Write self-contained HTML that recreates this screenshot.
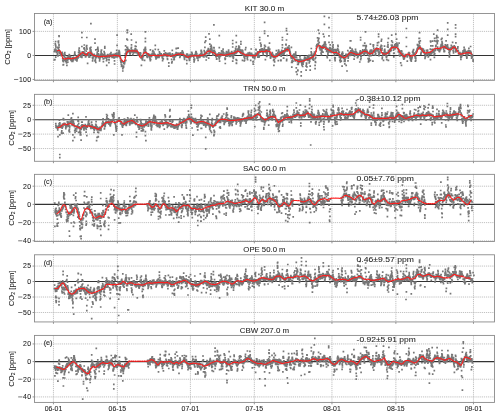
<!DOCTYPE html><html><head><meta charset="utf-8"><style>
html,body{margin:0;padding:0;background:#fff;width:500px;height:416px;overflow:hidden}
svg{will-change:transform}
svg text{font-family:"Liberation Sans", sans-serif;fill:#1a1a1a;stroke:#1a1a1a;stroke-width:0.06px}
.gr{stroke:#b2b2b2;stroke-width:0.8;stroke-dasharray:1.2 0.9}
.sp{stroke:#8a8a8a;stroke-width:0.9}
.tk{stroke:#8a8a8a;stroke-width:0.9}
.tl{font-size:6.9px}
.tt{font-size:8px}
.pl{font-size:7.2px}
.yl{font-size:7.7px}
</style></head><body><svg width="500" height="416" viewBox="0 0 500 416" style="position:absolute;left:0;top:0">
<rect width="500" height="416" fill="#fff"/>
<line x1="53.45" y1="13.52" x2="53.45" y2="80.34" class="gr"/>
<line x1="117.37" y1="13.52" x2="117.37" y2="80.34" class="gr"/>
<line x1="190.41" y1="13.52" x2="190.41" y2="80.34" class="gr"/>
<line x1="254.33" y1="13.52" x2="254.33" y2="80.34" class="gr"/>
<line x1="331.94" y1="13.52" x2="331.94" y2="80.34" class="gr"/>
<line x1="395.86" y1="13.52" x2="395.86" y2="80.34" class="gr"/>
<line x1="473.47" y1="13.52" x2="473.47" y2="80.34" class="gr"/>
<line x1="34.46" y1="31.38" x2="494.48" y2="31.38" class="gr"/>
<line x1="34.46" y1="79.48" x2="494.48" y2="79.48" class="gr"/>
<clipPath id="c0"><rect x="34.46" y="13.52" width="460.02" height="66.82"/></clipPath>
<line x1="34.46" y1="55.43" x2="494.48" y2="55.43" stroke="#333" stroke-width="1.1"/>
<path clip-path="url(#c0)" d="M54.3 51.5h0M54.5 51.6h0M54.6 51.7h0M54.8 50.4h0M55.0 49.3h0M55.3 43.7h0M55.5 44.8h0M55.6 41.5h0M55.8 46.0h0M56.0 47.7h0M56.2 50.1h0M56.4 51.6h0M56.6 52.3h0M56.8 51.0h0M56.9 51.5h0M57.2 51.3h0M57.4 54.8h0M57.5 53.4h0M57.7 54.4h0M58.0 55.8h0M58.2 48.3h0M58.3 48.5h0M58.4 50.6h0M58.7 50.1h0M58.8 50.7h0M59.0 50.0h0M59.2 52.5h0M59.4 50.9h0M59.7 52.4h0M59.8 53.1h0M60.0 51.6h0M60.2 52.9h0M60.3 55.1h0M60.6 54.7h0M60.8 53.3h0M61.0 53.9h0M61.1 52.8h0M61.3 55.7h0M61.5 55.0h0M61.8 52.8h0M62.0 53.8h0M62.1 54.1h0M62.2 52.4h0M62.5 53.8h0M62.7 58.5h0M62.8 60.4h0M63.1 61.0h0M63.2 61.1h0M63.5 59.6h0M63.6 60.3h0M63.8 60.3h0M64.0 56.7h0M64.3 56.4h0M64.3 55.0h0M64.6 53.5h0M64.8 52.7h0M65.0 54.9h0M65.1 57.5h0M65.4 58.2h0M65.5 60.2h0M65.7 58.9h0M65.8 61.5h0M66.0 59.6h0M66.2 61.3h0M66.4 59.4h0M66.6 62.8h0M66.9 65.4h0M67.1 58.4h0M67.2 60.2h0M67.4 57.1h0M67.6 57.9h0M67.9 59.4h0M68.0 59.6h0M68.3 58.6h0M68.4 57.8h0M68.6 56.3h0M68.8 56.7h0M69.0 58.9h0M69.2 54.7h0M69.3 58.1h0M69.5 55.3h0M69.7 55.6h0M70.0 59.0h0M70.1 58.5h0M70.3 57.9h0M70.5 57.3h0M70.6 56.8h0M70.9 59.3h0M71.0 60.5h0M71.2 60.2h0M71.4 60.3h0M71.7 59.7h0M71.8 60.4h0M72.0 61.5h0M72.2 60.9h0M72.3 59.6h0M72.6 57.8h0M72.8 61.4h0M72.9 58.4h0M73.1 60.0h0M73.4 57.3h0M73.5 59.0h0M73.7 59.6h0M73.9 58.6h0M74.1 58.5h0M74.3 58.5h0M74.5 54.8h0M74.7 53.7h0M74.8 52.1h0M75.1 54.5h0M75.2 58.3h0M75.4 58.2h0M75.5 58.2h0M75.8 58.0h0M75.9 59.8h0M76.1 58.3h0M76.4 60.0h0M76.5 56.4h0M76.7 59.6h0M76.9 60.9h0M77.1 59.7h0M77.3 58.1h0M77.5 57.5h0M77.7 56.4h0M78.0 55.9h0M78.0 57.8h0M78.2 57.7h0M78.5 54.9h0M78.6 52.3h0M78.9 50.0h0M79.1 52.9h0M79.2 48.2h0M79.4 50.6h0M79.7 52.0h0M79.7 52.8h0M80.0 53.3h0M80.2 57.0h0M80.4 54.2h0M80.6 53.6h0M80.7 56.8h0M80.9 56.0h0M81.2 54.6h0M81.4 54.7h0M81.4 55.4h0M81.7 56.1h0M81.9 57.4h0M82.1 54.4h0M82.3 51.8h0M82.5 55.3h0M82.6 54.0h0M82.8 53.1h0M83.1 52.0h0M83.2 52.7h0M83.5 53.2h0M83.7 53.8h0M83.9 51.9h0M83.9 48.6h0M84.2 47.9h0M84.3 45.0h0M84.6 48.7h0M84.8 50.0h0M84.9 53.4h0M85.0 53.4h0M85.3 55.4h0M85.5 56.8h0M85.8 56.7h0M85.8 54.6h0M86.1 53.9h0M86.3 51.1h0M86.4 46.5h0M86.7 45.6h0M86.8 48.0h0M87.0 49.1h0M87.2 54.3h0M87.4 55.3h0M87.5 55.5h0M87.8 53.6h0M88.0 54.0h0M88.1 53.4h0M88.4 53.9h0M88.6 53.7h0M88.7 54.3h0M89.0 57.1h0M89.2 55.0h0M89.3 56.0h0M89.6 53.7h0M89.7 54.5h0M89.8 56.9h0M90.0 48.1h0M90.2 51.2h0M90.4 49.5h0M90.7 49.8h0M90.8 54.2h0M91.0 50.4h0M91.2 52.9h0M91.3 52.2h0M91.5 54.1h0M91.8 54.3h0M91.9 53.3h0M92.1 55.5h0M92.4 57.6h0M92.6 60.9h0M92.8 58.8h0M92.9 58.4h0M93.1 57.3h0M93.3 55.3h0M93.4 54.5h0M93.7 56.0h0M93.9 55.6h0M94.1 54.7h0M94.2 54.3h0M94.4 54.8h0M94.6 56.0h0M94.8 56.5h0M95.0 60.9h0M95.3 59.4h0M95.4 60.4h0M95.6 57.5h0M95.8 62.3h0M96.0 56.9h0M96.2 57.7h0M96.3 56.0h0M96.5 56.1h0M96.7 57.3h0M96.9 55.0h0M97.2 53.4h0M97.3 52.1h0M97.5 49.2h0M97.8 47.3h0M97.9 48.8h0M98.1 50.1h0M98.2 51.1h0M98.4 53.9h0M98.6 55.4h0M98.8 57.7h0M98.9 57.7h0M99.2 55.4h0M99.4 57.9h0M99.6 60.9h0M99.7 59.1h0M99.9 58.3h0M100.1 57.1h0M100.3 55.7h0M100.6 56.5h0M100.7 54.3h0M100.9 54.6h0M101.1 51.6h0M101.3 53.1h0M101.4 50.0h0M101.6 50.0h0M101.9 53.8h0M102.0 54.8h0M102.2 57.2h0M102.5 55.5h0M102.7 57.2h0M102.8 57.0h0M103.0 54.7h0M103.2 58.9h0M103.4 61.6h0M103.6 58.9h0M103.8 55.3h0M103.9 55.0h0M104.1 51.6h0M104.3 54.9h0M104.6 53.2h0M104.7 54.5h0M104.9 58.0h0M105.0 55.7h0M105.3 57.2h0M105.5 57.0h0M105.7 55.5h0M105.9 57.0h0M106.1 56.1h0M106.2 58.0h0M106.5 60.6h0M106.7 65.4h0M106.8 59.6h0M107.0 57.5h0M107.2 55.9h0M107.3 55.4h0M107.6 56.6h0M107.8 56.1h0M107.9 54.6h0M108.1 56.0h0M108.3 56.1h0M108.5 57.0h0M108.7 59.5h0M108.9 62.6h0M109.1 59.9h0M109.3 57.3h0M109.4 57.4h0M109.6 55.3h0M109.8 55.8h0M110.0 55.1h0M110.2 53.8h0M110.5 55.1h0M110.6 55.3h0M110.7 54.4h0M111.0 52.6h0M111.1 56.2h0M111.4 54.9h0M111.5 55.5h0M111.8 56.3h0M112.0 56.3h0M112.1 57.3h0M112.4 54.8h0M112.5 55.5h0M112.8 57.3h0M112.8 54.6h0M113.1 56.1h0M113.3 55.8h0M113.5 54.4h0M113.7 56.2h0M113.8 57.3h0M114.0 58.0h0M114.2 57.9h0M114.5 60.9h0M114.5 57.6h0M114.7 54.8h0M114.9 55.5h0M115.1 55.4h0M115.4 53.5h0M115.6 56.3h0M115.7 56.6h0M115.9 55.7h0M116.2 56.8h0M116.4 53.6h0M116.5 54.2h0M116.7 50.4h0M116.9 53.0h0M117.1 55.2h0M117.3 54.4h0M117.5 57.0h0M117.7 55.7h0M117.8 55.0h0M118.1 55.9h0M118.2 56.0h0M118.4 54.4h0M118.7 52.5h0M118.7 52.7h0M119.0 50.7h0M119.2 51.5h0M119.4 51.5h0M119.6 53.0h0M119.7 54.5h0M119.9 55.5h0M120.2 56.7h0M120.3 58.1h0M120.5 58.4h0M120.6 60.3h0M120.9 61.6h0M121.1 62.5h0M121.3 64.3h0M121.5 66.5h0M121.7 64.5h0M121.8 65.7h0M122.0 60.6h0M122.3 61.7h0M122.3 61.8h0M122.6 62.0h0M122.8 62.0h0M123.0 66.5h0M123.1 66.7h0M123.3 67.5h0M123.6 66.9h0M123.8 63.1h0M123.9 63.0h0M124.2 63.8h0M124.4 64.0h0M124.5 62.2h0M124.7 62.6h0M124.8 61.5h0M125.1 57.1h0M125.3 53.9h0M125.5 49.8h0M125.6 45.9h0M125.9 49.5h0M126.0 52.0h0M126.2 53.2h0M126.4 54.5h0M126.6 53.0h0M126.7 52.0h0M127.0 51.8h0M127.2 52.7h0M127.3 51.2h0M127.6 50.0h0M127.7 49.1h0M127.8 50.5h0M128.1 51.4h0M128.3 49.5h0M128.5 50.1h0M128.6 51.6h0M128.9 50.5h0M129.0 51.7h0M129.2 51.4h0M129.5 52.5h0M129.6 50.1h0M129.9 51.6h0M129.9 53.9h0M130.2 54.0h0M130.4 52.8h0M130.6 51.5h0M130.7 51.1h0M130.9 50.9h0M131.2 48.3h0M131.4 50.6h0M131.5 50.5h0M131.6 51.6h0M132.0 50.1h0M132.1 51.9h0M132.2 50.7h0M132.5 50.5h0M132.6 51.3h0M132.8 54.7h0M133.1 50.3h0M133.3 52.4h0M133.5 52.8h0M133.6 52.6h0M133.8 50.6h0M134.0 51.9h0M134.2 52.0h0M134.4 51.0h0M134.6 51.4h0M134.7 52.3h0M135.0 49.8h0M135.2 48.5h0M135.3 46.2h0M135.5 51.3h0M135.7 49.0h0M136.0 50.5h0M136.1 52.6h0M136.2 51.2h0M136.5 51.6h0M136.6 50.8h0M136.8 50.1h0M137.1 51.1h0M137.2 52.7h0M137.5 53.1h0M137.6 55.0h0M137.8 52.5h0M138.0 53.0h0M138.2 52.4h0M138.4 53.8h0M138.5 53.7h0M138.7 53.3h0M139.0 54.9h0M139.1 54.4h0M139.4 55.5h0M139.5 55.5h0M139.8 54.2h0M139.9 52.8h0M140.1 54.5h0M140.3 55.5h0M140.5 52.9h0M140.7 53.9h0M140.9 56.0h0M141.0 55.8h0M141.2 58.2h0M141.5 57.5h0M141.6 56.0h0M141.8 57.9h0M141.9 57.2h0M142.2 59.4h0M142.4 59.4h0M142.6 59.8h0M142.7 57.6h0M142.9 55.7h0M143.1 56.0h0M143.4 56.3h0M143.6 53.1h0M143.7 52.4h0M143.9 53.5h0M144.0 50.0h0M144.3 49.7h0M144.5 50.6h0M144.6 50.1h0M144.8 50.4h0M145.1 48.4h0M145.3 50.3h0M145.4 50.8h0M145.7 49.3h0M145.8 52.1h0M146.1 52.7h0M146.2 53.3h0M146.3 53.4h0M146.6 54.7h0M146.8 54.8h0M146.9 56.6h0M147.2 54.8h0M147.2 55.2h0M147.5 57.5h0M147.8 56.6h0M147.8 56.1h0M148.1 53.9h0M148.2 55.5h0M148.4 54.6h0M148.6 54.6h0M148.8 56.0h0M149.1 54.4h0M149.2 55.3h0M149.4 55.8h0M149.6 54.6h0M149.8 57.7h0M150.0 58.9h0M150.2 59.2h0M150.3 60.6h0M150.5 59.7h0M150.7 59.5h0M150.9 56.2h0M151.1 55.0h0M151.4 55.9h0M151.4 56.6h0M151.7 54.1h0M152.0 55.3h0M152.1 54.3h0M152.3 54.1h0M152.5 52.0h0M152.6 54.2h0M152.9 50.7h0M153.0 53.8h0M153.3 55.0h0M153.4 54.6h0M153.6 54.4h0M153.8 54.5h0M153.9 52.0h0M154.2 53.5h0M154.4 54.5h0M154.5 54.1h0M154.7 55.2h0M154.9 55.3h0M155.2 54.7h0M155.2 55.5h0M155.5 56.3h0M155.7 55.5h0M155.8 57.3h0M156.0 58.9h0M156.3 57.2h0M156.4 58.2h0M156.7 55.7h0M156.8 55.5h0M157.1 55.6h0M157.3 56.0h0M157.4 55.7h0M157.6 55.4h0M157.7 55.9h0M158.0 57.3h0M158.1 54.5h0M158.3 49.7h0M158.5 55.1h0M158.7 55.6h0M159.0 57.4h0M159.2 55.6h0M159.3 55.2h0M159.5 55.6h0M159.7 53.2h0M159.8 55.1h0M160.0 55.7h0M160.2 53.6h0M160.4 53.9h0M160.7 54.3h0M160.9 55.5h0M161.0 54.2h0M161.2 53.9h0M161.4 55.7h0M161.5 55.0h0M161.8 55.5h0M161.9 55.6h0M162.2 57.1h0M162.4 57.9h0M162.6 60.6h0M162.7 58.5h0M162.9 55.5h0M163.2 58.5h0M163.3 58.9h0M163.4 56.0h0M163.7 55.7h0M163.9 53.8h0M164.1 55.3h0M164.2 55.0h0M164.4 54.5h0M164.7 54.8h0M164.8 53.8h0M165.0 54.6h0M165.1 53.4h0M165.3 53.7h0M165.6 54.4h0M165.7 52.8h0M166.0 54.9h0M166.2 54.6h0M166.3 55.8h0M166.6 54.9h0M166.7 55.3h0M166.9 53.8h0M167.1 56.3h0M167.2 56.0h0M167.4 58.7h0M167.6 59.3h0M167.9 55.9h0M168.1 54.7h0M168.2 53.4h0M168.4 54.5h0M168.6 54.5h0M168.8 55.5h0M169.0 55.1h0M169.2 54.6h0M169.4 54.7h0M169.5 54.4h0M169.7 54.9h0M169.9 53.0h0M170.2 55.3h0M170.4 54.7h0M170.5 54.3h0M170.6 54.7h0M170.9 55.6h0M171.1 55.9h0M171.3 55.7h0M171.4 56.1h0M171.6 59.4h0M171.8 62.8h0M172.1 61.7h0M172.3 50.3h0M172.5 53.8h0M172.6 55.4h0M172.8 55.8h0M173.0 57.0h0M173.3 55.1h0M173.4 56.7h0M173.5 56.5h0M173.7 55.1h0M173.9 59.6h0M174.1 57.8h0M174.3 59.5h0M174.5 55.9h0M174.7 56.2h0M174.9 55.5h0M175.1 55.2h0M175.3 56.7h0M175.4 54.1h0M175.7 55.9h0M175.9 54.5h0M176.1 52.6h0M176.2 48.6h0M176.4 48.3h0M176.6 48.4h0M176.8 54.0h0M176.9 54.5h0M177.1 54.1h0M177.4 53.5h0M177.6 53.6h0M177.8 53.1h0M178.0 53.7h0M178.1 54.8h0M178.4 53.6h0M178.5 54.8h0M178.7 53.9h0M178.9 53.5h0M179.1 53.4h0M179.3 55.1h0M179.5 53.6h0M179.7 54.7h0M179.8 57.3h0M180.0 55.0h0M180.2 56.4h0M180.3 55.0h0M180.7 52.9h0M180.7 53.3h0M181.0 53.8h0M181.2 53.4h0M181.4 54.5h0M181.6 54.1h0M181.7 54.4h0M181.9 54.2h0M182.1 52.0h0M182.4 53.3h0M182.5 54.0h0M182.7 53.3h0M182.9 54.3h0M183.1 52.3h0M183.2 53.1h0M183.4 53.9h0M183.6 55.6h0M183.8 55.5h0M184.0 55.5h0M184.2 56.8h0M184.4 58.7h0M184.6 59.4h0M184.8 55.9h0M184.9 55.9h0M185.1 56.8h0M185.3 55.9h0M185.6 55.8h0M185.7 56.3h0M186.0 56.2h0M186.1 55.8h0M186.4 55.3h0M186.6 57.3h0M186.7 54.1h0M186.8 56.1h0M187.0 55.9h0M187.2 55.3h0M187.4 54.2h0M187.7 57.3h0M187.9 57.0h0M187.9 56.7h0M188.3 55.4h0M188.4 56.3h0M188.7 55.4h0M188.8 57.3h0M189.1 57.7h0M189.2 58.8h0M189.4 60.4h0M189.5 60.3h0M189.7 59.3h0M189.9 57.7h0M190.1 55.7h0M190.3 54.6h0M190.5 55.3h0M190.7 56.8h0M190.8 54.8h0M191.0 55.4h0M191.3 55.9h0M191.4 55.5h0M191.6 52.4h0M191.8 52.5h0M192.1 53.7h0M192.2 54.0h0M192.5 55.1h0M192.6 55.1h0M192.8 56.0h0M193.0 55.4h0M193.2 55.8h0M193.4 56.1h0M193.5 55.6h0M193.8 57.3h0M193.9 59.6h0M194.1 61.8h0M194.4 60.1h0M194.6 59.0h0M194.7 55.5h0M194.8 55.0h0M195.1 54.9h0M195.3 55.2h0M195.5 53.6h0M195.6 53.2h0M195.9 51.7h0M196.0 53.1h0M196.2 52.0h0M196.4 55.8h0M196.6 55.4h0M196.8 53.6h0M197.0 57.1h0M197.1 57.3h0M197.4 56.6h0M197.6 55.7h0M197.8 58.4h0M197.9 57.5h0M198.1 60.4h0M198.3 56.7h0M198.5 55.7h0M198.6 56.3h0M198.8 55.5h0M199.1 56.5h0M199.2 55.7h0M199.5 54.6h0M199.6 57.3h0M199.7 56.8h0M200.1 54.9h0M200.1 56.7h0M200.4 55.7h0M200.6 55.8h0M200.9 54.9h0M200.9 53.6h0M201.2 51.2h0M201.3 50.4h0M201.5 51.9h0M201.7 52.1h0M201.9 53.5h0M202.1 55.8h0M202.2 54.9h0M202.5 54.8h0M202.6 54.9h0M202.9 55.6h0M203.0 55.3h0M203.3 56.0h0M203.4 56.6h0M203.6 55.4h0M203.8 56.7h0M204.0 57.0h0M204.2 50.6h0M204.4 53.9h0M204.5 52.0h0M204.8 54.9h0M205.0 52.7h0M205.1 52.4h0M205.3 53.3h0M205.5 52.4h0M205.7 53.6h0M206.0 55.8h0M206.1 56.1h0M206.2 60.0h0M206.5 56.9h0M206.6 56.9h0M206.9 53.7h0M207.1 53.6h0M207.2 50.9h0M207.5 50.5h0M207.6 51.5h0M207.8 51.0h0M208.1 49.7h0M208.3 48.7h0M208.4 51.1h0M208.6 48.9h0M208.7 58.2h0M209.0 53.9h0M209.2 53.5h0M209.3 52.6h0M209.5 52.3h0M209.7 53.0h0M209.9 52.7h0M210.0 51.5h0M210.2 50.2h0M210.4 52.1h0M210.7 49.9h0M210.8 48.5h0M211.1 49.7h0M211.2 45.3h0M211.5 47.1h0M211.7 48.0h0M211.8 49.4h0M212.0 50.4h0M212.2 51.2h0M212.3 52.3h0M212.6 52.3h0M212.7 53.0h0M212.9 54.6h0M213.2 55.2h0M213.4 52.1h0M213.5 52.4h0M213.8 52.5h0M213.9 50.4h0M214.1 48.0h0M214.4 51.0h0M214.4 50.3h0M214.7 51.9h0M214.8 52.8h0M215.0 52.2h0M215.2 54.5h0M215.5 54.5h0M215.5 53.6h0M215.8 53.6h0M215.9 56.4h0M216.2 56.9h0M216.4 56.3h0M216.6 59.1h0M216.8 58.8h0M217.0 55.8h0M217.2 55.2h0M217.3 56.1h0M217.5 54.8h0M217.7 56.1h0M217.9 54.2h0M218.0 55.1h0M218.2 55.9h0M218.5 55.7h0M218.7 55.3h0M218.8 56.9h0M219.0 52.9h0M219.2 58.8h0M219.4 58.0h0M219.6 55.5h0M219.8 54.9h0M220.0 56.3h0M220.2 54.0h0M220.3 55.1h0M220.5 55.6h0M220.8 55.4h0M220.9 53.4h0M221.1 55.4h0M221.4 53.0h0M221.6 51.1h0M221.7 50.9h0M221.9 54.1h0M222.1 54.2h0M222.2 54.8h0M222.5 54.7h0M222.6 51.8h0M222.9 51.2h0M223.1 49.1h0M223.3 52.3h0M223.4 52.7h0M223.6 53.5h0M223.8 52.8h0M224.0 54.3h0M224.1 54.3h0M224.4 55.0h0M224.6 55.1h0M224.7 55.1h0M225.0 58.2h0M225.1 59.5h0M225.3 63.5h0M225.4 58.6h0M225.8 56.1h0M225.9 54.0h0M226.1 53.7h0M226.3 52.6h0M226.5 51.7h0M226.6 52.3h0M226.9 54.4h0M227.0 54.6h0M227.2 56.2h0M227.4 53.7h0M227.6 54.4h0M227.8 52.5h0M228.0 54.8h0M228.2 53.0h0M228.4 52.2h0M228.6 50.1h0M228.7 51.9h0M228.9 52.9h0M229.1 53.2h0M229.3 56.5h0M229.5 54.2h0M229.6 54.6h0M229.8 55.9h0M230.1 54.5h0M230.3 54.3h0M230.4 54.0h0M230.7 55.3h0M230.8 56.3h0M231.1 52.7h0M231.2 54.7h0M231.4 54.7h0M231.7 51.6h0M231.8 51.7h0M232.0 52.5h0M232.1 54.9h0M232.4 53.4h0M232.5 54.0h0M232.7 54.3h0M232.9 56.6h0M233.1 56.3h0M233.3 58.4h0M233.5 57.3h0M233.7 55.1h0M233.9 53.4h0M234.1 52.9h0M234.3 52.0h0M234.4 51.1h0M234.6 54.6h0M234.9 52.9h0M235.0 51.5h0M235.2 52.0h0M235.4 51.4h0M235.6 48.4h0M235.7 49.7h0M236.0 53.4h0M236.1 59.6h0M236.4 63.1h0M236.5 63.4h0M236.7 60.3h0M236.9 52.5h0M237.2 51.5h0M237.2 51.3h0M237.5 49.2h0M237.7 50.4h0M237.9 50.8h0M238.0 50.0h0M238.2 50.6h0M238.4 49.4h0M238.7 48.1h0M238.8 46.0h0M239.0 47.2h0M239.3 47.7h0M239.5 47.2h0M239.6 52.0h0M239.7 49.9h0M240.0 49.7h0M240.2 51.4h0M240.3 50.4h0M240.5 52.4h0M240.8 53.5h0M240.9 52.7h0M241.1 51.2h0M241.3 52.2h0M241.5 52.6h0M241.7 52.1h0M241.8 52.6h0M242.0 50.2h0M242.2 54.5h0M242.4 51.9h0M242.7 50.6h0M242.8 52.3h0M243.0 53.1h0M243.1 55.2h0M243.4 53.4h0M243.5 54.8h0M243.7 54.4h0M244.0 56.8h0M244.1 56.3h0M244.3 61.0h0M244.6 58.0h0M244.7 60.0h0M244.8 58.2h0M245.1 55.0h0M245.4 49.6h0M245.5 55.5h0M245.7 55.6h0M245.8 56.2h0M246.0 55.3h0M246.3 54.3h0M246.5 55.1h0M246.5 54.3h0M246.7 54.7h0M247.1 56.5h0M247.2 58.3h0M247.5 59.5h0M247.6 59.7h0M247.7 56.6h0M247.9 55.5h0M248.1 53.2h0M248.4 54.4h0M248.6 53.5h0M248.6 54.3h0M248.9 55.3h0M249.0 55.1h0M249.3 53.8h0M249.4 54.1h0M249.6 52.5h0M249.8 54.7h0M250.0 54.2h0M250.3 53.7h0M250.4 55.7h0M250.6 54.1h0M250.8 54.1h0M251.0 54.0h0M251.2 49.0h0M251.3 54.6h0M251.6 53.3h0M251.8 54.8h0M251.9 54.7h0M252.1 55.3h0M252.4 55.2h0M252.5 55.7h0M252.8 57.3h0M252.9 57.5h0M253.0 61.9h0M253.2 64.2h0M253.4 61.3h0M253.7 57.7h0M253.9 55.8h0M254.1 55.0h0M254.2 55.7h0M254.5 57.0h0M254.7 58.7h0M254.9 56.9h0M255.0 56.8h0M255.1 55.6h0M255.4 55.0h0M255.5 53.3h0M255.7 53.5h0M255.9 49.4h0M256.1 49.9h0M256.3 54.5h0M256.4 53.8h0M256.7 54.3h0M256.9 55.2h0M257.1 54.6h0M257.3 54.9h0M257.4 52.8h0M257.6 51.9h0M257.8 57.2h0M258.1 56.2h0M258.3 54.9h0M258.4 53.0h0M258.7 52.1h0M258.8 53.7h0M259.0 57.1h0M259.2 56.2h0M259.4 55.9h0M259.6 51.8h0M259.8 51.2h0M259.9 49.9h0M260.1 51.7h0M260.4 50.6h0M260.5 52.1h0M260.7 50.4h0M261.0 46.3h0M261.1 44.8h0M261.2 49.4h0M261.5 49.1h0M261.6 50.6h0M261.9 50.3h0M262.0 51.4h0M262.2 48.8h0M262.5 51.4h0M262.6 51.2h0M262.8 52.3h0M263.0 50.7h0M263.1 53.7h0M263.3 55.0h0M263.6 52.0h0M263.7 49.9h0M264.0 50.1h0M264.1 49.4h0M264.4 48.1h0M264.6 45.3h0M264.7 45.6h0M265.0 51.6h0M265.0 50.1h0M265.3 50.1h0M265.5 51.1h0M265.6 51.4h0M265.8 49.9h0M266.0 51.9h0M266.2 51.5h0M266.3 53.0h0M266.6 56.4h0M266.9 56.2h0M267.0 54.1h0M267.1 52.9h0M267.3 49.9h0M267.5 52.4h0M267.7 51.1h0M267.9 50.3h0M268.2 47.7h0M268.2 48.6h0M268.5 50.4h0M268.7 51.1h0M268.9 50.1h0M269.1 49.7h0M269.2 50.6h0M269.4 50.1h0M269.7 49.1h0M269.8 52.9h0M270.0 54.7h0M270.2 55.7h0M270.4 57.6h0M270.6 58.1h0M270.8 54.5h0M271.0 56.7h0M271.1 56.5h0M271.3 54.8h0M271.5 54.2h0M271.7 54.6h0M272.0 54.3h0M272.2 54.8h0M272.3 52.5h0M272.6 54.0h0M272.7 55.0h0M272.8 56.6h0M273.1 56.7h0M273.2 55.1h0M273.4 55.7h0M273.6 57.5h0M273.9 56.9h0M274.0 59.5h0M274.2 56.0h0M274.4 60.0h0M274.6 61.8h0M274.8 55.8h0M274.9 56.3h0M275.2 55.5h0M275.4 58.0h0M275.5 56.2h0M275.8 56.1h0M275.9 55.4h0M276.1 56.2h0M276.2 53.8h0M276.4 50.6h0M276.7 54.8h0M276.9 54.5h0M277.0 56.3h0M277.3 54.7h0M277.5 55.8h0M277.6 54.6h0M277.8 52.9h0M278.1 52.3h0M278.1 52.3h0M278.4 52.4h0M278.6 50.1h0M278.8 51.2h0M279.0 53.8h0M279.2 53.2h0M279.4 53.9h0M279.5 52.3h0M279.7 54.4h0M279.9 52.1h0M280.2 52.8h0M280.3 52.2h0M280.5 55.3h0M280.7 60.1h0M280.9 60.6h0M281.0 60.2h0M281.2 56.1h0M281.4 54.7h0M281.6 53.0h0M281.7 50.3h0M282.0 51.8h0M282.2 51.8h0M282.4 51.1h0M282.6 53.4h0M282.7 52.0h0M282.9 51.4h0M283.2 50.9h0M283.3 54.4h0M283.5 58.1h0M283.7 58.1h0M284.0 54.0h0M284.1 53.6h0M284.2 52.5h0M284.5 51.9h0M284.7 50.7h0M284.9 51.7h0M285.0 48.9h0M285.2 49.4h0M285.5 50.8h0M285.6 48.4h0M285.8 44.7h0M286.0 44.3h0M286.1 45.0h0M286.4 50.3h0M286.6 60.7h0M286.7 59.4h0M287.0 55.3h0M287.2 50.8h0M287.4 48.9h0M287.5 47.4h0M287.7 48.8h0M287.9 47.6h0M288.1 48.9h0M288.2 48.4h0M288.5 48.5h0M288.7 47.9h0M288.8 48.0h0M289.1 45.9h0M289.3 48.6h0M289.4 48.9h0M289.6 50.1h0M289.8 51.1h0M290.0 52.9h0M290.2 52.0h0M290.4 53.5h0M290.5 54.3h0M290.7 55.5h0M291.0 56.9h0M291.2 56.1h0M291.3 58.5h0M291.6 62.5h0M291.8 67.1h0M291.8 62.4h0M292.1 60.9h0M292.3 62.3h0M292.5 56.6h0M292.7 58.4h0M292.8 59.0h0M293.0 57.6h0M293.2 55.0h0M293.4 57.1h0M293.6 57.0h0M293.8 54.5h0M294.0 54.1h0M294.2 55.0h0M294.4 55.8h0M294.6 56.4h0M294.8 57.2h0M294.9 59.7h0M295.1 59.3h0M295.2 61.0h0M295.6 53.6h0M295.7 52.2h0M295.8 54.9h0M296.1 57.1h0M296.2 59.5h0M296.4 60.1h0M296.6 57.4h0M296.8 60.2h0M297.0 60.2h0M297.2 59.6h0M297.4 61.6h0M297.6 64.3h0M297.8 70.1h0M297.9 70.6h0M298.1 64.5h0M298.3 64.3h0M298.5 62.8h0M298.7 59.8h0M299.0 60.5h0M299.2 61.3h0M299.3 62.0h0M299.5 60.3h0M299.6 59.7h0M299.9 56.8h0M300.0 56.4h0M300.3 59.2h0M300.5 59.8h0M300.6 59.5h0M300.8 61.2h0M301.0 60.2h0M301.3 61.9h0M301.3 61.6h0M301.6 62.7h0M301.8 64.0h0M302.0 62.9h0M302.1 60.1h0M302.3 64.1h0M302.5 62.4h0M302.7 66.5h0M302.9 62.8h0M303.1 64.2h0M303.4 62.0h0M303.5 61.6h0M303.6 60.9h0M303.9 60.9h0M304.0 60.0h0M304.2 59.2h0M304.4 59.2h0M304.6 57.0h0M304.7 58.0h0M305.0 60.0h0M305.2 57.9h0M305.4 59.4h0M305.6 58.6h0M305.8 57.5h0M305.9 60.0h0M306.2 59.2h0M306.4 63.0h0M306.5 64.4h0M306.7 63.0h0M306.9 66.9h0M307.2 59.0h0M307.3 58.7h0M307.5 56.0h0M307.7 60.4h0M307.9 57.4h0M308.1 60.1h0M308.3 57.9h0M308.5 58.5h0M308.6 58.5h0M308.8 56.6h0M309.0 55.3h0M309.2 62.9h0M309.4 60.4h0M309.5 60.8h0M309.8 61.5h0M309.9 58.9h0M310.1 58.7h0M310.4 57.5h0M310.6 57.9h0M310.7 57.9h0M310.9 55.0h0M311.2 51.9h0M311.3 48.5h0M311.5 53.2h0M311.7 57.0h0M311.8 54.6h0M312.1 57.8h0M312.3 58.3h0M312.4 57.4h0M312.6 59.1h0M312.9 58.5h0M313.1 56.3h0M313.1 58.0h0M313.4 60.2h0M313.6 59.8h0M313.7 54.1h0M313.9 54.1h0M314.2 54.4h0M314.3 54.4h0M314.5 52.2h0M314.7 53.0h0M315.0 55.4h0M315.1 58.7h0M315.3 61.7h0M315.6 62.4h0M315.7 57.7h0M315.9 55.1h0M316.0 51.2h0M316.3 48.6h0M316.4 46.2h0M316.6 46.7h0M316.9 44.8h0M317.0 44.6h0M317.2 44.6h0M317.4 45.5h0M317.6 37.9h0M317.7 44.9h0M318.0 41.0h0M318.1 43.7h0M318.4 44.2h0M318.5 44.2h0M318.8 38.5h0M318.9 38.4h0M319.1 42.4h0M319.2 42.5h0M319.5 47.1h0M319.6 48.4h0M319.8 46.4h0M320.1 46.1h0M320.2 49.8h0M320.4 48.4h0M320.5 48.1h0M320.8 48.4h0M321.0 46.6h0M321.1 53.1h0M321.4 54.6h0M321.5 51.3h0M321.8 50.4h0M321.9 48.7h0M322.2 51.4h0M322.3 47.4h0M322.6 48.2h0M322.6 45.8h0M322.9 52.2h0M323.0 52.1h0M323.3 48.1h0M323.5 45.1h0M323.7 46.2h0M323.8 44.8h0M324.1 47.0h0M324.2 46.2h0M324.4 43.7h0M324.6 42.1h0M324.7 46.1h0M325.0 42.8h0M325.2 42.0h0M325.4 44.2h0M325.5 49.2h0M325.8 44.9h0M325.9 46.9h0M326.2 49.0h0M326.4 48.2h0M326.6 51.4h0M326.7 50.8h0M326.9 51.0h0M327.0 55.9h0M327.3 57.7h0M327.4 48.4h0M327.6 49.4h0M327.9 54.1h0M328.0 52.3h0M328.2 51.0h0M328.4 50.7h0M328.5 49.7h0M328.8 51.8h0M328.9 50.4h0M329.1 49.2h0M329.4 51.9h0M329.5 51.0h0M329.7 47.6h0M329.9 48.7h0M330.2 44.9h0M330.3 48.0h0M330.5 51.7h0M330.6 49.0h0M330.9 51.1h0M331.0 50.7h0M331.2 52.3h0M331.5 52.1h0M331.7 49.6h0M331.9 50.9h0M332.0 49.3h0M332.3 50.1h0M332.5 48.9h0M332.7 46.5h0M332.7 50.1h0M332.9 50.5h0M333.2 52.0h0M333.4 51.0h0M333.6 50.5h0M333.7 50.9h0M333.9 52.3h0M334.1 49.6h0M334.2 53.5h0M334.5 54.8h0M334.7 57.5h0M334.9 58.9h0M335.1 60.7h0M335.2 57.8h0M335.4 53.3h0M335.6 50.9h0M335.8 49.5h0M336.1 50.6h0M336.2 51.5h0M336.5 50.1h0M336.5 53.0h0M336.7 53.0h0M337.0 54.2h0M337.1 50.0h0M337.4 50.1h0M337.6 50.4h0M337.7 48.5h0M337.9 45.3h0M338.1 46.5h0M338.3 50.9h0M338.4 50.2h0M338.6 53.9h0M338.8 52.5h0M339.0 54.7h0M339.3 52.2h0M339.4 56.9h0M339.6 56.5h0M339.8 60.5h0M340.0 57.7h0M340.2 59.8h0M340.4 62.0h0M340.5 60.6h0M340.7 58.3h0M340.9 55.2h0M341.2 55.4h0M341.3 57.1h0M341.6 57.1h0M341.8 53.7h0M342.0 56.3h0M342.1 54.1h0M342.3 53.7h0M342.5 52.2h0M342.6 55.6h0M342.9 53.6h0M343.0 57.5h0M343.2 56.1h0M343.5 56.9h0M343.6 58.3h0M343.8 57.5h0M344.0 57.3h0M344.1 58.2h0M344.3 61.3h0M344.6 60.0h0M344.8 63.9h0M345.0 61.4h0M345.1 59.9h0M345.3 57.0h0M345.5 57.4h0M345.7 57.9h0M345.9 54.4h0M346.0 54.4h0M346.3 55.7h0M346.5 55.0h0M346.7 55.9h0M346.9 54.4h0M347.1 56.0h0M347.2 55.8h0M347.4 54.4h0M347.7 55.1h0M347.9 56.3h0M348.0 60.8h0M348.2 58.2h0M348.4 56.6h0M348.6 54.9h0M348.8 55.1h0M348.9 53.8h0M349.2 53.8h0M349.3 52.3h0M349.5 53.2h0M349.8 52.3h0M349.9 53.1h0M350.0 47.7h0M350.3 55.3h0M350.4 53.1h0M350.6 54.3h0M350.9 50.8h0M351.0 52.1h0M351.2 53.9h0M351.4 51.3h0M351.6 52.8h0M351.9 54.8h0M352.1 49.2h0M352.2 50.8h0M352.4 52.3h0M352.7 50.6h0M352.7 51.7h0M352.9 53.3h0M353.2 53.1h0M353.3 53.4h0M353.5 53.1h0M353.7 54.1h0M353.8 51.6h0M354.1 59.1h0M354.3 55.1h0M354.5 56.5h0M354.6 53.1h0M354.8 54.0h0M355.1 52.2h0M355.3 55.1h0M355.5 49.3h0M355.5 52.5h0M355.8 51.3h0M355.9 54.7h0M356.1 52.2h0M356.4 53.8h0M356.6 52.9h0M356.8 52.7h0M357.0 54.7h0M357.1 53.7h0M357.4 57.7h0M357.5 57.7h0M357.7 55.6h0M357.9 55.4h0M358.0 56.6h0M358.2 55.9h0M358.4 54.4h0M358.7 54.4h0M358.9 55.1h0M359.1 53.9h0M359.2 53.6h0M359.4 53.4h0M359.7 53.2h0M359.9 52.7h0M360.1 52.1h0M360.2 54.5h0M360.3 50.8h0M360.6 54.2h0M360.8 56.4h0M361.0 58.4h0M361.2 56.4h0M361.4 55.5h0M361.6 52.6h0M361.8 53.5h0M361.9 52.2h0M362.1 53.0h0M362.4 52.0h0M362.5 51.2h0M362.6 51.9h0M362.8 49.9h0M363.1 50.8h0M363.2 45.6h0M363.5 50.9h0M363.6 51.0h0M363.7 52.0h0M363.9 53.9h0M364.2 55.2h0M364.4 51.9h0M364.6 53.7h0M364.8 49.8h0M364.9 50.4h0M365.2 52.6h0M365.4 52.6h0M365.5 50.8h0M365.7 48.4h0M366.0 46.7h0M366.1 45.7h0M366.3 46.2h0M366.4 53.0h0M366.6 50.0h0M366.8 50.9h0M367.1 51.5h0M367.3 51.9h0M367.5 54.7h0M367.6 52.8h0M367.8 53.6h0M367.9 53.6h0M368.1 58.6h0M368.4 58.6h0M368.5 61.9h0M368.7 60.2h0M368.9 61.2h0M369.2 58.4h0M369.3 55.9h0M369.5 53.7h0M369.7 52.2h0M369.9 54.1h0M370.0 51.4h0M370.3 51.9h0M370.4 50.3h0M370.6 53.5h0M370.9 55.6h0M371.1 50.7h0M371.2 50.2h0M371.3 50.8h0M371.7 50.0h0M371.8 50.6h0M371.9 51.8h0M372.1 52.6h0M372.3 51.3h0M372.6 53.6h0M372.7 54.6h0M372.9 61.1h0M373.2 44.9h0M373.3 46.5h0M373.6 45.0h0M373.8 48.4h0M373.8 51.0h0M374.0 50.3h0M374.2 51.5h0M374.4 50.9h0M374.6 51.7h0M374.8 50.4h0M375.0 52.1h0M375.2 54.3h0M375.3 55.2h0M375.6 54.9h0M375.8 53.3h0M375.9 50.6h0M376.1 48.9h0M376.4 51.0h0M376.6 48.0h0M376.8 49.0h0M376.9 49.1h0M377.1 48.6h0M377.3 45.3h0M377.5 42.8h0M377.6 45.4h0M377.9 50.7h0M378.0 50.0h0M378.2 49.6h0M378.5 52.2h0M378.6 52.7h0M378.8 54.5h0M379.0 55.7h0M379.3 52.2h0M379.4 52.5h0M379.5 53.6h0M379.8 52.3h0M380.0 52.7h0M380.2 50.4h0M380.4 47.6h0M380.6 49.9h0M380.7 49.3h0M380.8 46.5h0M381.2 45.3h0M381.3 41.1h0M381.6 39.3h0M381.7 45.9h0M381.8 50.1h0M382.1 48.4h0M382.2 58.7h0M382.4 57.1h0M382.7 53.2h0M382.9 54.9h0M382.9 52.8h0M383.2 54.1h0M383.3 53.0h0M383.6 53.6h0M383.7 54.3h0M383.9 53.2h0M384.2 52.3h0M384.4 50.3h0M384.5 46.2h0M384.8 49.3h0M384.9 51.0h0M385.0 53.1h0M385.3 54.5h0M385.6 55.2h0M385.6 53.6h0M385.9 53.9h0M386.0 52.5h0M386.2 56.6h0M386.5 57.5h0M386.7 59.6h0M386.8 56.2h0M387.0 53.4h0M387.2 52.6h0M387.4 53.0h0M387.5 46.6h0M387.8 42.6h0M388.0 44.8h0M388.1 47.2h0M388.4 50.5h0M388.5 52.1h0M388.7 54.0h0M388.9 53.7h0M389.2 52.5h0M389.3 53.5h0M389.5 54.0h0M389.7 49.4h0M389.8 51.2h0M390.0 51.1h0M390.3 51.3h0M390.5 51.3h0M390.5 50.9h0M390.8 49.6h0M391.0 48.2h0M391.2 50.3h0M391.4 45.2h0M391.6 45.5h0M391.8 46.1h0M392.0 45.1h0M392.2 45.4h0M392.3 46.6h0M392.5 46.6h0M392.7 47.3h0M392.8 47.7h0M393.1 47.8h0M393.3 47.4h0M393.5 50.1h0M393.7 53.3h0M393.8 56.8h0M394.1 53.2h0M394.3 48.8h0M394.4 46.3h0M394.6 46.3h0M394.8 44.8h0M394.9 46.6h0M395.2 48.6h0M395.5 45.1h0M395.5 44.7h0M395.7 43.9h0M396.0 47.3h0M396.1 46.1h0M396.3 46.7h0M396.5 45.7h0M396.8 45.5h0M396.9 43.0h0M397.1 44.7h0M397.2 45.8h0M397.5 46.1h0M397.6 46.6h0M397.8 44.8h0M398.1 48.5h0M398.3 51.8h0M398.4 49.8h0M398.6 49.5h0M398.8 50.1h0M398.9 49.8h0M399.2 55.0h0M399.4 52.8h0M399.6 55.5h0M399.8 52.7h0M399.9 56.0h0M400.1 51.1h0M400.3 52.5h0M400.5 52.2h0M400.7 54.0h0M400.9 51.3h0M401.0 52.9h0M401.2 53.7h0M401.4 50.9h0M401.7 51.4h0M401.8 51.6h0M402.1 54.7h0M402.2 54.2h0M402.4 54.1h0M402.6 56.0h0M402.8 53.5h0M402.9 55.0h0M403.1 56.5h0M403.4 57.2h0M403.5 58.1h0M403.7 59.2h0M403.9 58.8h0M404.0 57.7h0M404.3 58.3h0M404.6 57.4h0M404.7 56.1h0M405.0 55.6h0M405.0 55.8h0M405.3 54.5h0M405.5 55.9h0M405.6 54.9h0M405.8 55.3h0M406.1 55.5h0M406.2 54.8h0M406.4 55.7h0M406.7 55.4h0M406.8 55.2h0M406.9 55.4h0M407.2 56.9h0M407.3 56.8h0M407.6 55.5h0M407.8 54.8h0M407.9 55.0h0M408.2 55.1h0M408.3 55.4h0M408.5 53.2h0M408.7 54.6h0M408.9 54.2h0M409.0 52.5h0M409.2 53.6h0M409.5 53.3h0M409.6 53.8h0M409.8 56.5h0M410.1 57.5h0M410.2 58.1h0M410.4 57.0h0M410.6 59.9h0M410.8 58.8h0M411.0 58.7h0M411.1 60.4h0M411.3 60.2h0M411.5 57.7h0M411.8 58.6h0M411.9 55.4h0M412.1 57.4h0M412.3 55.5h0M412.6 55.5h0M412.6 52.2h0M412.9 52.7h0M413.0 51.6h0M413.2 50.7h0M413.4 54.0h0M413.6 49.6h0M413.8 53.2h0M414.1 53.1h0M414.2 53.4h0M414.4 54.9h0M414.5 55.1h0M414.8 55.8h0M415.0 55.5h0M415.2 57.4h0M415.4 58.1h0M415.5 56.6h0M415.8 58.3h0M416.0 52.1h0M416.1 52.8h0M416.2 51.7h0M416.5 52.0h0M416.7 51.4h0M416.8 50.7h0M417.0 50.1h0M417.2 48.6h0M417.4 44.7h0M417.7 45.2h0M417.9 47.7h0M418.0 48.4h0M418.3 46.9h0M418.4 47.7h0M418.6 48.6h0M418.8 46.4h0M419.0 45.2h0M419.2 47.5h0M419.4 47.8h0M419.6 46.2h0M419.7 46.6h0M419.9 46.0h0M420.2 48.7h0M420.3 47.5h0M420.4 47.7h0M420.7 49.2h0M420.8 54.1h0M421.0 53.6h0M421.2 52.4h0M421.5 49.7h0M421.6 48.9h0M421.8 50.3h0M422.1 48.6h0M422.2 49.8h0M422.4 50.5h0M422.5 51.4h0M422.8 49.8h0M423.0 49.0h0M423.2 49.5h0M423.3 49.1h0M423.5 52.2h0M423.7 51.7h0M423.9 52.0h0M424.1 50.5h0M424.3 53.1h0M424.5 51.8h0M424.7 54.5h0M424.9 53.7h0M425.0 58.4h0M425.2 56.8h0M425.4 56.5h0M425.6 55.8h0M425.8 55.7h0M426.0 54.8h0M426.2 53.5h0M426.4 50.4h0M426.6 53.3h0M426.8 53.3h0M426.9 50.4h0M427.1 51.4h0M427.3 50.9h0M427.6 50.4h0M427.6 50.2h0M427.9 54.1h0M428.1 54.1h0M428.2 57.0h0M428.4 55.1h0M428.6 56.3h0M428.9 54.2h0M429.0 53.1h0M429.2 52.3h0M429.5 53.8h0M429.6 53.0h0M429.8 54.1h0M430.0 53.6h0M430.1 52.3h0M430.3 49.2h0M430.5 41.2h0M430.7 42.0h0M430.9 45.8h0M431.1 49.7h0M431.3 51.8h0M431.5 54.0h0M431.8 52.5h0M431.9 52.6h0M432.1 52.4h0M432.3 51.8h0M432.5 41.2h0M432.7 45.8h0M432.8 49.4h0M433.1 51.3h0M433.2 51.5h0M433.5 51.3h0M433.7 50.6h0M433.8 52.1h0M433.9 52.3h0M434.1 54.6h0M434.4 57.3h0M434.6 53.9h0M434.8 53.7h0M434.9 50.7h0M435.1 49.2h0M435.3 50.3h0M435.5 48.7h0M435.7 49.7h0M435.8 46.2h0M436.0 45.4h0M436.3 41.4h0M436.5 37.9h0M436.7 35.5h0M436.9 37.0h0M437.1 40.4h0M437.3 43.6h0M437.3 42.6h0M437.6 47.1h0M437.8 49.8h0M438.0 48.8h0M438.1 49.0h0M438.4 49.7h0M438.6 49.3h0M438.8 49.9h0M439.0 50.3h0M439.1 50.9h0M439.3 50.4h0M439.5 51.7h0M439.6 51.1h0M439.9 50.5h0M440.1 49.0h0M440.3 48.6h0M440.5 47.2h0M440.6 49.3h0M440.8 48.3h0M441.0 45.5h0M441.2 44.5h0M441.3 39.3h0M441.6 46.5h0M441.7 44.6h0M442.0 44.4h0M442.2 43.2h0M442.4 44.0h0M442.6 45.8h0M442.8 46.2h0M442.9 46.4h0M443.2 47.4h0M443.2 47.7h0M443.5 48.0h0M443.7 49.1h0M444.0 51.0h0M444.1 51.7h0M444.3 50.9h0M444.5 51.2h0M444.6 51.5h0M444.9 47.3h0M445.0 47.0h0M445.3 47.7h0M445.4 45.8h0M445.7 46.5h0M445.7 48.0h0M446.0 46.4h0M446.2 47.9h0M446.3 48.4h0M446.6 46.7h0M446.7 47.6h0M447.0 45.7h0M447.2 46.3h0M447.2 47.6h0M447.5 44.9h0M447.7 46.6h0M447.8 48.1h0M448.0 49.2h0M448.2 48.6h0M448.5 48.0h0M448.6 48.8h0M448.8 49.8h0M449.0 52.4h0M449.2 55.8h0M449.4 57.0h0M449.6 54.1h0M449.7 51.9h0M450.0 50.9h0M450.2 49.1h0M450.4 49.5h0M450.6 48.0h0M450.8 49.2h0M450.9 48.6h0M451.1 49.5h0M451.3 45.4h0M451.4 47.3h0M451.7 48.5h0M451.9 48.4h0M452.0 48.4h0M452.3 48.2h0M452.4 47.0h0M452.6 46.5h0M452.9 47.8h0M452.9 47.2h0M453.1 50.7h0M453.5 52.8h0M453.6 52.1h0M453.8 48.7h0M454.0 47.7h0M454.2 47.3h0M454.3 45.8h0M454.5 47.2h0M454.7 47.3h0M455.0 47.3h0M455.0 46.9h0M455.2 48.3h0M455.5 50.9h0M455.7 49.0h0M455.8 51.9h0M456.1 49.2h0M456.3 50.5h0M456.4 50.4h0M456.6 51.1h0M456.8 50.9h0M457.0 50.9h0M457.2 50.8h0M457.4 51.2h0M457.6 51.0h0M457.7 48.4h0M457.9 46.8h0M458.2 50.6h0M458.3 50.9h0M458.5 53.4h0M458.7 54.0h0M458.9 53.9h0M459.1 53.9h0M459.3 53.9h0M459.5 54.5h0M459.7 55.2h0M459.9 52.7h0M460.0 53.0h0M460.2 53.9h0M460.4 54.6h0M460.7 56.8h0M460.8 57.5h0M460.9 59.3h0M461.2 57.2h0M461.3 56.2h0M461.5 56.7h0M461.8 55.8h0M461.9 54.1h0M462.1 55.2h0M462.4 52.8h0M462.6 52.6h0M462.7 54.4h0M462.9 52.7h0M463.1 50.8h0M463.2 53.0h0M463.5 52.5h0M463.7 51.9h0M463.9 50.3h0M464.1 51.9h0M464.3 51.5h0M464.4 49.3h0M464.6 50.7h0M464.7 49.9h0M464.9 49.6h0M465.2 51.3h0M465.4 51.9h0M465.6 53.8h0M465.7 53.8h0M466.0 52.5h0M466.1 53.2h0M466.4 51.6h0M466.5 56.4h0M466.8 58.2h0M467.0 55.0h0M467.0 57.0h0M467.3 55.2h0M467.5 54.3h0M467.7 52.7h0M467.9 52.4h0M468.1 51.2h0M468.2 53.9h0M468.4 52.8h0M468.6 50.5h0M468.9 48.4h0M469.0 53.5h0M469.1 50.8h0M469.4 51.7h0M469.5 52.2h0M469.8 51.8h0M470.0 52.3h0M470.2 53.1h0M470.3 53.2h0M470.4 51.1h0M470.8 52.5h0M470.9 53.4h0M471.1 52.3h0M471.2 55.3h0M471.5 56.1h0M471.6 58.2h0M471.8 57.3h0M472.1 57.4h0M472.2 54.6h0M472.5 55.6h0M59.1 36.3h0M58.6 41.0h0M58.6 43.0h0M59.0 45.4h0M59.0 47.3h0M63.5 61.7h0M63.5 64.6h0M67.8 62.2h0M54.3 59.8h0M59.0 35.9h0M58.2 41.6h0M59.0 44.9h0M57.9 47.3h0M54.9 59.6h0M55.7 57.1h0M81.9 32.6h0M81.9 37.5h0M81.9 46.5h0M86.8 37.5h0M86.8 45.7h0M90.9 23.6h0M90.9 47.3h0M90.1 48.9h0M95.0 39.2h0M95.0 43.2h0M95.8 49.8h0M104.8 46.5h0M104.8 48.1h0M117.1 35.1h0M117.1 45.4h0M127.2 30.2h0M127.2 32.6h0M126.9 39.2h0M126.9 47.3h0M63.1 65.0h0M66.4 62.0h0M87.6 63.3h0M114.6 64.0h0M122.8 68.6h0M122.8 71.0h0M123.6 66.1h0M127.5 30.2h0M127.5 32.3h0M131.2 34.2h0M127.5 40.0h0M131.5 40.0h0M127.5 47.3h0M131.5 44.9h0M131.5 47.3h0M136.1 42.4h0M136.1 46.5h0M125.8 60.4h0M145.4 31.8h0M145.4 38.3h0M145.4 41.6h0M145.4 47.3h0M141.4 65.3h0M144.6 60.4h0M150.4 49.8h0M155.3 45.4h0M155.3 49.3h0M159.4 51.9h0M164.3 50.9h0M168.8 62.9h0M168.8 66.1h0M178.2 48.1h0M182.3 50.9h0M186.8 60.4h0M186.8 63.7h0M201.1 50.6h0M197.0 58.0h0M213.9 24.8h0M209.0 33.9h0M205.7 37.2h0M205.7 40.8h0M204.9 42.4h0M209.8 39.2h0M209.8 44.1h0M210.6 46.5h0M204.9 47.3h0M219.3 35.6h0M219.3 47.7h0M213.9 47.7h0M232.7 40.5h0M232.7 43.7h0M236.3 35.6h0M236.3 42.4h0M236.3 46.5h0M232.7 47.0h0M240.9 41.6h0M240.9 44.1h0M245.8 47.7h0M264.6 22.3h0M264.6 31.0h0M264.6 33.4h0M259.7 37.5h0M259.7 40.0h0M260.5 43.2h0M267.9 35.9h0M269.5 43.2h0M268.7 47.3h0M265.4 46.5h0M219.6 61.2h0M232.7 61.2h0M242.5 60.4h0M250.7 60.4h0M273.6 60.4h0M273.9 65.3h0M265.4 59.6h0M286.5 28.5h0M286.5 30.7h0M287.3 34.2h0M282.4 37.5h0M282.4 40.0h0M286.5 40.0h0M282.4 44.9h0M282.4 47.7h0M291.4 47.3h0M278.3 60.7h0M296.3 67.8h0M296.3 71.8h0M297.1 74.3h0M301.2 71.8h0M301.2 75.9h0M302.0 65.3h0M306.1 66.1h0M306.1 70.2h0M310.2 66.1h0M310.2 70.2h0M315.1 65.3h0M315.1 68.6h0M293.0 61.2h0M324.4 16.3h0M329.0 17.6h0M324.4 24.4h0M329.0 27.7h0M318.4 30.2h0M319.2 33.4h0M323.3 34.2h0M324.1 36.7h0M329.0 35.9h0M318.4 40.0h0M329.0 42.4h0M332.3 42.4h0M333.1 44.9h0M333.1 47.3h0M350.3 40.8h0M350.3 48.1h0M347.8 50.6h0M329.8 60.4h0M341.3 61.2h0M342.1 66.1h0M346.2 65.3h0M347.0 71.0h0M365.5 31.8h0M360.6 37.5h0M360.6 40.0h0M364.7 43.2h0M364.7 45.7h0M370.4 44.1h0M378.6 34.2h0M378.6 36.7h0M378.6 42.4h0M388.4 38.3h0M391.7 35.1h0M391.7 40.8h0M392.5 42.4h0M395.8 34.2h0M396.6 39.2h0M399.1 43.2h0M395.8 44.1h0M406.4 28.5h0M406.4 37.5h0M406.4 46.5h0M419.5 32.6h0M419.5 38.3h0M420.3 40.8h0M419.5 43.2h0M350.8 40.8h0M359.8 62.0h0M360.6 59.6h0M370.4 60.4h0M383.5 60.4h0M388.4 60.4h0M400.7 62.9h0M401.5 65.3h0M407.3 61.2h0M411.3 61.2h0M415.4 61.2h0M447.7 22.8h0M455.6 24.8h0M447.7 29.3h0M437.6 30.2h0M419.6 32.6h0M433.8 34.2h0M447.7 35.1h0M455.6 28.0h0M455.6 34.2h0M455.6 36.7h0M419.1 38.3h0M419.1 41.6h0M434.6 38.3h0M437.9 37.5h0M442.0 38.3h0M442.0 41.6h0M434.6 40.8h0M437.9 40.8h0M446.1 40.8h0M452.6 42.4h0M455.9 42.8h0M445.3 44.9h0M464.1 47.3h0M470.6 46.5h0M430.5 59.6h0M415.8 60.4h0M473.1 59.6h0M473.1 61.2h0" stroke="#777" stroke-width="1.7" stroke-linecap="square" fill="none"/>
<path d="M57.2 50.6 58.3 50.6 59.4 50.2 60.5 51.5 61.6 54.4 62.7 58.2 63.8 58.6 64.9 59.2 66.0 58.6 67.1 58.7 68.2 57.9 69.3 58.5 70.4 58.4 71.5 58.9 72.6 58.2 73.7 58.4 74.8 57.7 75.9 57.8 77.0 56.8 78.1 56.6 79.2 55.2 80.3 54.3 81.4 53.1 82.5 52.5 83.6 52.9 84.7 54.3 85.8 54.8 86.9 55.3 88.0 52.6 89.1 52.2 90.2 52.3 91.3 53.5 92.4 54.4 93.5 55.6 94.6 55.5 95.7 56.0 96.8 56.0 97.9 56.6 99.0 56.7 100.1 56.8 101.2 56.3 102.3 56.5 103.4 56.1 104.5 56.6 105.6 56.2 106.7 56.3 107.8 55.9 108.9 56.0 110.0 55.7 111.1 55.9 112.2 55.7 113.3 55.7 114.4 55.0 115.5 55.6 116.6 55.4 117.7 56.0 118.8 55.6 119.9 56.8 121.0 59.0 122.1 60.7 123.2 61.5 124.3 61.2 125.4 58.3 126.5 53.6 127.6 51.5 128.7 51.0 129.8 50.7 130.9 51.0 132.0 50.8 133.1 51.0 134.2 50.8 135.3 51.2 136.4 50.7 137.5 51.5 138.6 53.2 139.7 57.2 140.8 57.2 141.9 56.8 143.0 54.4 144.1 53.2 145.2 52.1 146.3 52.8 147.4 53.3 148.5 55.1 149.6 55.3 150.7 55.7 151.8 55.5 152.9 55.6 154.0 55.0 155.1 55.4 156.2 55.4 157.3 55.8 158.4 55.5 159.5 55.7 160.6 55.4 161.7 55.4 162.8 54.9 163.9 55.1 165.0 54.6 166.1 55.2 167.2 55.0 168.3 55.8 169.4 55.7 170.5 56.4 171.6 55.9 172.7 55.8 173.8 55.3 174.9 55.4 176.0 54.5 177.1 54.6 178.2 53.9 179.3 54.3 180.4 53.9 181.5 54.5 182.6 54.4 183.7 54.8 184.8 55.0 185.9 56.3 187.0 56.6 188.1 57.6 189.2 56.5 190.3 56.4 191.4 55.8 192.5 56.0 193.6 55.6 194.7 56.0 195.8 55.6 196.9 56.1 198.0 55.5 199.1 55.9 200.2 55.2 201.3 55.4 202.4 55.1 203.5 55.2 204.6 54.2 205.7 53.7 206.8 52.1 207.9 51.6 209.0 50.8 210.1 51.3 211.2 51.8 212.3 52.7 213.4 52.5 214.5 53.1 215.6 54.2 216.7 55.6 217.8 54.8 218.9 54.8 220.0 54.5 221.1 54.9 222.2 54.6 223.3 55.2 224.4 54.9 225.5 55.2 226.6 54.6 227.7 54.8 228.8 54.1 229.9 54.1 231.0 53.4 232.1 53.6 233.2 52.9 234.3 53.1 235.4 52.1 236.5 51.9 237.6 51.0 238.7 51.4 239.8 51.7 240.9 52.8 242.0 53.1 243.1 53.9 244.2 54.1 245.3 55.2 246.4 54.9 247.5 55.3 248.6 55.0 249.7 55.5 250.8 55.4 251.9 55.8 253.0 55.5 254.1 56.0 255.2 55.6 256.3 55.9 257.4 53.3 258.5 52.1 259.6 51.6 260.7 51.7 261.8 51.2 262.9 51.8 264.0 51.5 265.1 51.7 266.2 50.4 267.3 51.2 268.4 51.2 269.5 51.5 270.6 52.0 271.7 55.3 272.8 55.8 273.9 56.9 275.0 56.4 276.1 56.8 277.2 55.8 278.3 55.2 279.4 53.9 280.5 53.3 281.6 52.2 282.7 51.9 283.8 51.0 284.9 51.0 286.0 49.9 287.1 49.2 288.2 49.5 289.3 51.7 290.4 54.9 291.5 56.4 292.6 56.7 293.7 58.1 294.8 59.3 295.9 60.5 297.0 60.6 298.1 61.4 299.2 61.2 300.3 61.7 301.4 61.3 302.5 61.2 303.6 60.6 304.7 60.6 305.8 59.8 306.9 59.7 308.0 59.1 309.1 59.0 310.2 58.1 311.3 57.9 312.4 56.9 313.5 56.5 314.6 55.4 315.7 52.8 316.8 47.8 317.9 46.4 319.0 45.4 320.1 46.0 321.2 47.3 322.3 47.9 323.4 46.9 324.5 47.6 325.6 47.9 326.7 49.0 327.8 49.4 328.9 50.2 330.0 50.4 331.1 51.4 332.2 52.2 333.3 53.0 334.4 52.4 335.5 52.5 336.6 52.3 337.7 53.1 338.8 53.7 339.9 55.5 341.0 56.1 342.1 57.1 343.2 57.2 344.3 57.8 345.4 57.2 346.5 56.6 347.6 55.2 348.7 54.2 349.8 52.7 350.9 52.5 352.0 52.6 353.1 53.4 354.2 53.4 355.3 54.3 356.4 54.2 357.5 54.6 358.6 54.4 359.7 54.1 360.8 53.1 361.9 52.9 363.0 51.8 364.1 51.4 365.2 51.0 366.3 51.8 367.4 51.9 368.5 53.2 369.6 53.7 370.7 53.8 371.8 53.2 372.9 53.1 374.0 50.8 375.1 49.3 376.2 48.5 377.3 48.9 378.4 48.5 379.5 49.1 380.6 49.6 381.7 52.7 382.8 53.3 383.9 54.1 385.0 54.0 386.1 54.1 387.2 53.3 388.3 52.5 389.4 51.2 390.5 49.7 391.6 47.6 392.7 47.7 393.8 47.0 394.9 47.3 396.0 47.2 397.1 47.8 398.2 49.1 399.3 51.4 400.4 52.9 401.5 54.3 402.6 55.2 403.7 56.3 404.8 56.9 405.9 55.2 407.0 54.1 408.1 54.3 409.2 54.3 410.3 56.3 411.4 55.8 412.5 56.0 413.6 55.4 414.7 55.3 415.8 53.9 416.9 51.9 418.0 49.4 419.1 48.0 420.2 47.2 421.3 48.6 422.4 50.4 423.5 52.5 424.6 52.4 425.7 53.3 426.8 52.5 427.9 52.9 429.0 52.2 430.1 52.5 431.2 51.4 432.3 50.7 433.4 49.2 434.5 48.9 435.6 48.1 436.7 48.5 437.8 48.3 438.9 48.6 440.0 48.0 441.1 48.2 442.2 47.3 443.3 47.2 444.4 46.3 445.5 47.8 446.6 48.3 447.7 49.2 448.8 49.2 449.9 49.8 451.0 49.7 452.1 48.7 453.2 47.1 454.3 47.3 455.4 47.6 456.5 49.8 457.6 51.1 458.7 53.6 459.8 53.8 460.9 54.3 462.0 53.7 463.1 53.8 464.2 53.1 465.3 53.4 466.4 52.6 467.5 52.9 468.6 52.4 469.7 53.1 470.8 53.0 471.9 54.5" stroke="#ff1c1c" stroke-width="1.05" fill="none" stroke-linejoin="round"/>
<rect x="34.46" y="13.52" width="460.02" height="66.82" fill="none" class="sp"/>
<line x1="32.56" y1="31.38" x2="34.46" y2="31.38" class="tk"/>
<text x="31.3" y="33.78" class="tl" text-anchor="end" letter-spacing="0.3">100</text>
<line x1="32.56" y1="55.43" x2="34.46" y2="55.43" class="tk"/>
<text x="31.3" y="57.83" class="tl" text-anchor="end" letter-spacing="0.3">0</text>
<line x1="32.56" y1="79.48" x2="34.46" y2="79.48" class="tk"/>
<text x="31.3" y="81.88" class="tl" text-anchor="end" letter-spacing="0.3">100</text>
<line x1="14.04" y1="79.48" x2="18.24" y2="79.48" stroke="#262626" stroke-width="0.62"/>
<line x1="53.45" y1="80.34" x2="53.45" y2="82.24" class="tk"/>
<line x1="117.37" y1="80.34" x2="117.37" y2="82.24" class="tk"/>
<line x1="190.41" y1="80.34" x2="190.41" y2="82.24" class="tk"/>
<line x1="254.33" y1="80.34" x2="254.33" y2="82.24" class="tk"/>
<line x1="331.94" y1="80.34" x2="331.94" y2="82.24" class="tk"/>
<line x1="395.86" y1="80.34" x2="395.86" y2="82.24" class="tk"/>
<line x1="473.47" y1="80.34" x2="473.47" y2="82.24" class="tk"/>
<text x="264.47" y="10.62" class="tt" text-anchor="middle" textLength="39.4" lengthAdjust="spacingAndGlyphs">KIT 30.0 m</text>
<text x="356.6" y="20.42" class="tt" textLength="61.8" lengthAdjust="spacingAndGlyphs">5.74±26.03 ppm</text>
<text x="43.7" y="23.52" class="pl">(a)</text>
<text transform="translate(9.8,46.93) rotate(-90)" class="yl" text-anchor="middle">CO<tspan font-size="5" dy="1.3">2</tspan><tspan dy="-1.3"> [ppm]</tspan></text>
<line x1="53.45" y1="94.36" x2="53.45" y2="161.29" class="gr"/>
<line x1="117.37" y1="94.36" x2="117.37" y2="161.29" class="gr"/>
<line x1="190.41" y1="94.36" x2="190.41" y2="161.29" class="gr"/>
<line x1="254.33" y1="94.36" x2="254.33" y2="161.29" class="gr"/>
<line x1="331.94" y1="94.36" x2="331.94" y2="161.29" class="gr"/>
<line x1="395.86" y1="94.36" x2="395.86" y2="161.29" class="gr"/>
<line x1="473.47" y1="94.36" x2="473.47" y2="161.29" class="gr"/>
<line x1="34.46" y1="105.28" x2="494.48" y2="105.28" class="gr"/>
<line x1="34.46" y1="134.12" x2="494.48" y2="134.12" class="gr"/>
<line x1="34.46" y1="148.55" x2="494.48" y2="148.55" class="gr"/>
<clipPath id="c1"><rect x="34.46" y="94.36" width="460.02" height="66.93"/></clipPath>
<line x1="34.46" y1="119.7" x2="494.48" y2="119.7" stroke="#333" stroke-width="1.1"/>
<path clip-path="url(#c1)" d="M55.8 123.7h0M55.9 125.6h0M56.0 127.5h0M56.3 126.5h0M56.4 127.4h0M56.7 127.0h0M56.9 126.3h0M57.0 127.8h0M57.3 128.0h0M57.4 126.8h0M57.7 129.6h0M57.7 130.0h0M58.0 136.6h0M58.2 127.3h0M58.4 127.6h0M58.5 127.3h0M58.7 126.6h0M58.9 125.9h0M59.1 123.9h0M59.4 120.2h0M59.5 124.2h0M59.7 122.8h0M59.9 123.3h0M60.1 126.9h0M60.3 127.0h0M60.4 125.4h0M60.6 126.2h0M60.8 127.2h0M61.0 125.6h0M61.2 127.5h0M61.5 132.7h0M61.6 133.4h0M61.8 130.8h0M62.0 126.4h0M62.2 128.2h0M62.3 125.8h0M62.6 124.2h0M62.7 124.9h0M62.9 126.6h0M63.2 124.1h0M63.3 118.7h0M63.4 118.9h0M63.7 119.6h0M64.0 119.5h0M64.1 123.4h0M64.3 124.3h0M64.5 124.7h0M64.6 123.4h0M64.9 124.8h0M65.0 124.2h0M65.2 124.9h0M65.4 125.1h0M65.7 127.0h0M65.8 128.7h0M65.9 126.2h0M66.1 126.9h0M66.4 125.1h0M66.6 125.0h0M66.8 126.7h0M66.9 126.0h0M67.1 125.2h0M67.3 121.8h0M67.6 121.8h0M67.7 123.5h0M67.9 123.8h0M68.1 124.4h0M68.3 122.2h0M68.4 123.8h0M68.7 126.2h0M68.9 125.2h0M69.0 130.6h0M69.3 131.4h0M69.4 129.5h0M69.6 127.7h0M69.8 126.0h0M70.0 123.0h0M70.2 121.9h0M70.4 121.5h0M70.5 121.4h0M70.8 121.5h0M70.9 122.9h0M71.1 119.1h0M71.2 118.5h0M71.5 117.8h0M71.7 120.5h0M71.8 122.8h0M72.1 124.4h0M72.2 125.3h0M72.5 121.6h0M72.6 121.3h0M72.8 120.9h0M73.0 121.2h0M73.2 123.5h0M73.4 121.9h0M73.6 124.5h0M73.8 124.6h0M74.0 123.7h0M74.1 125.7h0M74.4 126.0h0M74.5 126.6h0M74.7 130.6h0M74.9 126.1h0M75.1 132.5h0M75.3 130.5h0M75.4 128.9h0M75.7 128.9h0M75.8 126.2h0M76.1 126.7h0M76.2 126.1h0M76.5 131.1h0M76.6 128.9h0M76.8 128.6h0M77.0 127.6h0M77.2 126.7h0M77.4 127.3h0M77.6 126.1h0M77.8 125.0h0M77.9 121.0h0M78.2 117.3h0M78.3 119.9h0M78.5 121.3h0M78.7 123.7h0M78.9 127.7h0M79.1 126.9h0M79.2 127.9h0M79.5 127.4h0M79.7 128.9h0M79.9 131.0h0M80.0 132.4h0M80.3 134.8h0M80.4 133.7h0M80.7 132.3h0M80.8 134.8h0M81.1 129.3h0M81.3 128.4h0M81.3 125.8h0M81.6 126.5h0M81.7 122.1h0M82.0 124.8h0M82.2 122.2h0M82.3 126.3h0M82.5 126.4h0M82.7 127.1h0M83.0 125.0h0M83.1 126.4h0M83.2 126.1h0M83.5 127.9h0M83.7 129.0h0M83.8 128.6h0M84.0 129.9h0M84.2 128.0h0M84.5 127.4h0M84.6 128.3h0M84.8 126.5h0M85.0 125.6h0M85.2 124.5h0M85.4 125.7h0M85.5 126.4h0M85.7 126.9h0M86.0 128.1h0M86.1 132.2h0M86.3 129.5h0M86.4 127.1h0M86.7 126.8h0M86.9 126.5h0M87.2 125.9h0M87.3 127.2h0M87.5 126.4h0M87.7 125.3h0M87.8 125.2h0M88.1 125.2h0M88.2 123.6h0M88.4 121.9h0M88.7 120.2h0M88.8 120.8h0M89.1 123.5h0M89.2 123.7h0M89.4 124.4h0M89.6 125.7h0M89.7 125.3h0M89.9 126.1h0M90.2 126.2h0M90.3 126.1h0M90.5 126.4h0M90.7 127.7h0M90.8 126.0h0M91.0 128.4h0M91.2 126.9h0M91.5 122.7h0M91.6 122.2h0M91.8 125.9h0M92.0 124.8h0M92.2 125.5h0M92.4 125.5h0M92.7 126.5h0M92.8 128.1h0M93.1 126.9h0M93.2 126.5h0M93.4 127.1h0M93.5 126.5h0M93.7 128.8h0M94.0 132.3h0M94.2 129.2h0M94.3 130.2h0M94.5 127.7h0M94.7 127.5h0M94.8 128.6h0M95.1 126.8h0M95.3 127.0h0M95.4 127.3h0M95.7 124.4h0M95.8 124.8h0M96.1 121.7h0M96.3 125.3h0M96.4 128.6h0M96.6 128.5h0M96.7 128.6h0M97.0 126.9h0M97.1 129.8h0M97.4 128.1h0M97.5 128.5h0M97.7 132.0h0M97.9 132.2h0M98.2 136.6h0M98.3 136.9h0M98.6 132.7h0M98.8 129.9h0M98.9 128.7h0M99.1 128.0h0M99.2 128.8h0M99.5 127.4h0M99.6 128.4h0M99.9 130.0h0M100.0 128.6h0M100.1 130.4h0M100.4 129.8h0M100.6 130.4h0M100.9 130.3h0M100.9 128.8h0M101.1 128.8h0M101.4 126.7h0M101.5 127.0h0M101.8 126.9h0M101.9 126.0h0M102.2 123.4h0M102.3 124.9h0M102.5 125.6h0M102.7 124.0h0M102.9 121.3h0M103.1 118.9h0M103.2 123.3h0M103.4 123.2h0M103.7 122.8h0M103.9 125.3h0M104.1 125.3h0M104.2 124.7h0M104.4 128.8h0M104.5 128.3h0M104.8 125.7h0M105.0 126.3h0M105.2 124.3h0M105.3 126.0h0M105.5 124.0h0M105.7 123.3h0M105.9 122.4h0M106.2 121.3h0M106.3 122.8h0M106.6 118.9h0M106.6 114.5h0M106.8 116.9h0M107.1 118.0h0M107.3 115.5h0M107.4 121.9h0M107.6 123.0h0M107.8 123.0h0M108.0 122.5h0M108.3 122.7h0M108.4 118.9h0M108.6 121.7h0M108.8 123.9h0M109.0 121.1h0M109.1 124.0h0M109.4 124.1h0M109.6 122.8h0M109.7 123.8h0M109.9 124.8h0M110.1 123.9h0M110.3 125.9h0M110.5 124.6h0M110.6 123.9h0M110.8 120.3h0M111.0 121.8h0M111.3 122.7h0M111.4 123.0h0M111.6 121.6h0M111.9 120.6h0M112.0 121.2h0M112.2 114.5h0M112.3 119.8h0M112.6 115.7h0M112.8 116.3h0M113.0 119.5h0M113.2 120.2h0M113.3 116.7h0M113.5 118.6h0M113.8 113.7h0M114.0 114.2h0M114.1 117.0h0M114.3 120.0h0M114.6 122.0h0M114.7 123.0h0M114.8 121.9h0M115.0 122.3h0M115.2 123.6h0M115.4 124.0h0M115.7 125.4h0M115.8 127.1h0M116.0 128.8h0M116.2 131.1h0M116.5 129.5h0M116.6 128.4h0M116.8 126.3h0M117.0 122.5h0M117.1 121.8h0M117.3 120.8h0M117.5 120.8h0M117.7 121.1h0M118.0 120.0h0M118.1 120.0h0M118.2 120.8h0M118.4 120.0h0M118.6 119.3h0M118.9 119.5h0M119.1 117.8h0M119.2 121.0h0M119.4 120.3h0M119.7 120.9h0M119.8 120.3h0M120.0 120.8h0M120.2 120.0h0M120.4 121.3h0M120.6 123.9h0M120.8 122.0h0M120.9 124.0h0M121.2 123.5h0M121.4 123.7h0M121.5 123.0h0M121.7 122.1h0M122.0 124.4h0M122.1 125.6h0M122.2 125.0h0M122.4 125.8h0M122.6 127.2h0M122.8 125.5h0M123.0 125.0h0M123.2 125.1h0M123.3 124.1h0M123.6 124.2h0M123.7 124.0h0M124.0 122.7h0M124.2 121.6h0M124.3 119.2h0M124.6 120.7h0M124.7 119.3h0M125.0 121.0h0M125.1 122.1h0M125.3 124.3h0M125.5 124.7h0M125.6 123.8h0M125.8 122.3h0M126.1 124.5h0M126.3 125.3h0M126.4 124.7h0M126.7 121.2h0M126.8 120.2h0M127.1 123.0h0M127.2 121.8h0M127.4 122.4h0M127.7 117.9h0M127.7 120.8h0M127.9 120.3h0M128.3 120.5h0M128.3 120.9h0M128.6 120.6h0M128.8 120.2h0M128.9 119.4h0M129.1 120.9h0M129.3 121.7h0M129.5 123.3h0M129.7 124.8h0M129.8 124.7h0M130.0 122.9h0M130.3 123.7h0M130.5 122.4h0M130.6 120.5h0M130.8 120.7h0M131.0 118.7h0M131.2 119.8h0M131.4 119.8h0M131.6 121.5h0M131.8 123.4h0M131.9 122.6h0M132.2 121.6h0M132.4 120.7h0M132.6 120.9h0M132.8 123.1h0M132.9 120.5h0M133.1 120.4h0M133.2 121.1h0M133.5 120.6h0M133.6 119.2h0M133.9 122.0h0M134.0 119.6h0M134.3 122.3h0M134.4 119.8h0M134.6 121.3h0M134.9 122.3h0M135.0 123.1h0M135.3 123.2h0M135.4 123.5h0M135.5 124.0h0M135.8 123.5h0M135.9 124.3h0M136.2 124.1h0M136.3 123.6h0M136.6 121.4h0M136.7 120.0h0M137.0 117.7h0M137.1 120.9h0M137.3 121.3h0M137.4 121.5h0M137.7 121.8h0M137.8 125.7h0M138.0 125.4h0M138.3 125.2h0M138.4 127.1h0M138.6 125.8h0M138.9 126.9h0M139.0 129.1h0M139.1 126.3h0M139.5 125.5h0M139.6 127.0h0M139.8 128.5h0M140.0 126.5h0M140.1 126.2h0M140.3 124.0h0M140.5 119.6h0M140.7 121.3h0M140.9 120.6h0M141.1 123.2h0M141.2 122.8h0M141.5 124.9h0M141.6 126.1h0M141.9 128.4h0M142.0 123.9h0M142.2 126.4h0M142.4 126.4h0M142.6 126.8h0M142.9 130.8h0M142.9 129.2h0M143.1 126.7h0M143.4 129.8h0M143.6 124.5h0M143.7 126.9h0M143.9 124.2h0M144.1 127.0h0M144.4 125.9h0M144.5 125.5h0M144.7 125.3h0M144.8 125.0h0M145.2 125.5h0M145.3 124.6h0M145.5 123.5h0M145.7 124.6h0M145.9 122.0h0M146.0 121.2h0M146.2 125.3h0M146.4 123.7h0M146.7 121.8h0M146.8 124.0h0M147.0 123.0h0M147.2 122.7h0M147.3 121.9h0M147.6 122.1h0M147.7 122.2h0M148.0 123.9h0M148.2 124.9h0M148.3 126.2h0M148.5 125.8h0M148.6 125.1h0M148.8 121.7h0M149.1 120.6h0M149.3 120.9h0M149.4 117.9h0M149.6 120.0h0M149.8 119.9h0M150.0 120.9h0M150.2 122.9h0M150.4 122.2h0M150.5 123.6h0M150.9 125.2h0M151.0 126.5h0M151.2 129.0h0M151.4 129.9h0M151.5 127.7h0M151.8 126.6h0M151.9 125.0h0M152.1 122.9h0M152.3 122.2h0M152.5 120.5h0M152.7 120.0h0M152.9 120.7h0M153.1 120.0h0M153.2 118.9h0M153.4 118.1h0M153.7 117.2h0M153.9 115.4h0M154.0 124.0h0M154.2 123.2h0M154.5 121.1h0M154.7 121.9h0M154.9 120.0h0M154.9 119.2h0M155.2 116.5h0M155.4 117.3h0M155.6 119.3h0M155.8 120.4h0M156.0 121.4h0M156.1 122.9h0M156.3 125.2h0M156.5 122.9h0M156.8 122.0h0M156.9 124.8h0M157.1 124.0h0M157.3 126.5h0M157.5 125.0h0M157.6 125.2h0M157.9 123.7h0M158.1 125.1h0M158.3 124.5h0M158.4 125.9h0M158.7 124.0h0M158.9 123.2h0M159.1 124.8h0M159.2 125.6h0M159.3 126.9h0M159.5 123.0h0M159.7 127.5h0M160.0 122.4h0M160.2 126.0h0M160.4 123.6h0M160.5 123.1h0M160.7 122.6h0M160.9 123.9h0M161.0 122.0h0M161.2 122.6h0M161.5 122.0h0M161.6 121.6h0M161.9 120.0h0M162.0 122.2h0M162.2 121.9h0M162.4 123.2h0M162.6 123.3h0M162.8 123.4h0M163.0 124.7h0M163.1 125.3h0M163.3 124.2h0M163.5 124.3h0M163.8 124.2h0M163.9 124.1h0M164.2 122.9h0M164.3 123.5h0M164.5 123.3h0M164.7 119.6h0M164.9 120.3h0M165.0 114.9h0M165.3 116.0h0M165.4 116.9h0M165.7 122.3h0M165.8 121.5h0M166.1 122.8h0M166.2 124.1h0M166.4 123.6h0M166.6 121.1h0M166.8 123.2h0M167.1 123.2h0M167.2 124.5h0M167.3 127.5h0M167.5 126.1h0M167.7 125.3h0M168.0 126.0h0M168.2 123.1h0M168.3 125.4h0M168.6 125.3h0M168.7 125.7h0M168.8 125.3h0M169.1 124.8h0M169.3 125.0h0M169.5 120.8h0M169.7 117.2h0M169.8 110.9h0M170.0 109.7h0M170.2 116.2h0M170.4 121.2h0M170.6 123.7h0M170.8 126.7h0M171.0 124.0h0M171.2 124.6h0M171.3 125.8h0M171.5 126.2h0M171.7 125.2h0M172.0 127.0h0M172.2 125.9h0M172.3 122.2h0M172.5 120.6h0M172.7 121.4h0M172.8 121.2h0M173.0 124.8h0M173.2 125.8h0M173.5 125.0h0M173.6 126.9h0M173.8 125.8h0M174.1 128.1h0M174.2 127.5h0M174.5 126.3h0M174.7 126.8h0M174.8 126.8h0M174.9 127.0h0M175.2 127.9h0M175.4 125.7h0M175.5 126.1h0M175.7 126.4h0M175.9 126.9h0M176.2 125.3h0M176.3 125.6h0M176.5 126.7h0M176.7 124.1h0M176.9 127.3h0M177.1 126.3h0M177.2 126.3h0M177.5 128.2h0M177.7 129.0h0M177.7 127.9h0M178.0 126.6h0M178.2 126.3h0M178.3 125.9h0M178.6 124.5h0M178.7 125.1h0M179.0 124.6h0M179.1 124.4h0M179.4 122.5h0M179.6 121.5h0M179.7 121.7h0M179.9 118.6h0M180.1 121.1h0M180.2 121.5h0M180.5 122.4h0M180.7 122.2h0M180.9 123.3h0M181.1 122.0h0M181.3 122.3h0M181.5 125.7h0M181.6 126.4h0M181.8 127.5h0M182.1 124.4h0M182.2 125.4h0M182.4 122.1h0M182.6 122.2h0M182.8 120.2h0M182.9 120.7h0M183.1 120.7h0M183.3 120.2h0M183.5 122.9h0M183.7 118.7h0M183.9 120.2h0M184.1 119.4h0M184.3 119.8h0M184.4 119.3h0M184.7 119.1h0M184.8 121.0h0M185.1 120.4h0M185.3 122.4h0M185.4 120.8h0M185.6 123.2h0M185.9 120.9h0M186.0 125.2h0M186.2 127.0h0M186.4 128.1h0M186.6 122.7h0M186.7 121.9h0M186.9 119.0h0M187.2 119.0h0M187.3 119.5h0M187.5 118.3h0M187.7 117.1h0M187.9 117.8h0M188.1 117.1h0M188.3 118.2h0M188.4 111.2h0M188.7 115.1h0M188.9 114.5h0M189.0 117.2h0M189.3 117.8h0M189.4 116.7h0M189.6 118.0h0M189.8 118.4h0M190.0 118.4h0M190.3 119.6h0M190.4 121.4h0M190.5 117.7h0M190.8 119.9h0M190.9 123.5h0M191.1 122.7h0M191.4 121.8h0M191.6 117.1h0M191.7 119.7h0M191.9 121.2h0M192.1 119.2h0M192.3 119.6h0M192.5 118.8h0M192.7 118.3h0M192.9 121.1h0M193.1 120.8h0M193.2 120.3h0M193.5 118.9h0M193.6 121.2h0M193.8 120.4h0M194.0 120.1h0M194.2 122.4h0M194.4 121.1h0M194.6 122.7h0M194.8 120.3h0M194.9 122.2h0M195.1 119.9h0M195.3 119.2h0M195.5 118.5h0M195.8 120.2h0M195.9 120.1h0M196.1 121.3h0M196.3 122.6h0M196.4 121.8h0M196.6 124.2h0M196.8 123.2h0M197.1 122.8h0M197.2 122.0h0M197.4 124.2h0M197.7 126.8h0M197.7 129.9h0M198.1 125.1h0M198.2 125.7h0M198.3 122.8h0M198.6 122.6h0M198.7 124.2h0M198.9 123.0h0M199.1 121.6h0M199.4 121.7h0M199.5 122.0h0M199.6 123.4h0M200.0 123.2h0M200.0 122.6h0M200.3 123.1h0M200.4 121.3h0M200.7 119.1h0M200.9 117.6h0M201.0 115.3h0M201.2 120.5h0M201.5 120.2h0M201.6 122.7h0M201.8 123.1h0M201.9 122.4h0M202.1 123.4h0M202.4 123.5h0M202.6 123.4h0M202.7 122.3h0M202.9 122.3h0M203.1 123.7h0M203.3 121.1h0M203.5 123.2h0M203.7 125.2h0M203.9 122.0h0M204.1 123.6h0M204.3 122.7h0M204.4 123.0h0M204.7 122.9h0M204.9 123.8h0M205.0 122.8h0M205.2 122.6h0M205.3 124.3h0M205.6 125.6h0M205.8 127.0h0M206.0 124.3h0M206.2 124.9h0M206.4 123.7h0M206.6 122.8h0M206.8 125.1h0M206.9 124.0h0M207.1 122.1h0M207.2 121.3h0M207.6 122.9h0M207.7 118.2h0M207.8 120.1h0M208.1 119.3h0M208.2 121.3h0M208.5 124.4h0M208.7 122.6h0M208.8 124.6h0M209.0 125.6h0M209.2 124.8h0M209.5 124.9h0M209.6 127.3h0M209.7 129.3h0M209.9 128.3h0M210.2 127.0h0M210.4 125.2h0M210.5 125.7h0M210.7 125.6h0M210.9 125.7h0M211.0 124.5h0M211.2 125.4h0M211.5 125.6h0M211.7 122.9h0M211.8 120.7h0M212.0 120.9h0M212.3 118.5h0M212.4 123.8h0M212.6 124.6h0M212.8 125.4h0M213.0 127.2h0M213.1 126.5h0M213.5 126.1h0M213.6 125.7h0M213.7 125.7h0M214.0 130.4h0M214.1 134.7h0M214.4 132.3h0M214.6 131.6h0M214.7 125.6h0M214.9 124.6h0M215.2 123.1h0M215.3 124.1h0M215.6 124.3h0M215.6 125.1h0M215.9 122.9h0M216.0 121.4h0M216.2 121.0h0M216.5 121.0h0M216.7 118.1h0M216.9 116.1h0M216.9 120.3h0M217.2 119.3h0M217.4 120.2h0M217.6 122.2h0M217.8 122.4h0M218.0 115.9h0M218.2 121.6h0M218.3 120.3h0M218.5 120.2h0M218.7 120.0h0M218.9 120.7h0M219.1 119.5h0M219.3 120.0h0M219.5 121.3h0M219.6 121.6h0M219.8 122.0h0M220.0 122.4h0M220.2 126.8h0M220.4 128.1h0M220.6 122.4h0M220.9 120.6h0M221.1 119.1h0M221.2 118.5h0M221.4 117.5h0M221.5 119.3h0M221.7 119.3h0M222.0 118.3h0M222.1 116.4h0M222.4 116.0h0M222.5 119.1h0M222.7 121.0h0M223.0 120.9h0M223.2 120.2h0M223.2 119.6h0M223.5 120.6h0M223.6 121.5h0M223.9 120.7h0M224.1 123.7h0M224.2 124.4h0M224.4 121.5h0M224.6 122.6h0M224.9 121.2h0M224.9 119.2h0M225.2 120.5h0M225.4 121.9h0M225.5 120.4h0M225.7 120.3h0M225.9 117.7h0M226.2 115.2h0M226.4 113.8h0M226.6 112.9h0M226.7 115.9h0M227.0 121.2h0M227.1 108.1h0M227.2 109.1h0M227.4 114.9h0M227.6 118.0h0M227.8 119.8h0M228.1 120.3h0M228.2 119.0h0M228.5 121.0h0M228.7 118.9h0M228.8 123.4h0M229.0 122.1h0M229.2 125.7h0M229.4 125.6h0M229.6 125.2h0M229.7 123.9h0M230.0 123.8h0M230.1 122.6h0M230.4 121.9h0M230.5 121.2h0M230.7 120.1h0M230.9 123.5h0M231.1 121.0h0M231.2 117.7h0M231.4 115.8h0M231.7 121.9h0M231.9 123.0h0M232.1 125.4h0M232.2 124.9h0M232.4 122.1h0M232.6 120.0h0M232.9 121.7h0M232.9 120.1h0M233.1 119.6h0M233.3 121.4h0M233.6 120.7h0M233.7 117.0h0M233.9 119.2h0M234.1 118.5h0M234.3 120.5h0M234.5 117.3h0M234.6 118.0h0M234.8 119.2h0M235.2 119.5h0M235.3 119.9h0M235.5 118.8h0M235.7 119.8h0M235.9 118.2h0M236.0 121.3h0M236.2 123.9h0M236.4 121.9h0M236.6 121.6h0M236.8 122.2h0M237.0 119.7h0M237.2 118.8h0M237.3 119.6h0M237.6 118.5h0M237.8 117.9h0M238.0 118.9h0M238.1 118.4h0M238.3 118.4h0M238.5 118.7h0M238.7 121.1h0M238.8 118.9h0M239.0 118.4h0M239.3 119.0h0M239.4 118.5h0M239.6 119.0h0M239.8 120.6h0M240.1 121.4h0M240.2 122.9h0M240.4 125.9h0M240.6 124.2h0M240.9 123.0h0M241.0 122.6h0M241.1 121.3h0M241.3 118.8h0M241.6 120.7h0M241.7 119.5h0M241.9 119.3h0M242.1 119.3h0M242.3 120.9h0M242.5 116.5h0M242.7 114.9h0M243.0 114.9h0M243.1 114.4h0M243.3 113.7h0M243.4 114.3h0M243.6 118.8h0M243.9 119.1h0M244.1 118.9h0M244.3 120.1h0M244.4 120.8h0M244.6 120.2h0M244.9 119.8h0M245.0 118.0h0M245.2 120.8h0M245.4 119.1h0M245.6 120.8h0M245.7 121.0h0M246.0 123.2h0M246.1 121.6h0M246.3 121.2h0M246.6 118.9h0M246.8 119.2h0M246.9 118.3h0M247.0 117.4h0M247.3 119.9h0M247.5 118.3h0M247.6 118.0h0M247.8 118.2h0M247.9 116.4h0M248.3 111.0h0M248.3 112.7h0M248.6 111.0h0M248.7 114.4h0M249.0 114.9h0M249.1 117.2h0M249.3 118.1h0M249.5 118.5h0M249.7 118.5h0M249.9 118.3h0M250.1 117.9h0M250.3 117.4h0M250.4 116.1h0M250.7 117.7h0M250.8 116.7h0M251.1 114.7h0M251.2 112.3h0M251.5 115.8h0M251.6 118.5h0M251.9 118.1h0M252.0 117.4h0M252.2 118.1h0M252.5 118.9h0M252.6 118.7h0M252.8 118.1h0M252.9 119.2h0M253.1 119.8h0M253.4 118.7h0M253.5 119.3h0M253.8 119.4h0M253.9 116.4h0M254.1 116.1h0M254.3 116.5h0M254.5 108.6h0M254.6 111.3h0M254.8 115.3h0M255.0 114.4h0M255.2 117.1h0M255.5 116.0h0M255.7 116.4h0M255.8 117.4h0M256.0 118.2h0M256.2 120.0h0M256.4 115.2h0M256.6 119.9h0M256.8 119.9h0M256.9 114.6h0M257.2 117.1h0M257.4 114.2h0M257.6 115.0h0M257.8 114.4h0M257.9 114.2h0M258.1 113.9h0M258.2 110.0h0M258.5 107.4h0M258.6 103.5h0M258.8 103.7h0M259.0 112.7h0M259.2 108.7h0M259.4 107.6h0M259.6 107.2h0M259.8 110.7h0M259.9 114.2h0M260.2 114.1h0M260.4 115.5h0M260.6 118.3h0M260.8 116.8h0M260.9 117.6h0M261.2 119.0h0M261.3 117.9h0M261.5 120.8h0M261.7 118.8h0M261.8 120.0h0M262.1 119.5h0M262.3 119.1h0M262.5 121.3h0M262.7 118.9h0M262.8 118.5h0M263.0 119.2h0M263.2 119.1h0M263.4 119.5h0M263.6 121.3h0M263.8 119.0h0M263.9 120.4h0M264.1 120.2h0M264.4 122.3h0M264.5 124.9h0M264.8 123.0h0M264.9 122.3h0M265.1 120.7h0M265.3 121.0h0M265.5 121.3h0M265.7 120.5h0M265.9 120.7h0M266.0 118.9h0M266.3 119.8h0M266.5 119.8h0M266.7 115.6h0M266.9 113.5h0M267.0 110.3h0M267.2 113.1h0M267.4 114.7h0M267.7 116.0h0M267.8 117.0h0M268.0 118.4h0M268.3 120.0h0M268.4 120.3h0M268.5 119.3h0M268.8 116.6h0M269.0 117.8h0M269.2 118.9h0M269.3 117.6h0M269.6 117.5h0M269.7 114.7h0M269.9 111.6h0M270.2 111.7h0M270.3 113.6h0M270.4 113.2h0M270.6 116.1h0M270.9 117.8h0M271.0 117.1h0M271.2 117.0h0M271.5 117.6h0M271.6 116.9h0M271.9 118.3h0M271.9 118.7h0M272.1 119.7h0M272.3 120.0h0M272.5 118.4h0M272.8 115.3h0M272.9 117.0h0M273.2 114.8h0M273.4 114.6h0M273.4 114.4h0M273.7 113.1h0M273.9 111.5h0M274.0 114.7h0M274.3 114.6h0M274.5 116.8h0M274.6 115.8h0M274.8 116.8h0M275.1 115.6h0M275.2 116.9h0M275.5 116.3h0M275.5 117.7h0M275.8 120.2h0M275.9 121.4h0M276.2 124.8h0M276.4 126.3h0M276.6 125.8h0M276.7 126.2h0M277.0 124.1h0M277.2 119.5h0M277.4 120.8h0M277.5 121.9h0M277.7 120.4h0M277.9 120.6h0M278.1 121.0h0M278.2 122.3h0M278.4 124.5h0M278.6 126.3h0M278.9 126.9h0M279.0 125.2h0M279.2 125.1h0M279.3 125.4h0M279.6 123.8h0M279.8 123.6h0M280.0 122.3h0M280.2 122.1h0M280.3 120.8h0M280.5 120.0h0M280.7 118.2h0M280.9 119.0h0M281.1 120.2h0M281.3 117.5h0M281.5 117.2h0M281.7 113.5h0M281.9 120.6h0M282.1 120.4h0M282.2 121.9h0M282.5 121.7h0M282.6 126.1h0M282.9 124.4h0M283.1 119.9h0M283.2 116.4h0M283.4 120.2h0M283.6 117.8h0M283.8 117.9h0M283.9 120.1h0M284.2 117.0h0M284.3 116.4h0M284.5 116.7h0M284.7 116.2h0M284.9 114.9h0M285.0 117.7h0M285.3 116.0h0M285.4 117.0h0M285.7 117.2h0M285.9 117.3h0M286.1 117.3h0M286.3 116.2h0M286.5 116.8h0M286.6 116.2h0M286.8 114.8h0M287.0 113.5h0M287.2 110.9h0M287.3 116.3h0M287.6 115.0h0M287.8 118.9h0M288.0 119.3h0M288.1 116.2h0M288.3 117.5h0M288.5 118.1h0M288.7 119.0h0M289.0 116.9h0M289.1 118.1h0M289.2 122.2h0M289.5 117.1h0M289.7 119.3h0M289.8 118.0h0M290.0 118.5h0M290.2 117.6h0M290.5 118.1h0M290.6 117.7h0M290.8 116.3h0M291.0 118.9h0M291.2 121.1h0M291.4 122.7h0M291.6 117.6h0M291.7 119.7h0M291.9 116.8h0M292.2 119.2h0M292.4 118.6h0M292.5 118.4h0M292.7 117.6h0M292.9 116.7h0M293.0 114.7h0M293.2 115.9h0M293.5 115.2h0M293.7 114.1h0M293.9 110.2h0M294.1 112.1h0M294.2 114.9h0M294.4 115.6h0M294.6 114.8h0M294.8 117.2h0M295.0 117.2h0M295.2 117.2h0M295.3 116.4h0M295.6 116.7h0M295.8 114.5h0M296.0 116.2h0M296.1 114.4h0M296.4 115.0h0M296.5 115.2h0M296.6 113.6h0M296.9 115.8h0M297.2 111.2h0M297.3 112.3h0M297.5 111.9h0M297.6 113.3h0M297.8 114.4h0M298.0 113.7h0M298.2 113.1h0M298.5 114.6h0M298.7 112.9h0M298.9 114.7h0M299.0 114.5h0M299.2 117.1h0M299.3 116.8h0M299.5 119.4h0M299.8 116.1h0M299.9 115.1h0M300.2 115.5h0M300.3 116.5h0M300.6 116.3h0M300.7 116.1h0M300.9 115.1h0M301.2 117.5h0M301.3 115.3h0M301.5 117.5h0M301.6 117.8h0M301.8 116.0h0M302.1 115.3h0M302.2 115.8h0M302.4 115.0h0M302.6 116.3h0M302.8 114.0h0M303.0 115.5h0M303.3 115.2h0M303.4 111.9h0M303.6 111.7h0M303.7 113.0h0M304.0 112.7h0M304.1 112.6h0M304.3 116.8h0M304.4 114.6h0M304.7 115.0h0M304.9 114.7h0M305.0 115.8h0M305.2 116.1h0M305.5 114.0h0M305.6 112.9h0M305.9 111.8h0M306.0 112.0h0M306.2 113.2h0M306.5 112.4h0M306.5 110.3h0M306.8 112.9h0M306.9 111.7h0M307.1 113.1h0M307.4 112.4h0M307.6 111.9h0M307.8 114.0h0M307.9 112.9h0M308.2 113.9h0M308.2 115.4h0M308.5 115.7h0M308.7 117.2h0M308.9 116.3h0M309.0 116.8h0M309.3 116.6h0M309.4 115.9h0M309.6 116.8h0M309.8 115.6h0M310.0 116.5h0M310.3 115.4h0M310.5 114.2h0M310.6 116.0h0M310.8 116.1h0M311.0 117.0h0M311.2 117.8h0M311.4 114.6h0M311.6 111.9h0M311.7 106.7h0M312.0 109.6h0M312.1 112.8h0M312.3 114.6h0M312.6 115.7h0M312.7 118.9h0M312.8 117.8h0M313.0 118.4h0M313.3 117.5h0M313.4 117.1h0M313.7 118.2h0M313.9 114.4h0M314.0 115.4h0M314.2 117.1h0M314.4 115.2h0M314.6 116.8h0M314.7 118.0h0M315.0 116.6h0M315.2 117.5h0M315.4 118.9h0M315.5 122.5h0M315.8 124.0h0M315.9 122.2h0M316.2 121.6h0M316.2 117.5h0M316.6 117.5h0M316.8 117.3h0M316.9 116.6h0M317.0 115.6h0M317.2 117.6h0M317.4 116.3h0M317.6 118.1h0M317.8 116.3h0M318.0 113.2h0M318.2 110.6h0M318.4 113.3h0M318.6 113.0h0M318.7 115.2h0M319.0 113.2h0M319.2 114.9h0M319.4 118.9h0M319.6 116.3h0M319.7 117.1h0M320.0 117.8h0M320.1 115.8h0M320.3 117.6h0M320.4 118.5h0M320.6 121.7h0M320.9 121.0h0M321.1 120.3h0M321.3 119.4h0M321.4 116.4h0M321.6 115.7h0M321.8 116.7h0M322.0 116.0h0M322.2 116.1h0M322.4 116.2h0M322.6 116.0h0M322.8 113.8h0M323.0 115.1h0M323.1 116.5h0M323.3 118.9h0M323.5 121.5h0M323.8 124.2h0M323.8 126.9h0M324.1 129.6h0M324.2 122.0h0M324.5 119.5h0M324.6 117.7h0M324.9 115.1h0M325.0 115.5h0M325.2 113.4h0M325.4 114.9h0M325.7 113.1h0M325.9 112.7h0M326.0 111.7h0M326.1 111.7h0M326.4 113.9h0M326.6 109.6h0M326.8 112.7h0M327.0 114.0h0M327.1 115.4h0M327.3 114.5h0M327.6 118.2h0M327.8 116.6h0M327.9 116.6h0M328.1 117.5h0M328.3 115.8h0M328.5 119.3h0M328.7 121.9h0M328.8 120.1h0M329.1 121.0h0M329.3 118.5h0M329.4 118.6h0M329.6 117.0h0M329.9 116.9h0M330.1 117.5h0M330.2 116.7h0M330.4 116.7h0M330.5 118.2h0M330.7 114.7h0M330.9 115.0h0M331.2 109.4h0M331.4 116.6h0M331.6 110.3h0M331.8 114.9h0M332.0 114.5h0M332.0 116.4h0M332.3 113.2h0M332.4 113.5h0M332.7 112.5h0M332.9 113.3h0M333.0 110.4h0M333.2 107.0h0M333.5 110.8h0M333.6 113.3h0M333.8 112.6h0M334.0 114.6h0M334.1 115.4h0M334.4 115.1h0M334.6 117.6h0M334.7 118.3h0M335.0 120.5h0M335.1 122.6h0M335.4 121.8h0M335.5 124.4h0M335.8 119.1h0M335.9 122.0h0M336.0 117.7h0M336.4 116.0h0M336.4 115.9h0M336.7 117.8h0M336.8 116.5h0M337.0 116.9h0M337.3 113.1h0M337.4 114.6h0M337.6 115.0h0M337.7 113.9h0M338.1 113.2h0M338.1 109.9h0M338.4 109.1h0M338.5 107.9h0M338.7 111.0h0M338.9 109.6h0M339.1 113.4h0M339.3 112.9h0M339.5 113.6h0M339.7 113.1h0M339.9 114.6h0M340.1 116.2h0M340.2 117.1h0M340.5 119.8h0M340.7 119.1h0M340.8 118.1h0M341.1 117.9h0M341.3 115.2h0M341.4 114.2h0M341.6 114.4h0M341.9 111.9h0M342.0 113.6h0M342.1 113.7h0M342.4 114.6h0M342.6 111.2h0M342.8 114.5h0M343.0 112.8h0M343.2 113.4h0M343.3 113.6h0M343.4 111.4h0M343.8 115.4h0M343.9 115.2h0M344.0 115.1h0M344.3 114.8h0M344.5 114.0h0M344.7 114.8h0M344.9 117.5h0M345.0 117.8h0M345.2 118.3h0M345.5 116.8h0M345.6 117.8h0M345.9 113.1h0M346.0 113.3h0M346.2 114.8h0M346.4 114.0h0M346.6 114.3h0M346.8 113.6h0M347.0 114.8h0M347.2 117.5h0M347.3 119.0h0M347.5 118.3h0M347.7 117.9h0M347.8 117.1h0M348.0 116.5h0M348.2 116.5h0M348.4 114.1h0M348.6 114.5h0M348.8 115.3h0M349.0 113.0h0M349.3 113.3h0M349.4 112.6h0M349.6 111.8h0M349.8 111.7h0M349.9 111.2h0M350.2 111.6h0M350.4 114.1h0M350.6 116.1h0M350.7 114.0h0M350.9 112.8h0M351.2 115.2h0M351.3 112.3h0M351.5 107.8h0M351.6 109.3h0M351.9 107.7h0M352.1 111.8h0M352.3 114.5h0M352.4 115.1h0M352.6 115.2h0M352.9 115.8h0M353.0 114.3h0M353.2 116.5h0M353.5 115.5h0M353.7 117.1h0M353.8 113.8h0M354.0 116.1h0M354.2 118.5h0M354.4 116.9h0M354.5 115.3h0M354.8 114.5h0M354.9 114.0h0M355.2 112.6h0M355.3 109.7h0M355.5 111.1h0M355.7 109.5h0M355.9 108.8h0M356.1 110.0h0M356.3 111.4h0M356.4 110.4h0M356.7 110.7h0M356.8 111.4h0M357.0 110.8h0M357.2 112.5h0M357.4 109.8h0M357.5 109.7h0M357.8 112.4h0M358.0 110.3h0M358.1 111.8h0M358.3 108.1h0M358.6 110.4h0M358.8 109.9h0M358.9 111.4h0M359.1 110.5h0M359.3 110.7h0M359.5 109.8h0M359.7 109.7h0M359.8 109.8h0M360.1 110.4h0M360.2 109.0h0M360.5 111.7h0M360.6 111.7h0M360.8 112.3h0M361.1 112.7h0M361.2 115.5h0M361.4 116.4h0M361.6 115.0h0M361.7 115.1h0M362.0 114.0h0M362.1 113.3h0M362.4 111.2h0M362.5 113.0h0M362.6 112.0h0M363.0 109.7h0M363.1 112.6h0M363.2 111.6h0M363.5 112.7h0M363.7 111.1h0M363.8 110.9h0M364.0 113.8h0M364.3 113.7h0M364.4 112.8h0M364.6 114.6h0M364.9 115.2h0M365.0 114.5h0M365.3 116.2h0M365.4 117.4h0M365.6 115.6h0M365.8 117.9h0M366.0 119.4h0M366.1 117.4h0M366.3 115.7h0M366.5 115.7h0M366.7 114.2h0M366.8 115.0h0M367.0 115.6h0M367.3 112.1h0M367.5 110.7h0M367.7 109.3h0M367.9 111.2h0M368.0 111.5h0M368.2 112.3h0M368.4 112.0h0M368.7 114.8h0M368.9 115.3h0M369.0 117.8h0M369.2 115.3h0M369.5 115.2h0M369.6 117.6h0M369.8 117.0h0M370.0 117.1h0M370.2 115.9h0M370.3 117.1h0M370.5 115.4h0M370.6 116.7h0M370.9 115.7h0M371.1 116.6h0M371.3 113.0h0M371.4 117.2h0M371.6 115.2h0M371.9 115.3h0M372.0 115.3h0M372.2 117.6h0M372.4 117.1h0M372.6 119.1h0M372.7 118.6h0M373.0 119.8h0M373.2 116.0h0M373.4 108.0h0M373.6 105.1h0M373.7 112.3h0M373.9 116.0h0M374.1 119.8h0M374.4 118.1h0M374.5 117.8h0M374.8 118.4h0M374.9 121.9h0M375.1 120.3h0M375.3 120.6h0M375.5 121.4h0M375.7 122.9h0M375.8 124.8h0M376.0 122.9h0M376.2 118.3h0M376.4 119.3h0M376.5 119.1h0M376.8 119.5h0M377.0 118.5h0M377.1 120.2h0M377.3 118.9h0M377.6 117.9h0M377.8 114.7h0M377.9 114.9h0M378.1 116.2h0M378.3 114.5h0M378.5 115.7h0M378.6 115.7h0M378.9 116.9h0M379.1 117.0h0M379.3 117.4h0M379.4 117.0h0M379.7 118.6h0M379.8 119.7h0M380.1 123.9h0M380.2 124.1h0M380.4 126.1h0M380.6 123.2h0M380.7 122.6h0M380.9 119.6h0M381.2 118.0h0M381.4 117.7h0M381.6 117.3h0M381.8 115.1h0M381.9 119.0h0M382.2 115.0h0M382.2 118.7h0M382.6 119.9h0M382.8 119.7h0M382.9 119.6h0M383.1 121.3h0M383.2 120.7h0M383.5 120.5h0M383.6 120.9h0M383.9 119.1h0M384.0 118.6h0M384.1 119.2h0M384.5 117.3h0M384.6 119.7h0M384.7 118.5h0M385.0 118.5h0M385.1 117.0h0M385.3 114.6h0M385.5 113.0h0M385.7 115.8h0M385.9 118.1h0M386.1 118.6h0M386.2 118.5h0M386.5 119.6h0M386.7 118.3h0M386.9 114.4h0M387.0 117.2h0M387.2 113.8h0M387.4 118.7h0M387.7 118.1h0M387.8 117.3h0M388.1 117.5h0M388.2 118.6h0M388.4 118.2h0M388.7 118.5h0M388.7 122.9h0M389.0 124.0h0M389.2 127.3h0M389.4 126.7h0M389.5 121.6h0M389.7 121.0h0M390.0 116.3h0M390.1 117.1h0M390.3 117.3h0M390.5 116.7h0M390.7 117.0h0M390.9 115.8h0M391.1 114.2h0M391.3 112.7h0M391.5 117.4h0M391.7 116.7h0M391.8 118.4h0M392.0 116.0h0M392.2 116.1h0M392.4 115.3h0M392.6 113.8h0M392.8 112.9h0M392.9 115.6h0M393.2 116.5h0M393.3 117.7h0M393.5 118.1h0M393.8 118.4h0M394.0 117.7h0M394.1 117.8h0M394.3 118.1h0M394.4 119.1h0M394.6 122.1h0M394.8 121.0h0M395.0 120.2h0M395.2 120.2h0M395.4 118.1h0M395.7 116.4h0M395.8 116.1h0M396.0 118.1h0M396.2 114.9h0M396.4 116.6h0M396.6 114.0h0M396.8 114.6h0M396.9 113.3h0M397.1 116.6h0M397.4 115.7h0M397.6 115.6h0M397.7 112.3h0M398.0 113.0h0M398.1 114.3h0M398.2 113.0h0M398.5 114.9h0M398.7 113.1h0M398.8 114.2h0M399.0 116.6h0M399.2 115.1h0M399.4 117.6h0M399.6 118.3h0M399.8 118.1h0M400.0 116.9h0M400.1 116.8h0M400.3 115.9h0M400.5 115.0h0M400.7 117.0h0M400.9 118.5h0M401.2 119.7h0M401.3 122.3h0M401.5 122.4h0M401.7 120.1h0M402.0 120.0h0M402.1 116.0h0M402.4 118.1h0M402.5 115.8h0M402.8 116.8h0M402.9 117.6h0M403.1 116.8h0M403.2 118.2h0M403.5 117.7h0M403.6 112.5h0M403.8 113.3h0M404.1 112.9h0M404.2 117.8h0M404.4 115.7h0M404.6 116.1h0M404.8 115.4h0M405.0 116.0h0M405.2 119.4h0M405.4 118.2h0M405.4 119.1h0M405.7 117.0h0M406.0 116.7h0M406.1 116.3h0M406.2 114.7h0M406.5 114.8h0M406.7 115.1h0M406.8 117.7h0M407.1 118.8h0M407.3 119.0h0M407.5 118.1h0M407.5 116.5h0M407.8 119.1h0M408.0 119.2h0M408.3 118.7h0M408.4 119.9h0M408.6 117.0h0M408.8 120.5h0M408.9 118.8h0M409.1 117.3h0M409.4 117.8h0M409.5 117.1h0M409.7 117.3h0M409.8 114.0h0M410.1 112.3h0M410.3 111.1h0M410.4 113.8h0M410.6 116.1h0M410.8 117.5h0M411.0 116.9h0M411.2 116.5h0M411.4 118.5h0M411.6 117.1h0M411.9 117.8h0M411.9 119.1h0M412.2 117.6h0M412.4 120.1h0M412.6 120.3h0M412.7 117.1h0M413.0 116.9h0M413.1 116.4h0M413.4 117.2h0M413.6 116.4h0M413.7 116.4h0M413.9 117.1h0M414.0 114.7h0M414.3 113.1h0M414.5 116.8h0M414.6 117.1h0M414.9 116.3h0M415.1 116.8h0M415.3 116.0h0M415.4 117.2h0M415.6 118.9h0M415.9 118.7h0M416.0 119.6h0M416.1 117.8h0M416.4 115.1h0M416.6 116.1h0M416.7 116.6h0M417.0 116.2h0M417.2 115.8h0M417.4 116.8h0M417.4 115.1h0M417.6 114.4h0M417.9 114.3h0M418.0 111.5h0M418.2 107.8h0M418.4 113.6h0M418.6 110.7h0M418.9 115.8h0M419.0 114.4h0M419.2 114.6h0M419.4 116.6h0M419.7 115.7h0M419.8 116.5h0M419.9 115.8h0M420.1 114.8h0M420.3 116.7h0M420.5 118.3h0M420.8 117.9h0M420.9 117.3h0M421.1 115.7h0M421.4 113.5h0M421.5 115.2h0M421.7 116.3h0M421.9 114.5h0M422.1 113.7h0M422.3 115.6h0M422.4 114.0h0M422.6 115.1h0M422.8 115.5h0M423.0 114.5h0M423.2 112.4h0M423.4 115.6h0M423.6 115.8h0M423.7 115.8h0M424.0 117.5h0M424.2 118.0h0M424.4 119.4h0M424.5 115.2h0M424.7 117.5h0M424.9 115.9h0M425.1 115.2h0M425.3 115.7h0M425.5 115.9h0M425.7 114.7h0M425.9 116.2h0M426.1 116.0h0M426.3 113.6h0M426.4 116.1h0M426.6 114.5h0M426.8 112.8h0M427.0 113.1h0M427.1 115.6h0M427.4 115.2h0M427.6 115.5h0M427.8 114.3h0M428.0 114.0h0M428.1 112.6h0M428.3 111.7h0M428.5 113.4h0M428.7 115.2h0M428.9 112.4h0M429.2 114.3h0M429.4 114.8h0M429.5 115.6h0M429.7 115.8h0M429.8 113.6h0M430.0 114.1h0M430.3 115.5h0M430.4 118.6h0M430.6 120.1h0M430.9 118.9h0M431.1 117.8h0M431.3 114.4h0M431.4 114.9h0M431.6 114.7h0M431.8 115.2h0M431.9 115.4h0M432.1 115.8h0M432.3 115.2h0M432.5 108.1h0M432.7 106.2h0M433.0 111.5h0M433.2 115.4h0M433.2 117.0h0M433.5 117.7h0M433.7 117.7h0M433.9 118.4h0M434.1 118.6h0M434.2 118.7h0M434.4 122.1h0M434.6 119.7h0M434.8 122.8h0M435.0 119.9h0M435.1 117.1h0M435.4 119.2h0M435.5 118.7h0M435.8 118.3h0M436.0 117.0h0M436.1 117.2h0M436.4 118.0h0M436.5 115.3h0M436.7 113.5h0M437.0 109.4h0M437.1 118.3h0M437.3 118.0h0M437.4 116.4h0M437.7 117.4h0M437.8 116.0h0M438.0 117.8h0M438.3 116.6h0M438.5 116.2h0M438.6 114.4h0M438.8 113.3h0M438.9 111.1h0M439.1 114.4h0M439.3 115.5h0M439.6 116.3h0M439.8 116.8h0M440.0 116.9h0M440.1 116.3h0M440.3 117.8h0M440.5 117.3h0M440.7 115.9h0M441.0 118.2h0M441.1 118.3h0M441.3 117.8h0M441.5 117.8h0M441.7 122.9h0M441.9 116.8h0M442.1 115.3h0M442.3 115.1h0M442.5 113.1h0M442.6 115.1h0M442.8 114.9h0M443.1 112.6h0M443.3 113.2h0M443.4 113.1h0M443.5 111.4h0M443.8 112.7h0M444.0 115.2h0M444.1 115.1h0M444.3 114.3h0M444.6 113.1h0M444.7 113.7h0M444.9 113.6h0M445.0 113.6h0M445.2 113.4h0M445.5 116.3h0M445.6 120.0h0M445.8 125.0h0M446.0 126.9h0M446.3 111.0h0M446.4 113.3h0M446.6 113.0h0M446.8 114.5h0M447.1 114.1h0M447.2 117.0h0M447.4 116.0h0M447.5 115.4h0M447.8 115.0h0M448.0 115.7h0M448.2 117.8h0M448.4 120.5h0M448.5 116.1h0M448.7 116.4h0M448.9 115.7h0M449.2 118.4h0M449.3 115.3h0M449.5 116.6h0M449.7 117.3h0M449.8 116.4h0M450.1 113.3h0M450.2 111.4h0M450.5 107.9h0M450.5 109.2h0M450.7 115.2h0M450.9 115.0h0M451.2 114.5h0M451.4 116.6h0M451.6 118.0h0M451.7 118.0h0M451.9 118.4h0M452.1 117.9h0M452.3 117.1h0M452.5 114.6h0M452.8 114.4h0M453.0 113.3h0M453.0 116.0h0M453.2 115.1h0M453.4 114.0h0M453.6 114.4h0M453.8 111.5h0M454.1 111.2h0M454.2 111.6h0M454.4 112.4h0M454.6 115.2h0M454.9 113.6h0M454.9 114.2h0M455.2 114.1h0M455.4 113.1h0M455.5 112.1h0M455.8 114.3h0M456.0 114.7h0M456.0 115.1h0M456.3 113.7h0M456.5 117.3h0M456.7 117.8h0M456.9 117.7h0M457.1 119.4h0M457.3 120.4h0M457.5 116.6h0M457.6 115.1h0M457.8 114.7h0M457.9 114.0h0M458.3 114.7h0M458.5 112.5h0M458.6 112.5h0M458.9 109.4h0M459.0 111.7h0M459.1 107.7h0M459.3 111.4h0M459.5 108.8h0M459.8 111.1h0M460.0 111.9h0M460.1 110.9h0M460.2 108.2h0M460.4 106.0h0M460.6 107.7h0M460.9 108.3h0M461.1 113.0h0M461.3 114.0h0M461.5 115.8h0M461.7 115.1h0M461.8 115.1h0M462.0 118.5h0M462.3 118.5h0M462.3 120.7h0M462.6 121.7h0M462.7 123.1h0M463.0 119.4h0M463.1 121.5h0M463.4 116.8h0M463.5 117.4h0M463.7 118.9h0M463.9 117.9h0M464.2 117.9h0M464.4 116.9h0M464.5 119.6h0M464.7 119.3h0M464.9 119.8h0M465.0 119.4h0M465.3 120.2h0M465.5 119.3h0M465.6 122.2h0M465.9 124.2h0M466.0 121.6h0M466.1 120.7h0M466.4 120.5h0M466.6 120.0h0M466.7 119.6h0M467.0 119.1h0M467.1 118.0h0M467.4 117.9h0M467.6 113.0h0M467.7 110.6h0M467.8 105.4h0M468.1 106.5h0M468.2 110.9h0M468.5 115.4h0M468.7 116.7h0M468.9 115.3h0M469.1 111.8h0M469.3 116.4h0M469.4 117.4h0M469.7 115.9h0M469.7 117.7h0M470.1 116.6h0M470.2 117.1h0M470.4 116.8h0M470.6 116.8h0M470.8 116.4h0M470.9 119.2h0M471.1 120.5h0M471.4 117.2h0M471.6 116.0h0M471.7 117.0h0M471.9 115.6h0M472.1 117.4h0M472.2 116.5h0M472.6 116.4h0M472.6 116.1h0M59.8 154.5h0M59.8 157.7h0M72.9 113.6h0M68.3 115.2h0M86.0 116.9h0M113.8 112.8h0M113.8 115.2h0M72.9 134.9h0M72.9 140.6h0M74.5 137.3h0M81.1 140.1h0M86.8 135.7h0M96.6 140.6h0M97.1 137.3h0M59.8 134.9h0M63.1 133.2h0M113.8 134.9h0M122.0 134.9h0M69.6 131.9h0M78.6 132.4h0M191.3 105.4h0M191.3 107.9h0M191.3 114.4h0M134.8 115.2h0M136.5 132.4h0M136.5 136.8h0M141.4 130.8h0M145.4 131.6h0M145.4 135.7h0M145.9 140.6h0M164.3 129.1h0M177.4 129.1h0M192.1 128.0h0M192.9 135.2h0M201.1 128.3h0M197.0 126.7h0M201.9 116.1h0M205.7 137.3h0M205.7 148.8h0M213.9 135.7h0M210.6 130.8h0M211.5 132.4h0M201.6 128.3h0M219.6 127.5h0M218.8 114.4h0M223.7 114.0h0M209.8 114.4h0M251.5 110.3h0M255.6 105.4h0M255.6 110.3h0M259.7 101.8h0M259.7 106.3h0M261.3 112.0h0M269.5 104.1h0M270.3 110.3h0M272.8 109.5h0M272.8 111.2h0M254.8 126.7h0M263.8 127.5h0M263.8 129.1h0M268.7 125.1h0M278.5 128.3h0M279.3 130.8h0M278.3 125.9h0M278.3 129.1h0M278.6 131.3h0M287.3 106.7h0M287.3 110.7h0M282.4 112.8h0M296.3 103.0h0M296.3 107.9h0M300.4 105.1h0M299.5 110.0h0M305.3 106.7h0M305.3 110.0h0M309.7 98.9h0M309.7 100.9h0M309.7 104.6h0M309.4 108.4h0M318.4 111.7h0M323.3 110.0h0M324.1 111.2h0M333.1 105.4h0M333.1 110.3h0M338.0 109.5h0M342.1 108.4h0M347.0 109.5h0M300.8 123.1h0M300.8 125.9h0M311.0 121.8h0M319.2 122.6h0M319.2 125.1h0M310.7 145.0h0M332.6 125.9h0M336.8 121.8h0M337.2 124.2h0M291.4 120.2h0M356.5 100.5h0M355.7 103.0h0M356.5 105.4h0M369.6 102.2h0M369.6 107.1h0M373.7 114.0h0M381.9 108.4h0M381.9 112.8h0M387.6 112.0h0M396.6 106.3h0M396.6 110.3h0M402.4 104.6h0M402.4 108.7h0M414.6 109.5h0M420.3 107.1h0M425.3 107.1h0M424.4 109.5h0M371.3 123.1h0M371.3 125.1h0M379.4 125.1h0M383.5 125.1h0M392.5 121.5h0M399.1 121.5h0M404.0 121.5h0M420.7 124.2h0M426.1 120.2h0M424.0 105.8h0M424.0 108.7h0M428.9 104.6h0M428.1 107.9h0M419.9 106.7h0M433.0 107.9h0M447.4 103.5h0M447.4 106.3h0M460.5 104.6h0M459.2 109.5h0M442.8 110.3h0M415.8 110.0h0M420.7 124.2h0M432.2 122.6h0M432.2 124.7h0M465.7 122.6h0M466.0 125.9h0M469.8 110.3h0M473.1 114.0h0" stroke="#777" stroke-width="1.7" stroke-linecap="square" fill="none"/>
<path d="M57.4 127.4 58.5 127.8 59.6 127.3 60.7 126.8 61.8 125.3 62.9 125.0 64.0 124.0 65.1 124.1 66.2 124.2 67.3 124.8 68.4 123.9 69.5 123.7 70.6 123.5 71.7 124.3 72.8 124.4 73.9 125.6 75.0 125.9 76.1 126.5 77.2 126.6 78.3 127.6 79.4 128.0 80.5 128.6 81.6 126.8 82.7 126.4 83.8 125.4 84.9 125.8 86.0 126.0 87.1 126.5 88.2 125.9 89.3 126.1 90.4 126.1 91.5 126.8 92.6 126.8 93.7 127.6 94.8 127.5 95.9 128.5 97.0 128.6 98.1 129.7 99.2 128.7 100.3 128.2 101.4 126.7 102.5 126.0 103.6 124.6 104.7 123.6 105.8 122.6 106.9 122.5 108.0 121.9 109.1 122.2 110.2 121.9 111.3 121.9 112.4 121.4 113.5 122.3 114.6 122.5 115.7 122.4 116.8 121.7 117.9 121.2 119.0 120.5 120.1 121.5 121.2 121.5 122.3 123.1 123.4 123.9 124.5 123.9 125.6 122.7 126.7 122.4 127.8 121.4 128.9 121.3 130.0 120.9 131.1 120.8 132.2 120.4 133.3 121.5 134.4 122.0 135.5 123.3 136.6 123.6 137.7 124.4 138.8 124.5 139.9 125.3 141.0 125.4 142.1 126.1 143.2 125.3 144.3 125.3 145.4 124.3 146.5 124.0 147.6 122.9 148.7 122.3 149.8 121.5 150.9 122.0 152.0 121.9 153.1 122.5 154.2 122.3 155.3 123.0 156.4 122.8 157.5 123.2 158.6 123.1 159.7 123.5 160.8 123.2 161.9 123.6 163.0 123.1 164.1 123.2 165.2 122.7 166.3 122.9 167.4 122.5 168.5 123.2 169.6 123.2 170.7 123.8 171.8 124.0 172.9 124.7 174.0 124.9 175.1 125.2 176.2 125.0 177.3 125.1 178.4 124.2 179.5 124.0 180.6 122.9 181.7 122.6 182.8 121.9 183.9 121.6 185.0 120.5 186.1 120.1 187.2 119.3 188.3 118.9 189.4 118.6 190.5 119.1 191.6 119.4 192.7 120.9 193.8 121.4 194.9 122.5 196.0 122.8 197.1 122.9 198.2 122.0 199.3 122.0 200.4 121.6 201.5 121.6 202.6 121.4 203.7 121.9 204.8 122.0 205.9 122.7 207.0 123.0 208.1 123.8 209.2 123.8 210.3 124.7 211.4 125.5 212.5 126.4 213.6 125.7 214.7 125.2 215.8 123.9 216.9 122.9 218.0 121.3 219.1 120.5 220.2 119.6 221.3 119.5 222.4 119.1 223.5 119.5 224.6 119.2 225.7 119.8 226.8 119.7 227.9 120.3 229.0 120.2 230.1 120.7 231.2 120.4 232.3 120.6 233.4 120.3 234.5 120.4 235.6 120.0 236.7 120.2 237.8 119.8 238.9 120.0 240.0 119.5 241.1 119.7 242.2 119.1 243.3 119.2 244.4 118.5 245.5 118.6 246.6 117.9 247.7 118.2 248.8 117.6 249.9 118.0 251.0 117.8 252.1 117.9 253.2 116.9 254.3 116.6 255.4 115.4 256.5 114.9 257.6 114.0 258.7 114.7 259.8 115.3 260.9 116.6 262.0 117.4 263.1 118.8 264.2 119.1 265.3 120.0 266.4 119.2 267.5 118.9 268.6 117.8 269.7 117.6 270.8 116.6 271.9 116.8 273.0 116.6 274.1 117.2 275.2 117.0 276.3 119.2 277.4 120.8 278.5 122.8 279.6 121.1 280.7 121.4 281.8 120.5 282.9 119.8 284.0 118.2 285.1 118.3 286.2 117.7 287.3 117.8 288.4 117.3 289.5 117.5 290.6 117.0 291.7 117.2 292.8 116.6 293.9 116.4 295.0 115.4 296.1 115.2 297.2 114.6 298.3 114.9 299.4 114.9 300.5 115.7 301.6 115.2 302.7 115.3 303.8 114.9 304.9 115.2 306.0 114.2 307.1 113.5 308.2 112.8 309.3 114.0 310.4 114.4 311.5 115.8 312.6 116.6 313.7 117.2 314.8 116.8 315.9 117.3 317.0 117.0 318.1 117.1 319.2 116.7 320.3 116.7 321.4 116.1 322.5 116.4 323.6 116.1 324.7 116.6 325.8 116.4 326.9 116.8 328.0 116.5 329.1 116.7 330.2 116.1 331.3 116.2 332.4 115.5 333.5 115.7 334.6 115.1 335.7 115.3 336.8 114.7 337.9 114.9 339.0 114.2 340.1 114.1 341.2 113.5 342.3 114.2 343.4 114.6 344.5 114.9 345.6 114.2 346.7 114.7 347.8 114.5 348.9 114.8 350.0 114.2 351.1 114.2 352.2 114.1 353.3 114.2 354.4 113.0 355.5 112.6 356.6 111.3 357.7 110.7 358.8 109.5 359.9 110.6 361.0 111.2 362.1 112.4 363.2 112.7 364.3 113.9 365.4 114.2 366.5 114.7 367.6 114.5 368.7 115.4 369.8 115.5 370.9 116.6 372.0 117.3 373.1 118.4 374.2 118.1 375.3 118.6 376.4 118.3 377.5 118.3 378.6 118.2 379.7 118.6 380.8 118.3 381.9 118.4 383.0 118.0 384.1 118.5 385.2 118.2 386.3 118.6 387.4 118.0 388.5 118.3 389.6 117.6 390.7 118.0 391.8 117.7 392.9 118.1 394.0 118.1 395.1 117.7 396.2 116.7 397.3 116.0 398.4 114.4 399.5 114.4 400.6 115.2 401.7 116.4 402.8 116.7 403.9 117.8 405.0 118.0 406.1 118.6 407.2 117.9 408.3 117.6 409.4 117.0 410.5 117.2 411.6 116.4 412.7 116.5 413.8 115.8 414.9 115.5 416.0 115.0 417.1 115.4 418.2 115.4 419.3 116.0 420.4 115.7 421.5 115.5 422.6 114.8 423.7 115.3 424.8 115.4 425.9 115.6 427.0 115.0 428.1 115.2 429.2 114.7 430.3 115.2 431.4 115.3 432.5 116.0 433.6 116.3 434.7 117.0 435.8 116.6 436.9 116.8 438.0 116.2 439.1 116.3 440.2 115.9 441.3 116.2 442.4 115.9 443.5 115.6 444.6 115.1 445.7 115.1 446.8 114.8 447.9 115.3 449.0 114.9 450.1 115.2 451.2 114.9 452.3 115.0 453.4 114.5 454.5 114.6 455.6 114.0 456.7 114.1 457.8 113.7 458.9 114.0 460.0 114.2 461.1 115.0 462.2 115.5 463.3 116.7 464.4 117.4 465.5 118.5 466.6 117.9 467.7 117.7 468.8 116.5 469.9 116.2 471.0 115.4 472.1 115.5" stroke="#ff1c1c" stroke-width="1.05" fill="none" stroke-linejoin="round"/>
<rect x="34.46" y="94.36" width="460.02" height="66.93" fill="none" class="sp"/>
<line x1="32.56" y1="105.28" x2="34.46" y2="105.28" class="tk"/>
<text x="31.3" y="107.68" class="tl" text-anchor="end" letter-spacing="0.3">25</text>
<line x1="32.56" y1="119.7" x2="34.46" y2="119.7" class="tk"/>
<text x="31.3" y="122.1" class="tl" text-anchor="end" letter-spacing="0.3">0</text>
<line x1="32.56" y1="134.12" x2="34.46" y2="134.12" class="tk"/>
<text x="31.3" y="136.53" class="tl" text-anchor="end" letter-spacing="0.3">25</text>
<line x1="18.18" y1="134.12" x2="22.38" y2="134.12" stroke="#262626" stroke-width="0.62"/>
<line x1="32.56" y1="148.55" x2="34.46" y2="148.55" class="tk"/>
<text x="31.3" y="150.95" class="tl" text-anchor="end" letter-spacing="0.3">50</text>
<line x1="18.18" y1="148.55" x2="22.38" y2="148.55" stroke="#262626" stroke-width="0.62"/>
<line x1="53.45" y1="161.29" x2="53.45" y2="163.19" class="tk"/>
<line x1="117.37" y1="161.29" x2="117.37" y2="163.19" class="tk"/>
<line x1="190.41" y1="161.29" x2="190.41" y2="163.19" class="tk"/>
<line x1="254.33" y1="161.29" x2="254.33" y2="163.19" class="tk"/>
<line x1="331.94" y1="161.29" x2="331.94" y2="163.19" class="tk"/>
<line x1="395.86" y1="161.29" x2="395.86" y2="163.19" class="tk"/>
<line x1="473.47" y1="161.29" x2="473.47" y2="163.19" class="tk"/>
<text x="264.47" y="91.46" class="tt" text-anchor="middle" textLength="42.4" lengthAdjust="spacingAndGlyphs">TRN 50.0 m</text>
<text x="356.6" y="101.26" class="tt" textLength="64.0" lengthAdjust="spacingAndGlyphs">-0.38±10.12 ppm</text>
<text x="43.7" y="104.36" class="pl">(b)</text>
<text transform="translate(13.8,127.82) rotate(-90)" class="yl" text-anchor="middle">CO<tspan font-size="5" dy="1.3">2</tspan><tspan dy="-1.3"> [ppm]</tspan></text>
<line x1="53.45" y1="174.36" x2="53.45" y2="241.45" class="gr"/>
<line x1="117.37" y1="174.36" x2="117.37" y2="241.45" class="gr"/>
<line x1="190.41" y1="174.36" x2="190.41" y2="241.45" class="gr"/>
<line x1="254.33" y1="174.36" x2="254.33" y2="241.45" class="gr"/>
<line x1="331.94" y1="174.36" x2="331.94" y2="241.45" class="gr"/>
<line x1="395.86" y1="174.36" x2="395.86" y2="241.45" class="gr"/>
<line x1="473.47" y1="174.36" x2="473.47" y2="241.45" class="gr"/>
<line x1="34.46" y1="186.2" x2="494.48" y2="186.2" class="gr"/>
<line x1="34.46" y1="222.6" x2="494.48" y2="222.6" class="gr"/>
<line x1="34.46" y1="240.8" x2="494.48" y2="240.8" class="gr"/>
<clipPath id="c2"><rect x="34.46" y="174.36" width="460.02" height="67.09"/></clipPath>
<line x1="34.46" y1="204.4" x2="494.48" y2="204.4" stroke="#333" stroke-width="1.1"/>
<path clip-path="url(#c2)" d="M54.8 203.1h0M55.1 212.0h0M55.3 210.4h0M55.5 212.9h0M55.6 209.2h0M55.9 214.0h0M56.1 208.3h0M56.2 210.8h0M56.5 212.7h0M56.5 214.8h0M56.7 216.0h0M57.1 225.9h0M57.2 223.9h0M57.4 219.1h0M57.6 226.2h0M57.8 215.4h0M57.9 211.7h0M58.2 205.5h0M58.3 212.2h0M58.4 210.7h0M58.8 202.3h0M58.8 204.1h0M59.1 204.5h0M59.3 208.0h0M59.5 209.7h0M59.6 214.4h0M59.8 211.5h0M60.0 213.2h0M60.3 210.4h0M60.4 214.7h0M60.6 215.1h0M60.8 216.0h0M61.0 213.5h0M61.2 217.1h0M61.3 216.2h0M61.5 210.7h0M61.8 210.8h0M62.0 209.7h0M62.2 204.6h0M62.3 209.1h0M62.5 207.2h0M62.7 208.4h0M62.9 208.5h0M63.1 206.4h0M63.2 207.4h0M63.5 206.6h0M63.7 196.7h0M63.8 197.1h0M64.0 193.7h0M64.2 194.4h0M64.4 198.9h0M64.5 194.7h0M64.8 202.8h0M64.9 202.3h0M65.2 205.8h0M65.4 205.9h0M65.6 209.3h0M65.7 207.0h0M66.0 209.4h0M66.2 212.0h0M66.3 212.4h0M66.5 219.8h0M66.7 221.6h0M66.8 212.4h0M67.1 217.0h0M67.3 214.6h0M67.4 218.8h0M67.7 220.6h0M67.9 220.8h0M68.0 216.0h0M68.3 218.5h0M68.4 216.6h0M68.6 216.0h0M68.7 212.4h0M69.0 214.1h0M69.2 213.4h0M69.4 213.6h0M69.6 214.4h0M69.8 204.8h0M69.9 215.0h0M70.1 205.8h0M70.3 207.9h0M70.4 212.3h0M70.8 207.5h0M70.8 208.1h0M71.0 212.1h0M71.3 205.5h0M71.5 214.1h0M71.6 211.1h0M71.8 207.2h0M72.0 209.8h0M72.2 211.8h0M72.4 209.9h0M72.6 208.8h0M72.8 208.1h0M72.9 212.1h0M73.2 211.2h0M73.4 215.4h0M73.5 226.3h0M73.8 222.0h0M73.9 213.0h0M74.2 211.3h0M74.3 209.6h0M74.5 204.3h0M74.7 207.5h0M74.8 204.8h0M75.1 207.3h0M75.3 205.3h0M75.5 204.8h0M75.6 196.8h0M75.8 193.2h0M76.1 200.5h0M76.2 206.8h0M76.5 208.0h0M76.6 205.2h0M76.8 207.0h0M76.9 205.0h0M77.2 211.9h0M77.4 207.6h0M77.5 203.9h0M77.8 217.1h0M77.9 210.3h0M78.1 209.1h0M78.4 212.0h0M78.5 213.7h0M78.7 215.8h0M78.9 218.3h0M79.1 212.3h0M79.2 214.4h0M79.5 216.4h0M79.6 221.8h0M79.9 225.9h0M79.9 228.7h0M80.3 229.6h0M80.3 236.5h0M80.6 228.2h0M80.8 220.4h0M80.9 219.1h0M81.2 222.8h0M81.4 219.6h0M81.5 224.1h0M81.7 222.3h0M82.0 224.1h0M82.1 227.9h0M82.3 227.2h0M82.5 224.7h0M82.7 220.0h0M82.9 215.4h0M83.0 218.2h0M83.2 215.5h0M83.4 218.3h0M83.6 214.9h0M83.8 213.4h0M83.9 208.0h0M84.2 202.4h0M84.3 195.9h0M84.6 191.6h0M84.8 195.9h0M84.9 203.6h0M85.1 209.1h0M85.3 211.6h0M85.6 211.9h0M85.7 215.3h0M86.0 216.5h0M86.1 225.2h0M86.3 221.3h0M86.4 223.9h0M86.7 213.1h0M86.9 214.7h0M87.0 208.2h0M87.2 203.4h0M87.4 207.2h0M87.5 208.5h0M87.9 206.5h0M88.1 207.5h0M88.1 202.3h0M88.4 209.2h0M88.6 203.9h0M88.7 208.4h0M88.9 202.2h0M89.2 208.1h0M89.3 205.0h0M89.6 206.4h0M89.7 206.9h0M89.9 209.9h0M90.1 212.8h0M90.2 211.4h0M90.5 212.3h0M90.6 211.7h0M90.8 212.2h0M91.1 212.0h0M91.2 212.2h0M91.5 209.5h0M91.6 199.6h0M91.8 197.1h0M92.1 205.0h0M92.2 212.3h0M92.4 215.2h0M92.6 213.6h0M92.7 217.4h0M92.9 220.5h0M93.2 217.6h0M93.4 218.4h0M93.6 220.3h0M93.8 221.1h0M93.9 225.9h0M94.0 220.8h0M94.3 225.6h0M94.4 223.9h0M94.7 210.9h0M94.8 214.3h0M95.0 211.0h0M95.3 215.7h0M95.4 214.1h0M95.5 216.7h0M95.8 218.8h0M96.0 216.5h0M96.2 216.4h0M96.4 219.6h0M96.5 216.4h0M96.8 215.7h0M96.9 217.8h0M97.2 225.4h0M97.4 226.1h0M97.5 228.3h0M97.7 219.9h0M98.0 217.4h0M98.0 215.0h0M98.2 213.7h0M98.4 218.4h0M98.7 215.8h0M98.9 214.1h0M99.0 217.1h0M99.2 213.5h0M99.4 216.0h0M99.6 214.7h0M99.9 216.9h0M100.0 218.1h0M100.1 220.8h0M100.3 223.2h0M100.5 229.3h0M100.8 225.9h0M100.9 235.4h0M101.2 226.3h0M101.4 216.0h0M101.4 217.9h0M101.6 216.9h0M101.9 213.0h0M102.0 215.5h0M102.2 215.1h0M102.4 213.4h0M102.7 215.7h0M102.8 205.4h0M103.0 210.8h0M103.2 214.5h0M103.4 212.3h0M103.5 210.7h0M103.8 217.2h0M103.9 224.7h0M104.2 223.8h0M104.4 225.3h0M104.5 222.4h0M104.8 223.1h0M105.0 221.0h0M105.2 214.2h0M105.3 212.6h0M105.6 212.4h0M105.6 209.5h0M105.9 206.1h0M106.0 209.1h0M106.2 201.0h0M106.5 201.6h0M106.6 204.4h0M106.8 200.9h0M107.1 202.2h0M107.2 204.2h0M107.4 205.2h0M107.6 204.0h0M107.8 206.6h0M107.9 207.2h0M108.2 210.0h0M108.3 217.3h0M108.5 229.3h0M108.7 225.5h0M109.0 217.9h0M109.2 206.4h0M109.4 204.1h0M109.5 201.4h0M109.7 201.5h0M109.8 201.1h0M110.1 201.7h0M110.3 200.2h0M110.4 194.4h0M110.6 198.4h0M110.8 197.4h0M111.1 189.7h0M111.3 198.4h0M111.4 201.9h0M111.6 199.2h0M111.8 201.1h0M111.9 199.5h0M112.1 196.9h0M112.3 201.0h0M112.6 199.6h0M112.8 203.1h0M112.9 201.7h0M113.1 196.7h0M113.3 201.2h0M113.5 197.9h0M113.7 200.4h0M113.9 205.7h0M114.0 205.9h0M114.2 206.2h0M114.4 209.6h0M114.6 206.0h0M114.8 208.1h0M114.9 207.3h0M115.3 208.4h0M115.4 212.4h0M115.6 209.4h0M115.8 212.9h0M116.0 210.3h0M116.1 208.6h0M116.4 210.0h0M116.6 206.5h0M116.8 209.0h0M117.0 211.0h0M117.1 209.3h0M117.4 207.6h0M117.6 205.6h0M117.7 207.8h0M117.9 201.0h0M118.1 202.0h0M118.2 202.8h0M118.5 206.8h0M118.7 205.8h0M118.8 207.8h0M119.1 204.3h0M119.2 209.8h0M119.4 205.7h0M119.7 209.2h0M119.7 208.2h0M119.9 213.9h0M120.1 212.6h0M120.3 222.9h0M120.6 214.4h0M120.7 209.5h0M121.0 210.3h0M121.1 209.6h0M121.3 208.4h0M121.5 210.2h0M121.7 209.3h0M121.8 209.5h0M122.1 213.0h0M122.3 211.2h0M122.4 208.0h0M122.6 208.9h0M122.8 209.8h0M123.0 209.5h0M123.3 210.0h0M123.4 205.0h0M123.5 206.2h0M123.7 204.6h0M123.9 205.4h0M124.2 202.9h0M124.3 201.0h0M124.6 205.0h0M124.7 208.1h0M124.8 209.3h0M125.1 206.7h0M125.3 212.0h0M125.5 211.8h0M125.7 211.2h0M125.8 211.4h0M126.0 206.6h0M126.2 215.7h0M126.5 212.6h0M126.6 210.4h0M126.9 210.8h0M127.1 213.1h0M127.2 210.6h0M127.4 215.5h0M127.6 211.7h0M127.7 213.3h0M127.9 212.8h0M128.1 210.0h0M128.3 208.2h0M128.5 208.2h0M128.7 209.6h0M128.9 208.1h0M129.0 206.0h0M129.3 206.5h0M129.5 208.7h0M129.6 205.7h0M129.8 196.5h0M130.0 201.4h0M130.3 200.9h0M130.4 207.1h0M130.6 206.9h0M130.8 204.7h0M131.0 207.9h0M131.2 205.8h0M131.4 204.6h0M131.5 204.3h0M131.8 209.2h0M132.0 207.0h0M132.1 211.4h0M132.4 212.7h0M132.5 210.9h0M132.7 204.3h0M132.8 204.8h0M133.1 205.1h0M133.3 202.5h0M133.4 205.1h0M133.7 206.8h0M133.8 201.9h0M134.0 201.0h0M134.2 197.8h0M134.5 205.3h0M134.6 197.3h0M134.9 196.7h0M135.0 201.8h0M135.1 204.5h0M135.4 205.5h0M135.6 201.6h0M135.7 191.6h0M135.9 188.4h0M136.2 195.5h0M136.3 202.3h0M147.1 204.3h0M147.4 205.4h0M147.5 205.9h0M147.8 205.7h0M147.9 210.6h0M148.1 207.8h0M148.3 209.0h0M148.5 207.7h0M148.7 208.4h0M148.9 203.9h0M149.1 202.5h0M149.2 204.7h0M149.4 201.5h0M149.7 203.0h0M149.9 201.1h0M150.0 200.8h0M150.2 204.2h0M150.4 205.6h0M150.6 208.5h0M150.8 205.6h0M151.0 204.7h0M151.1 206.8h0M151.3 208.7h0M151.5 206.2h0M151.8 208.0h0M151.9 209.7h0M152.1 209.3h0M152.4 207.7h0M152.5 212.1h0M152.6 209.4h0M152.8 206.0h0M153.1 208.4h0M153.3 208.1h0M153.4 206.4h0M153.6 207.6h0M153.8 203.5h0M153.9 208.1h0M154.2 209.8h0M154.4 208.5h0M154.5 206.4h0M154.7 205.0h0M155.0 208.5h0M155.1 204.9h0M155.4 204.1h0M155.6 200.9h0M155.7 200.0h0M155.9 198.4h0M156.2 194.3h0M156.2 196.2h0M156.5 200.0h0M156.7 205.3h0M156.9 205.3h0M157.0 206.2h0M157.3 205.4h0M157.4 205.8h0M157.7 206.2h0M157.8 206.3h0M158.1 208.8h0M158.2 211.7h0M158.4 210.5h0M158.5 206.7h0M158.8 201.6h0M158.9 208.8h0M159.2 209.2h0M159.4 204.7h0M159.6 208.5h0M159.7 209.2h0M159.9 208.8h0M160.1 216.1h0M160.4 212.8h0M160.4 217.7h0M160.7 212.1h0M160.9 214.0h0M161.0 211.3h0M161.2 206.5h0M161.5 207.8h0M161.5 205.7h0M161.9 205.2h0M162.0 205.6h0M162.1 197.8h0M162.4 201.3h0M162.5 197.6h0M162.7 198.0h0M163.0 200.1h0M163.1 203.7h0M163.4 198.3h0M163.5 201.4h0M163.7 201.6h0M163.9 196.0h0M164.1 200.7h0M164.2 203.0h0M164.4 201.7h0M164.6 201.5h0M164.9 205.5h0M165.0 202.9h0M165.2 201.5h0M165.5 203.9h0M165.6 207.4h0M165.8 215.0h0M166.1 209.7h0M166.2 206.9h0M166.4 209.7h0M166.5 209.2h0M166.7 206.9h0M167.0 206.9h0M167.1 206.2h0M167.2 207.3h0M167.5 208.3h0M167.8 209.1h0M167.9 208.2h0M168.0 207.0h0M168.2 205.9h0M168.4 208.1h0M168.7 205.5h0M168.8 201.4h0M169.1 201.0h0M169.2 203.8h0M169.5 208.2h0M169.6 209.2h0M169.8 206.1h0M170.0 204.6h0M170.1 209.5h0M170.4 210.8h0M170.6 211.7h0M170.7 209.7h0M171.0 214.4h0M171.2 210.4h0M171.2 214.6h0M171.5 215.0h0M171.6 213.2h0M171.9 210.2h0M172.1 208.8h0M172.2 207.6h0M172.5 205.5h0M172.6 210.3h0M172.8 206.5h0M173.0 208.6h0M173.2 210.2h0M173.3 210.7h0M173.7 218.3h0M173.8 209.4h0M174.0 210.3h0M174.2 212.0h0M174.3 208.2h0M174.5 212.1h0M174.7 210.1h0M175.0 211.9h0M175.1 207.3h0M175.3 212.4h0M175.6 211.8h0M175.7 206.6h0M175.9 203.0h0M176.0 207.9h0M176.3 209.8h0M176.5 210.7h0M176.6 214.5h0M176.8 217.6h0M177.1 215.5h0M177.3 214.4h0M177.3 214.2h0M177.6 212.3h0M177.9 207.2h0M177.9 211.0h0M178.2 209.6h0M178.3 209.1h0M178.5 205.3h0M178.8 206.9h0M178.9 202.8h0M179.1 206.4h0M179.3 205.3h0M179.5 206.5h0M179.7 203.5h0M179.8 206.4h0M180.1 207.6h0M180.2 208.7h0M180.4 207.0h0M180.6 207.5h0M180.8 208.3h0M181.1 215.8h0M181.2 218.2h0M181.3 208.4h0M181.6 212.5h0M181.8 211.4h0M181.9 206.1h0M182.2 205.6h0M182.3 210.8h0M182.5 206.1h0M182.8 206.8h0M182.9 208.9h0M183.2 203.5h0M183.4 203.2h0M183.5 205.4h0M183.7 197.1h0M183.8 198.4h0M184.1 198.2h0M184.2 199.2h0M184.5 203.8h0M184.6 203.6h0M184.9 205.4h0M184.9 205.6h0M185.1 203.9h0M185.5 201.5h0M185.6 207.1h0M185.8 208.4h0M185.9 202.3h0M186.1 205.4h0M186.4 207.0h0M186.5 205.5h0M186.7 208.7h0M186.9 206.0h0M187.1 209.3h0M187.3 211.1h0M187.5 214.5h0M187.8 212.3h0M187.9 213.8h0M188.0 209.4h0M188.3 210.4h0M188.5 210.4h0M188.6 208.1h0M188.8 206.8h0M189.0 205.3h0M189.2 206.3h0M189.4 204.9h0M189.6 201.2h0M189.7 194.9h0M189.9 190.2h0M190.2 195.5h0M190.4 198.4h0M190.5 204.5h0M190.7 207.6h0M190.9 209.2h0M191.1 212.2h0M191.3 210.2h0M191.5 209.7h0M191.7 208.8h0M191.9 213.9h0M192.0 214.3h0M192.3 217.6h0M192.4 212.7h0M192.7 209.8h0M192.8 208.4h0M192.9 209.7h0M193.3 208.8h0M193.3 206.7h0M193.5 207.3h0M193.7 208.0h0M194.0 205.7h0M194.2 199.9h0M194.4 200.8h0M194.5 199.2h0M194.8 206.7h0M194.9 207.7h0M195.0 211.4h0M195.3 214.4h0M195.4 212.4h0M195.7 209.9h0M195.9 211.5h0M196.1 211.5h0M196.2 208.5h0M196.4 207.9h0M196.7 207.7h0M196.8 208.1h0M196.9 205.5h0M197.2 207.1h0M197.3 204.2h0M197.6 205.2h0M197.7 206.1h0M197.9 208.3h0M198.1 209.1h0M198.4 208.7h0M198.5 205.9h0M198.7 209.2h0M198.9 210.8h0M199.1 206.5h0M199.3 210.8h0M199.4 214.6h0M199.7 208.1h0M199.9 208.5h0M200.1 208.3h0M200.3 206.2h0M200.4 207.4h0M200.7 211.4h0M200.8 205.9h0M200.9 207.7h0M201.1 204.0h0M201.4 199.7h0M201.6 207.1h0M201.8 206.1h0M201.9 209.8h0M202.1 211.2h0M202.4 207.4h0M202.6 210.7h0M202.6 208.2h0M202.9 209.2h0M203.1 208.9h0M203.3 210.1h0M203.4 211.6h0M203.7 215.6h0M203.8 219.5h0M204.0 212.4h0M204.3 201.2h0M204.5 198.0h0M204.6 194.5h0M204.7 196.2h0M205.1 196.8h0M205.2 205.7h0M205.3 204.3h0M205.5 207.6h0M205.7 205.4h0M206.0 210.3h0M206.2 209.6h0M206.3 205.5h0M206.5 211.4h0M206.7 208.3h0M206.8 216.2h0M207.1 214.0h0M207.2 215.7h0M207.5 210.8h0M207.7 210.2h0M207.8 209.4h0M208.0 205.6h0M208.3 206.8h0M208.5 204.2h0M208.7 202.2h0M208.8 209.4h0M209.1 213.0h0M209.2 211.4h0M209.4 209.9h0M209.6 205.0h0M209.7 206.2h0M209.9 207.9h0M210.1 206.6h0M210.3 205.5h0M210.5 200.8h0M210.7 199.8h0M210.8 199.1h0M211.0 198.2h0M211.3 202.5h0M211.5 205.1h0M211.7 205.2h0M211.8 206.7h0M212.1 204.4h0M212.3 207.1h0M212.5 203.4h0M212.6 208.3h0M212.8 205.6h0M212.9 214.2h0M213.1 208.8h0M213.4 204.5h0M213.6 202.8h0M213.7 203.2h0M214.0 195.7h0M214.1 200.9h0M214.4 204.9h0M214.5 201.0h0M214.6 204.6h0M214.8 204.8h0M215.1 201.6h0M215.3 204.5h0M215.4 203.9h0M215.6 205.0h0M215.9 206.0h0M216.0 216.1h0M216.3 216.7h0M216.5 218.3h0M216.6 208.8h0M216.7 202.2h0M216.9 203.1h0M217.1 202.6h0M217.4 202.0h0M217.5 205.0h0M217.7 202.8h0M217.8 205.5h0M218.1 204.1h0M218.2 202.3h0M218.5 206.3h0M218.7 207.9h0M218.8 207.7h0M219.1 211.3h0M219.2 207.0h0M219.4 206.3h0M219.6 203.0h0M219.8 205.0h0M220.0 203.6h0M220.3 202.1h0M220.3 204.7h0M220.6 203.2h0M220.8 203.4h0M221.0 197.9h0M221.2 202.8h0M221.3 196.6h0M221.5 200.0h0M221.8 204.2h0M221.9 197.8h0M222.1 202.1h0M222.2 202.0h0M222.5 203.3h0M222.7 204.6h0M222.9 205.9h0M223.1 202.7h0M223.2 202.2h0M223.4 198.6h0M223.7 195.2h0M223.8 191.2h0M224.0 191.0h0M224.2 197.8h0M224.3 199.0h0M224.5 204.5h0M224.8 204.7h0M225.0 200.6h0M225.2 204.9h0M225.3 205.4h0M225.6 205.5h0M225.7 204.5h0M225.8 207.6h0M226.1 215.2h0M226.2 213.1h0M226.5 208.0h0M226.8 202.0h0M226.8 202.0h0M227.0 196.8h0M227.3 193.1h0M227.4 190.3h0M227.6 198.1h0M227.8 199.1h0M228.0 200.4h0M228.2 201.7h0M228.3 203.6h0M228.6 199.9h0M228.7 201.7h0M229.0 203.4h0M229.1 205.3h0M229.4 206.7h0M229.5 205.5h0M229.7 206.5h0M229.9 208.0h0M230.1 202.3h0M230.3 203.0h0M230.5 205.6h0M230.7 203.9h0M230.8 200.8h0M231.0 203.6h0M231.2 203.9h0M231.4 203.0h0M231.7 200.5h0M231.8 202.0h0M232.0 203.7h0M232.2 200.4h0M232.3 202.8h0M232.6 202.9h0M232.7 205.3h0M233.0 210.3h0M233.2 211.8h0M233.3 211.9h0M233.6 208.8h0M233.7 203.5h0M233.8 207.0h0M234.1 203.3h0M234.2 204.6h0M234.5 203.5h0M234.6 202.7h0M234.8 205.3h0M235.0 202.0h0M235.3 199.9h0M235.5 189.6h0M235.7 194.1h0M235.8 194.6h0M236.1 203.2h0M236.2 204.0h0M236.3 205.6h0M236.5 202.6h0M236.7 206.5h0M237.0 203.3h0M237.1 202.9h0M237.4 198.7h0M237.5 190.3h0M237.7 184.3h0M237.9 191.4h0M238.1 194.7h0M238.3 200.4h0M238.4 205.3h0M238.6 201.0h0M238.8 201.1h0M239.1 205.1h0M239.1 206.4h0M239.4 205.3h0M239.6 209.0h0M239.8 211.5h0M240.0 200.6h0M240.1 209.1h0M240.3 209.1h0M240.6 204.2h0M240.8 210.6h0M240.9 205.0h0M241.2 204.9h0M241.4 205.6h0M241.5 201.6h0M241.7 203.4h0M241.9 202.1h0M242.1 201.8h0M242.3 200.6h0M242.4 203.0h0M242.6 197.6h0M242.9 196.5h0M243.0 196.7h0M243.3 201.9h0M243.4 195.9h0M243.7 199.8h0M243.7 201.2h0M244.0 199.9h0M244.2 201.9h0M244.4 203.4h0M244.5 200.6h0M244.8 201.5h0M245.0 203.4h0M245.1 206.9h0M245.2 191.1h0M245.6 190.5h0M245.7 199.1h0M245.9 200.0h0M246.1 200.6h0M246.3 200.6h0M246.5 199.6h0M246.7 200.6h0M246.9 199.6h0M247.1 200.8h0M247.2 206.3h0M247.4 208.9h0M247.5 208.5h0M247.8 208.9h0M247.9 204.9h0M248.2 204.9h0M248.3 204.1h0M248.5 203.4h0M248.8 201.8h0M249.0 202.5h0M249.1 200.1h0M249.4 200.6h0M249.4 199.2h0M249.8 192.2h0M249.9 193.8h0M250.1 198.8h0M250.2 203.2h0M250.4 201.5h0M250.6 204.4h0M250.9 206.8h0M251.1 200.4h0M251.2 203.3h0M251.4 201.8h0M251.6 206.2h0M251.8 210.3h0M251.9 206.6h0M252.2 203.2h0M252.3 200.5h0M252.5 201.8h0M252.8 203.3h0M252.9 200.7h0M253.1 200.4h0M253.4 200.4h0M253.6 198.7h0M253.7 195.9h0M253.9 191.4h0M254.0 190.0h0M254.2 190.6h0M254.5 193.3h0M254.6 197.2h0M254.9 194.5h0M255.0 196.0h0M255.3 194.3h0M255.4 197.8h0M255.6 192.1h0M255.8 193.4h0M256.0 195.9h0M256.1 192.4h0M256.3 197.7h0M256.5 196.5h0M256.8 199.1h0M257.0 196.8h0M257.1 198.4h0M257.3 202.7h0M257.4 206.8h0M257.7 206.4h0M257.9 213.5h0M258.1 209.1h0M258.3 208.2h0M258.4 207.1h0M258.6 203.2h0M258.8 205.9h0M259.0 200.0h0M259.2 201.1h0M259.4 199.5h0M259.6 195.3h0M259.7 203.4h0M260.0 201.0h0M260.1 197.3h0M260.4 200.7h0M260.5 198.4h0M260.6 209.3h0M260.9 208.7h0M261.1 207.7h0M261.2 210.1h0M261.4 203.9h0M261.6 206.3h0M261.9 205.0h0M262.0 200.3h0M262.3 198.8h0M262.4 198.2h0M262.7 200.1h0M262.9 200.0h0M263.0 191.1h0M263.2 196.6h0M263.4 187.3h0M263.6 202.2h0M263.8 200.7h0M263.9 205.4h0M264.1 203.7h0M264.3 205.2h0M264.5 201.4h0M264.7 201.3h0M264.9 202.3h0M265.1 201.9h0M265.2 200.5h0M265.5 201.7h0M265.7 197.3h0M265.9 196.3h0M266.0 197.6h0M266.3 194.3h0M266.5 196.1h0M266.6 193.9h0M266.8 201.3h0M267.0 199.4h0M267.1 200.1h0M267.4 200.9h0M267.6 202.2h0M267.8 200.9h0M267.9 204.5h0M268.2 198.2h0M268.3 193.6h0M268.5 195.8h0M268.8 193.1h0M268.9 184.6h0M269.1 188.9h0M269.3 194.1h0M269.5 196.3h0M269.6 198.8h0M269.8 197.7h0M270.0 202.1h0M270.2 200.2h0M270.5 201.0h0M270.6 203.8h0M270.8 199.9h0M271.0 198.5h0M271.1 205.7h0M271.4 199.7h0M271.5 199.6h0M271.8 203.1h0M272.0 198.8h0M272.2 198.7h0M272.4 199.8h0M272.5 200.3h0M272.8 194.2h0M273.0 197.6h0M273.0 198.7h0M273.2 195.4h0M273.5 198.5h0M273.7 197.9h0M273.9 197.5h0M274.1 199.8h0M274.2 201.7h0M274.4 206.8h0M274.6 205.3h0M274.8 209.7h0M275.0 204.0h0M275.1 203.8h0M275.4 197.2h0M275.5 199.9h0M275.8 201.5h0M275.9 200.5h0M276.1 196.5h0M276.3 196.5h0M276.5 200.2h0M276.7 199.0h0M276.9 197.1h0M277.1 202.3h0M277.3 200.7h0M277.5 203.0h0M277.7 203.6h0M277.8 204.4h0M278.0 206.7h0M278.2 205.2h0M278.4 204.9h0M278.6 205.2h0M278.8 209.1h0M278.9 207.9h0M279.1 210.8h0M279.3 212.0h0M279.6 211.1h0M279.7 206.2h0M279.9 206.6h0M280.1 206.1h0M280.3 206.2h0M280.5 205.4h0M280.8 205.6h0M280.8 206.0h0M281.1 204.6h0M281.2 205.2h0M281.5 204.6h0M281.6 194.9h0M281.9 203.7h0M282.0 206.2h0M282.2 204.4h0M282.4 205.7h0M282.6 204.6h0M282.8 199.9h0M282.9 201.2h0M283.1 202.1h0M283.4 196.9h0M283.5 197.3h0M283.8 197.1h0M283.9 200.2h0M284.1 201.1h0M284.2 201.0h0M284.5 203.1h0M284.6 199.0h0M284.8 203.5h0M285.1 198.5h0M285.3 204.4h0M285.4 208.7h0M285.7 220.6h0M285.8 213.9h0M286.1 208.6h0M286.3 204.2h0M286.5 206.2h0M286.6 202.8h0M286.8 201.4h0M286.9 198.2h0M287.1 198.8h0M287.4 193.8h0M287.5 199.0h0M287.7 203.3h0M288.0 205.3h0M288.1 206.1h0M288.3 204.6h0M288.4 204.2h0M288.7 207.3h0M288.9 208.3h0M289.1 211.2h0M289.2 218.5h0M289.5 215.0h0M289.6 214.9h0M289.9 214.5h0M290.0 208.8h0M290.1 208.4h0M290.4 203.5h0M290.6 202.3h0M290.8 203.8h0M291.0 200.4h0M291.2 191.0h0M291.4 198.8h0M291.6 201.7h0M291.7 204.3h0M291.9 202.5h0M292.1 202.8h0M292.4 203.8h0M292.5 206.0h0M292.7 203.4h0M292.8 201.2h0M293.0 199.4h0M293.2 216.8h0M299.3 205.1h0M299.5 211.0h0M299.7 208.5h0M299.9 209.6h0M300.1 194.2h0M300.3 195.4h0M300.4 198.0h0M300.7 199.2h0M300.9 201.9h0M301.0 200.9h0M301.2 201.7h0M301.4 202.2h0M301.7 200.9h0M301.9 201.6h0M302.1 199.3h0M302.2 203.0h0M302.3 210.3h0M302.6 206.3h0M302.8 209.1h0M303.0 207.5h0M303.2 202.5h0M303.3 202.8h0M303.5 201.1h0M303.6 203.0h0M303.9 203.9h0M304.1 203.6h0M304.4 198.4h0M304.4 200.9h0M304.6 200.1h0M304.9 200.6h0M305.1 203.5h0M305.3 201.9h0M305.4 203.3h0M305.7 202.8h0M305.7 200.5h0M306.0 203.8h0M306.3 207.2h0M306.4 206.4h0M306.5 207.1h0M306.7 203.2h0M306.9 203.9h0M307.1 202.0h0M307.4 201.7h0M307.6 199.3h0M307.7 198.4h0M307.9 200.2h0M308.1 199.5h0M308.2 200.6h0M308.5 196.7h0M308.7 197.4h0M308.8 194.2h0M309.0 197.8h0M309.2 201.6h0M309.4 201.9h0M309.5 201.4h0M309.8 201.3h0M309.9 208.6h0M310.2 208.8h0M310.4 198.9h0M310.6 203.3h0M310.8 199.5h0M310.9 202.1h0M311.2 202.6h0M311.3 202.2h0M311.5 204.0h0M311.6 200.9h0M312.0 195.5h0M312.0 192.8h0M312.2 193.0h0M312.4 189.1h0M312.7 193.8h0M312.9 198.3h0M313.1 207.1h0M313.2 201.4h0M313.4 206.4h0M313.5 204.5h0M313.8 206.1h0M313.9 201.9h0M314.3 202.7h0M314.3 206.0h0M314.6 203.4h0M314.7 203.4h0M314.9 206.4h0M315.1 202.6h0M315.3 204.5h0M315.5 203.7h0M315.7 204.0h0M315.9 207.5h0M316.1 210.5h0M316.2 204.8h0M316.4 208.7h0M316.7 202.7h0M316.8 202.2h0M317.0 204.8h0M317.2 202.2h0M317.3 201.5h0M317.6 202.7h0M317.8 200.7h0M318.1 196.4h0M318.2 195.1h0M318.4 199.3h0M318.5 198.2h0M318.7 200.9h0M318.9 197.1h0M319.1 196.3h0M319.4 197.7h0M319.5 197.3h0M319.7 195.9h0M320.0 195.9h0M320.1 199.1h0M320.2 198.7h0M320.4 201.0h0M320.6 198.6h0M320.9 201.8h0M320.9 204.6h0M321.3 204.1h0M321.5 205.0h0M321.5 202.8h0M321.7 202.5h0M321.9 195.8h0M322.2 203.5h0M322.4 198.2h0M322.6 201.2h0M322.7 198.3h0M322.9 203.0h0M323.1 200.2h0M323.2 202.3h0M323.5 207.5h0M323.7 204.7h0M323.9 201.6h0M324.0 201.0h0M324.3 202.9h0M324.4 200.6h0M324.7 197.5h0M324.8 202.5h0M325.0 201.3h0M325.2 193.1h0M325.4 194.7h0M325.7 186.4h0M325.8 186.2h0M325.9 186.6h0M326.1 188.0h0M326.3 194.0h0M326.5 196.6h0M326.7 199.7h0M327.0 200.2h0M327.1 201.0h0M327.4 201.1h0M327.5 188.1h0M327.7 189.9h0M327.9 189.6h0M328.0 195.2h0M328.2 192.8h0M328.5 200.8h0M328.6 198.5h0M328.8 201.2h0M329.0 205.2h0M329.2 200.8h0M329.5 211.7h0M329.5 220.1h0M329.7 221.5h0M330.0 216.3h0M330.1 209.1h0M330.3 209.0h0M330.6 199.1h0M330.7 199.0h0M341.2 200.7h0M341.3 198.0h0M341.6 198.6h0M341.7 203.0h0M342.0 202.1h0M342.1 205.4h0M342.4 203.8h0M342.5 196.7h0M342.7 199.9h0M342.9 200.4h0M343.1 197.6h0M343.3 197.6h0M343.5 197.6h0M343.6 195.2h0M343.8 189.3h0M344.1 186.8h0M344.2 193.7h0M344.4 193.9h0M344.6 191.4h0M344.7 190.8h0M345.0 194.8h0M345.1 190.3h0M345.4 194.1h0M345.6 196.7h0M345.7 196.2h0M346.0 194.6h0M346.1 194.8h0M346.3 193.3h0M346.5 190.3h0M346.7 183.4h0M346.9 182.0h0M347.0 188.9h0M347.4 196.1h0M347.4 195.2h0M347.7 197.0h0M347.9 198.5h0M348.1 200.1h0M348.2 199.7h0M348.4 196.9h0M348.6 203.2h0M348.8 205.9h0M349.0 194.9h0M349.2 199.6h0M349.4 194.9h0M349.5 196.7h0M349.7 199.7h0M349.9 197.6h0M350.1 201.7h0M350.3 199.1h0M350.5 198.4h0M350.8 198.0h0M350.9 198.9h0M351.1 199.7h0M351.2 204.6h0M351.5 204.5h0M351.6 202.4h0M351.9 201.5h0M352.0 202.2h0M352.1 198.3h0M352.5 199.3h0M352.6 196.2h0M352.8 198.7h0M353.0 199.1h0M353.2 194.4h0M353.4 197.3h0M353.6 195.9h0M353.8 197.3h0M353.9 185.2h0M354.2 194.8h0M354.3 192.4h0M354.5 194.2h0M354.7 199.7h0M355.0 214.1h0M355.0 204.0h0M355.2 194.7h0M355.4 203.4h0M355.6 200.2h0M355.8 195.7h0M356.1 201.0h0M356.2 200.8h0M356.5 199.4h0M356.6 195.7h0M356.7 196.7h0M357.0 191.9h0M357.2 188.8h0M357.4 188.2h0M357.5 186.4h0M357.7 197.2h0M357.9 193.1h0M358.2 196.5h0M358.3 198.4h0M358.6 197.6h0M358.7 195.1h0M359.0 197.6h0M359.1 198.7h0M359.3 203.1h0M359.4 200.4h0M359.7 202.5h0M359.8 210.8h0M360.1 199.7h0M360.2 200.4h0M360.4 196.4h0M360.5 195.6h0M360.8 196.6h0M361.0 192.7h0M361.2 196.2h0M361.3 194.1h0M361.5 194.2h0M361.7 194.2h0M361.9 189.7h0M362.2 188.9h0M362.3 185.8h0M362.5 200.9h0M362.6 193.2h0M362.9 199.6h0M363.0 198.2h0M363.2 199.3h0M363.4 197.1h0M363.7 199.9h0M363.8 199.8h0M364.1 202.0h0M364.2 194.5h0M364.4 194.4h0M364.6 193.9h0M364.8 192.0h0M365.0 193.9h0M365.2 199.0h0M365.3 199.6h0M365.5 200.5h0M365.8 201.4h0M365.9 199.8h0M366.1 199.4h0M366.3 198.3h0M366.5 205.4h0M366.7 198.6h0M366.9 204.9h0M367.0 203.9h0M367.2 202.7h0M367.5 199.1h0M367.6 199.3h0M367.8 198.3h0M368.0 201.4h0M368.2 199.6h0M368.4 195.1h0M368.6 195.0h0M368.7 196.0h0M369.0 194.0h0M369.1 198.4h0M369.3 197.9h0M369.5 202.0h0M369.8 205.9h0M369.9 207.0h0M370.1 194.9h0M370.3 194.7h0M370.4 198.7h0M370.7 197.0h0M370.9 197.6h0M371.0 199.1h0M371.2 199.6h0M371.4 199.5h0M371.6 200.8h0M371.8 201.9h0M372.0 203.3h0M372.2 197.3h0M372.5 201.0h0M372.5 199.8h0M372.8 203.8h0M373.0 203.6h0M373.1 207.4h0M373.4 197.2h0M373.6 196.3h0M373.8 195.5h0M374.0 192.9h0M374.1 191.1h0M374.3 196.9h0M374.4 206.0h0M374.7 208.4h0M374.9 205.5h0M375.1 205.0h0M375.3 201.6h0M375.4 206.9h0M375.7 204.3h0M375.8 209.8h0M376.0 200.7h0M376.1 213.5h0M376.3 205.7h0M376.5 206.0h0M376.8 201.8h0M376.9 203.6h0M377.1 203.3h0M377.3 204.0h0M377.6 201.5h0M377.7 201.0h0M377.8 199.3h0M378.0 201.2h0M378.2 199.4h0M378.4 201.6h0M378.6 203.6h0M378.9 203.0h0M379.1 200.5h0M379.3 205.9h0M379.5 207.8h0M379.5 205.4h0M379.7 204.4h0M380.0 201.0h0M380.3 205.7h0M380.4 203.3h0M380.6 201.3h0M380.7 200.2h0M380.9 199.3h0M381.2 197.7h0M381.3 195.9h0M381.5 191.1h0M381.7 190.5h0M381.8 190.3h0M382.0 195.7h0M382.3 200.9h0M382.5 199.5h0M382.7 198.4h0M382.9 199.2h0M383.1 198.6h0M383.2 194.4h0M383.4 196.5h0M383.6 193.2h0M383.8 195.9h0M384.0 192.8h0M384.2 196.6h0M384.3 198.2h0M384.5 199.7h0M384.7 201.0h0M385.0 198.3h0M385.1 199.0h0M385.3 201.1h0M385.5 201.9h0M385.7 204.5h0M386.0 204.3h0M386.1 208.5h0M386.3 200.4h0M386.5 202.0h0M386.7 200.4h0M386.9 205.2h0M387.0 204.4h0M387.2 209.1h0M387.4 216.7h0M387.6 210.6h0M387.8 203.5h0M388.0 204.2h0M388.2 205.5h0M388.3 203.3h0M388.6 204.8h0M388.8 204.9h0M388.9 204.7h0M389.1 202.8h0M389.3 201.5h0M389.5 199.3h0M389.7 192.9h0M389.9 191.0h0M390.1 199.2h0M390.3 205.3h0M390.5 206.5h0M390.7 203.3h0M390.9 204.4h0M391.0 204.8h0M391.2 206.0h0M391.4 202.3h0M391.6 204.2h0M391.7 202.1h0M391.9 202.0h0M392.1 201.3h0M392.3 203.4h0M392.5 193.8h0M392.7 193.1h0M392.9 198.8h0M393.2 202.3h0M393.2 201.9h0M393.5 202.9h0M393.7 201.6h0M393.8 204.3h0M394.1 204.8h0M394.3 201.6h0M394.5 202.8h0M394.7 207.1h0M394.8 203.2h0M394.9 210.9h0M395.3 217.9h0M395.4 208.9h0M395.5 204.8h0M395.8 204.6h0M396.0 209.1h0M396.2 204.9h0M396.4 204.5h0M396.5 200.8h0M396.7 203.7h0M397.0 204.7h0M397.1 203.5h0M397.3 202.9h0M397.5 202.0h0M397.8 201.6h0M397.8 200.6h0M398.0 192.6h0M398.3 195.9h0M398.4 200.9h0M398.7 200.9h0M398.8 200.9h0M399.1 203.3h0M399.2 202.7h0M399.4 206.1h0M399.5 201.1h0M399.7 206.1h0M399.9 206.9h0M400.2 207.6h0M400.3 215.3h0M400.5 203.4h0M400.7 204.5h0M400.9 207.6h0M401.1 204.4h0M401.4 210.5h0M401.4 206.8h0M401.7 204.6h0M401.8 204.4h0M402.0 207.0h0M402.2 203.6h0M402.5 201.4h0M402.6 197.8h0M402.9 201.7h0M403.1 199.0h0M403.2 198.9h0M403.5 195.6h0M403.7 190.0h0M403.8 192.6h0M404.0 197.6h0M404.2 197.3h0M404.3 195.3h0M404.5 199.7h0M404.7 200.8h0M404.9 200.8h0M405.1 198.4h0M405.3 201.6h0M405.4 200.5h0M405.6 202.4h0M405.9 198.1h0M406.0 197.7h0M406.3 193.3h0M406.4 189.9h0M406.6 197.3h0M406.8 200.6h0M407.0 200.0h0M407.3 199.2h0M407.4 201.0h0M407.6 200.2h0M407.7 202.2h0M408.0 198.2h0M408.2 197.5h0M408.3 202.0h0M408.6 206.5h0M408.7 206.2h0M408.9 203.5h0M409.1 202.4h0M409.3 200.7h0M409.4 202.2h0M409.7 203.3h0M409.9 202.0h0M410.1 203.4h0M410.2 202.6h0M410.4 203.5h0M410.7 199.4h0M410.7 201.5h0M411.1 198.4h0M411.2 200.2h0M411.4 196.7h0M411.5 197.4h0M411.8 193.6h0M411.9 193.0h0M412.1 196.3h0M412.3 193.7h0M412.5 192.9h0M412.7 193.2h0M412.9 198.2h0M413.0 198.6h0M413.3 199.1h0M413.4 198.3h0M413.6 199.4h0M413.9 198.5h0M414.1 197.4h0M414.2 205.3h0M414.5 203.3h0M414.6 199.2h0M414.7 198.5h0M415.0 197.6h0M415.2 197.8h0M415.3 195.1h0M415.6 196.5h0M415.8 195.9h0M416.0 194.4h0M416.2 196.0h0M416.3 193.1h0M416.5 188.1h0M416.7 192.7h0M416.8 194.5h0M417.1 195.6h0M417.3 195.9h0M417.5 199.0h0M417.7 194.0h0M417.8 198.8h0M418.0 197.2h0M418.3 201.8h0M418.5 204.8h0M418.6 207.7h0M418.8 198.7h0M419.0 200.1h0M419.3 203.4h0M419.4 198.4h0M419.5 199.0h0M419.7 201.1h0M419.9 203.6h0M420.1 211.4h0M420.4 205.6h0M420.6 208.6h0M420.6 207.6h0M420.9 204.3h0M421.1 204.8h0M421.3 202.6h0M421.4 205.4h0M421.6 200.0h0M421.8 198.0h0M422.0 199.4h0M422.2 196.1h0M422.4 196.9h0M422.5 191.6h0M422.8 191.5h0M422.9 192.4h0M423.1 196.7h0M423.3 201.4h0M423.5 196.3h0M423.7 203.5h0M424.0 194.2h0M424.1 197.3h0M424.3 200.3h0M424.5 199.7h0M424.7 201.4h0M424.9 204.9h0M425.1 204.0h0M425.3 203.4h0M425.5 202.8h0M425.6 209.0h0M434.6 194.7h0M434.8 196.6h0M435.0 192.3h0M435.2 196.5h0M435.4 196.9h0M435.5 198.4h0M435.7 201.6h0M435.9 199.2h0M436.1 205.9h0M436.4 202.8h0M436.5 205.3h0M436.7 205.5h0M436.9 206.1h0M437.1 203.5h0M437.3 203.6h0M437.4 202.0h0M437.6 201.2h0M437.8 207.5h0M438.1 204.6h0M438.3 200.9h0M438.4 197.7h0M438.5 207.2h0M438.7 208.7h0M439.0 198.7h0M439.2 202.2h0M439.3 205.4h0M439.5 200.2h0M439.7 201.4h0M439.9 203.9h0M440.1 200.5h0M440.3 197.8h0M440.5 194.6h0M440.7 190.5h0M440.9 182.2h0M441.0 194.4h0M441.3 194.6h0M441.4 198.2h0M441.7 208.7h0M441.8 213.0h0M442.1 217.3h0M442.2 213.7h0M442.4 205.7h0M442.6 202.5h0M442.7 201.2h0M443.0 198.7h0M443.2 200.0h0M443.4 199.6h0M443.5 200.8h0M443.7 199.6h0M443.9 197.0h0M444.0 193.4h0M444.2 192.7h0M444.4 192.4h0M444.7 194.4h0M444.9 195.8h0M445.0 199.5h0M445.2 198.4h0M445.5 196.9h0M445.7 197.5h0M445.8 194.9h0M446.0 199.0h0M446.2 202.3h0M446.4 196.7h0M446.6 200.4h0M446.8 195.3h0M446.9 196.3h0M447.1 194.8h0M447.3 195.4h0M447.5 195.1h0M447.7 194.8h0M448.0 193.9h0M448.2 188.6h0M448.4 187.1h0M448.5 192.1h0M448.7 197.7h0M448.9 195.0h0M449.1 196.7h0M449.2 195.0h0M449.5 195.3h0M449.6 193.4h0M449.8 199.9h0M450.0 195.9h0M450.2 196.7h0M450.3 205.5h0M450.6 201.1h0M450.7 199.7h0M451.0 190.7h0M451.2 188.7h0M451.3 195.7h0M451.5 194.0h0M451.7 202.0h0M451.9 199.3h0M452.0 195.5h0M452.3 201.5h0M452.5 200.9h0M452.6 195.7h0M452.9 201.8h0M453.1 207.1h0M453.2 204.1h0M453.4 208.0h0M453.6 205.7h0M453.8 202.1h0M454.1 205.3h0M454.2 199.5h0M454.4 198.3h0M454.6 199.5h0M454.8 197.6h0M454.9 199.3h0M455.2 195.2h0M455.3 198.3h0M455.4 194.9h0M455.8 189.9h0M456.0 187.8h0M456.1 195.9h0M456.2 196.1h0M456.5 199.6h0M456.6 198.4h0M456.9 199.5h0M457.0 196.1h0M457.1 196.5h0M457.5 195.1h0M457.6 196.5h0M457.8 200.4h0M457.9 203.8h0M458.1 199.3h0M458.4 197.2h0M458.5 197.1h0M458.7 197.0h0M459.0 197.6h0M459.2 194.3h0M459.3 198.0h0M459.5 199.5h0M459.8 197.7h0M459.9 201.1h0M460.1 204.3h0M460.2 207.4h0M460.5 214.4h0M460.7 205.8h0M460.9 201.2h0M461.0 200.0h0M461.3 196.8h0M461.5 199.3h0M461.5 200.1h0M461.8 198.9h0M462.0 199.2h0M462.2 192.0h0M462.4 194.9h0M462.6 192.4h0M462.7 193.5h0M462.9 193.8h0M463.1 195.1h0M463.3 198.4h0M463.5 201.4h0M463.6 204.8h0M463.8 201.3h0M464.1 204.3h0M464.3 205.9h0M464.5 201.3h0M464.7 201.7h0M464.8 199.3h0M465.1 200.5h0M465.2 202.6h0M465.5 200.3h0M465.5 199.9h0M465.8 198.3h0M466.0 199.9h0M466.2 197.8h0M466.4 203.6h0M466.5 197.2h0M466.7 201.1h0M466.9 203.2h0M467.2 199.7h0M467.4 204.3h0M467.6 203.8h0M467.8 200.9h0M467.9 203.2h0M468.1 207.9h0M468.3 212.1h0M468.4 214.0h0M468.6 216.4h0M468.9 211.1h0M469.0 203.2h0M469.2 201.4h0M469.4 199.3h0M469.7 195.0h0M469.8 182.9h0M469.9 187.2h0M470.2 186.0h0M470.4 191.1h0M470.6 192.9h0M470.8 196.8h0M470.9 200.5h0M471.1 201.6h0M471.4 200.4h0M471.4 201.1h0M471.7 208.2h0M471.9 206.4h0M472.1 210.5h0M472.2 202.0h0M63.9 192.8h0M63.9 195.2h0M63.9 198.5h0M73.7 195.2h0M75.4 198.5h0M86.8 196.9h0M100.7 192.8h0M100.7 198.5h0M91.7 201.8h0M113.8 190.3h0M113.8 195.2h0M106.4 198.5h0M54.9 226.3h0M58.2 223.0h0M69.3 231.2h0M69.6 236.1h0M80.3 229.6h0M81.1 236.1h0M81.1 238.6h0M71.3 223.0h0M74.5 223.0h0M97.4 228.0h0M99.1 226.3h0M104.8 226.3h0M92.5 224.7h0M118.7 218.1h0M118.7 223.0h0M114.6 219.8h0M134.0 197.7h0M155.3 193.6h0M155.3 196.1h0M164.3 193.3h0M168.4 197.7h0M174.1 196.9h0M182.3 194.9h0M187.2 194.9h0M197.0 196.6h0M199.4 200.2h0M151.2 212.4h0M151.2 214.9h0M158.5 216.5h0M158.5 219.0h0M159.4 212.4h0M169.2 214.9h0M179.0 217.3h0M178.7 222.2h0M183.9 216.5h0M188.0 215.7h0M197.8 215.7h0M197.8 220.6h0M197.8 225.5h0M201.1 217.3h0M201.1 221.1h0M131.5 214.0h0M125.8 213.2h0M255.6 177.3h0M255.6 179.7h0M255.6 181.8h0M261.3 187.1h0M261.3 189.0h0M274.4 185.8h0M269.5 187.9h0M270.3 190.3h0M245.8 190.0h0M247.4 193.6h0M247.4 196.1h0M252.0 192.8h0M241.7 194.9h0M228.6 192.8h0M228.6 195.2h0M222.9 196.1h0M279.3 191.2h0M200.8 216.5h0M200.8 221.1h0M205.7 217.8h0M219.6 212.4h0M224.2 214.0h0M276.9 212.4h0M249.1 209.1h0M279.1 191.7h0M286.5 193.6h0M287.3 195.2h0M291.4 195.2h0M309.4 183.5h0M309.4 186.3h0M309.4 191.2h0M310.2 194.4h0M319.2 190.0h0M318.4 193.6h0M323.8 192.0h0M327.4 194.4h0M342.9 186.7h0M347.0 187.4h0M351.9 185.8h0M351.9 188.4h0M287.8 221.7h0M287.8 217.3h0M287.8 214.9h0M281.5 213.2h0M277.5 212.4h0M306.1 212.4h0M310.7 212.4h0M314.3 211.9h0M309.7 222.7h0M354.8 206.7h0M351.6 186.3h0M351.6 188.7h0M360.6 185.4h0M360.6 187.9h0M369.6 183.8h0M369.6 190.3h0M357.4 192.0h0M377.8 194.4h0M383.5 190.3h0M383.5 193.3h0M386.8 191.7h0M391.7 192.8h0M396.6 194.4h0M402.4 185.1h0M402.4 191.2h0M402.4 194.4h0M415.4 183.0h0M415.4 187.1h0M412.2 192.8h0M423.6 190.3h0M422.8 196.9h0M356.2 211.9h0M373.7 210.0h0M374.5 212.9h0M381.9 207.5h0M387.6 209.1h0M397.4 210.0h0M401.5 215.7h0M401.5 210.0h0M420.3 210.8h0M424.9 215.7h0M424.9 218.1h0M447.7 177.3h0M447.7 179.7h0M447.7 185.1h0M447.7 190.3h0M456.7 186.7h0M456.7 189.5h0M460.0 190.3h0M460.8 192.8h0M469.8 180.9h0M470.6 185.4h0M471.4 192.8h0M415.8 183.0h0M415.8 186.3h0M423.2 190.3h0M437.1 194.9h0M419.9 210.0h0M424.8 214.9h0M424.8 218.1h0M435.5 207.5h0M468.2 211.6h0M469.0 213.2h0M468.7 220.6h0M460.8 208.3h0" stroke="#777" stroke-width="1.7" stroke-linecap="square" fill="none"/>
<path d="M56.5 213.8 57.6 213.4 58.7 212.4 59.8 211.4 60.9 209.0 62.0 206.7 63.1 204.9 64.2 204.7 65.3 205.4 66.4 208.7 67.5 211.3 68.6 213.8 69.7 213.3 70.8 212.9 71.9 211.4 73.0 209.8 74.1 207.8 75.2 207.7 76.3 208.8 77.4 211.8 78.5 215.8 79.6 219.0 80.7 219.8 81.8 218.4 82.9 214.4 84.0 211.6 85.1 209.0 86.2 209.0 87.3 208.0 88.4 208.9 89.5 209.3 90.6 211.5 91.7 213.1 92.8 215.9 93.9 217.4 95.0 218.0 96.1 217.8 97.2 217.5 98.3 216.6 99.4 216.2 100.5 215.8 101.6 217.0 102.7 217.0 103.8 216.5 104.9 214.1 106.0 210.7 107.1 207.9 108.2 206.4 109.3 204.6 110.4 204.2 111.5 203.2 112.6 204.1 113.7 205.0 114.8 206.9 115.9 207.0 117.0 208.1 118.1 208.3 119.2 209.1 120.3 209.2 121.4 210.2 122.5 209.4 123.6 209.2 124.7 209.4 125.8 210.0 126.9 208.8 128.0 208.1 129.1 207.6 130.2 207.5 131.3 206.4 132.4 206.2 133.5 204.9 134.6 204.5 135.7 204.1 136.8 204.5 137.9 203.9 139.0 204.4 140.1 204.1 141.2 204.3 142.3 204.1 143.4 204.4 144.5 204.0 145.6 204.3 146.7 203.8 147.8 203.8 148.9 203.5 150.0 205.4 151.1 206.5 152.2 207.5 153.3 206.9 154.4 206.2 155.5 204.0 156.6 204.3 157.7 205.5 158.8 207.2 159.9 208.5 161.0 207.8 162.1 205.3 163.2 203.9 164.3 203.7 165.4 204.8 166.5 206.1 167.6 207.9 168.7 207.9 169.8 208.3 170.9 207.6 172.0 207.9 173.1 208.0 174.2 209.2 175.3 210.0 176.4 211.8 177.5 210.5 178.6 209.6 179.7 207.4 180.8 207.3 181.9 206.3 183.0 205.8 184.1 204.9 185.2 205.7 186.3 205.7 187.4 205.2 188.5 205.0 189.6 206.8 190.7 207.4 191.8 208.8 192.9 208.4 194.0 208.5 195.1 208.4 196.2 209.4 197.3 209.3 198.4 209.3 199.5 208.7 200.6 209.7 201.7 209.5 202.8 209.2 203.9 208.3 205.0 208.1 206.1 207.1 207.2 207.1 208.3 206.5 209.4 206.7 210.5 205.8 211.6 205.6 212.7 204.9 213.8 205.5 214.9 205.0 216.0 204.9 217.1 204.0 218.2 204.1 219.3 203.4 220.4 203.7 221.5 203.5 222.6 203.8 223.7 203.2 224.8 203.0 225.9 201.8 227.0 201.2 228.1 201.1 229.2 201.9 230.3 201.8 231.4 202.1 232.5 202.3 233.6 203.3 234.7 203.2 235.8 203.4 236.9 203.0 238.0 203.1 239.1 202.4 240.2 202.6 241.3 202.0 242.4 202.1 243.5 201.6 244.6 201.3 245.7 200.1 246.8 201.3 247.9 201.8 249.0 202.3 250.1 201.7 251.2 201.2 252.3 200.0 253.4 198.9 254.5 197.6 255.6 198.4 256.7 199.7 257.8 202.3 258.9 203.7 260.0 202.3 261.1 200.6 262.2 199.4 263.3 199.8 264.4 201.1 265.5 201.3 266.6 201.5 267.7 199.5 268.8 198.6 269.9 198.0 271.0 198.8 272.1 198.9 273.2 199.8 274.3 200.2 275.4 201.3 276.5 202.9 277.6 205.0 278.7 206.1 279.8 206.7 280.9 205.9 282.0 205.2 283.1 203.3 284.2 202.4 285.3 203.1 286.4 204.4 287.5 205.2 288.6 206.1 289.7 205.7 290.8 203.1 291.9 200.9 293.0 200.7 294.1 200.4 295.2 200.6 296.3 200.4 297.4 200.7 298.5 200.4 299.6 200.8 300.7 201.1 301.8 201.8 302.9 201.8 304.0 202.0 305.1 201.3 306.2 201.2 307.3 200.3 308.4 200.1 309.5 199.4 310.6 200.3 311.7 202.2 312.8 203.8 313.9 204.2 315.0 204.7 316.1 203.7 317.2 202.0 318.3 200.7 319.4 200.2 320.5 199.5 321.6 199.4 322.7 198.9 323.8 198.7 324.9 198.6 326.0 199.2 327.1 199.5 328.2 200.3 329.3 199.0 330.4 198.5 331.5 198.0 332.6 198.3 333.7 198.0 334.8 198.3 335.9 197.9 337.0 198.3 338.1 198.1 339.2 198.4 340.3 198.0 341.4 198.3 342.5 197.2 343.6 196.8 344.7 195.4 345.8 195.2 346.9 195.6 348.0 196.3 349.1 196.4 350.2 197.1 351.3 197.4 352.4 198.5 353.5 199.4 354.6 199.8 355.7 198.3 356.8 197.6 357.9 196.1 359.0 196.0 360.1 195.2 361.2 196.0 362.3 196.8 363.4 199.2 364.5 199.8 365.6 199.7 366.7 198.9 367.8 198.5 368.9 197.7 370.0 198.4 371.1 200.1 372.2 202.9 373.3 203.3 374.4 204.3 375.5 202.7 376.6 201.9 377.7 200.4 378.8 201.1 379.9 201.1 381.0 201.1 382.1 199.7 383.2 199.2 384.3 198.3 385.4 199.9 386.5 200.8 387.6 202.4 388.7 202.9 389.8 203.7 390.9 203.6 392.0 203.7 393.1 203.2 394.2 203.5 395.3 203.0 396.4 203.4 397.5 203.3 398.6 203.6 399.7 202.6 400.8 202.0 401.9 200.7 403.0 200.5 404.1 200.2 405.2 200.5 406.3 200.1 407.4 200.2 408.5 199.4 409.6 199.5 410.7 198.6 411.8 198.5 412.9 197.7 414.0 197.6 415.1 196.9 416.2 197.5 417.3 197.8 418.4 200.4 419.5 200.5 420.6 201.1 421.7 201.5 422.8 202.6 423.9 202.6 425.0 203.7 426.1 203.6 427.2 203.9 428.3 203.6 429.4 203.8 430.5 203.5 431.6 203.9 432.7 203.4 433.8 203.9 434.9 203.3 436.0 202.8 437.1 201.7 438.2 201.2 439.3 200.0 440.4 200.6 441.5 200.2 442.6 200.7 443.7 200.7 444.8 200.4 445.9 198.0 447.0 196.2 448.1 194.7 449.2 195.3 450.3 196.4 451.4 198.2 452.5 199.0 453.6 200.4 454.7 199.2 455.8 198.7 456.9 197.6 458.0 197.4 459.1 197.2 460.2 198.2 461.3 199.4 462.4 201.1 463.5 201.7 464.6 203.0 465.7 203.6 466.8 204.7 467.9 204.4 469.0 203.5 470.1 201.7 471.2 200.0" stroke="#ff1c1c" stroke-width="1.05" fill="none" stroke-linejoin="round"/>
<rect x="34.46" y="174.36" width="460.02" height="67.09" fill="none" class="sp"/>
<line x1="32.56" y1="186.2" x2="34.46" y2="186.2" class="tk"/>
<text x="31.3" y="188.6" class="tl" text-anchor="end" letter-spacing="0.3">20</text>
<line x1="32.56" y1="204.4" x2="34.46" y2="204.4" class="tk"/>
<text x="31.3" y="206.8" class="tl" text-anchor="end" letter-spacing="0.3">0</text>
<line x1="32.56" y1="222.6" x2="34.46" y2="222.6" class="tk"/>
<text x="31.3" y="225" class="tl" text-anchor="end" letter-spacing="0.3">20</text>
<line x1="18.18" y1="222.6" x2="22.38" y2="222.6" stroke="#262626" stroke-width="0.62"/>
<line x1="32.56" y1="240.8" x2="34.46" y2="240.8" class="tk"/>
<text x="31.3" y="243.2" class="tl" text-anchor="end" letter-spacing="0.3">40</text>
<line x1="18.18" y1="240.8" x2="22.38" y2="240.8" stroke="#262626" stroke-width="0.62"/>
<line x1="53.45" y1="241.45" x2="53.45" y2="243.35" class="tk"/>
<line x1="117.37" y1="241.45" x2="117.37" y2="243.35" class="tk"/>
<line x1="190.41" y1="241.45" x2="190.41" y2="243.35" class="tk"/>
<line x1="254.33" y1="241.45" x2="254.33" y2="243.35" class="tk"/>
<line x1="331.94" y1="241.45" x2="331.94" y2="243.35" class="tk"/>
<line x1="395.86" y1="241.45" x2="395.86" y2="243.35" class="tk"/>
<line x1="473.47" y1="241.45" x2="473.47" y2="243.35" class="tk"/>
<text x="264.47" y="171.46" class="tt" text-anchor="middle" textLength="42.8" lengthAdjust="spacingAndGlyphs">SAC 60.0 m</text>
<text x="356.6" y="181.26" class="tt" textLength="57.3" lengthAdjust="spacingAndGlyphs">0.05±7.76 ppm</text>
<text x="43.7" y="184.36" class="pl">(c)</text>
<text transform="translate(13.8,207.91) rotate(-90)" class="yl" text-anchor="middle">CO<tspan font-size="5" dy="1.3">2</tspan><tspan dy="-1.3"> [ppm]</tspan></text>
<line x1="53.45" y1="254.78" x2="53.45" y2="321.93" class="gr"/>
<line x1="117.37" y1="254.78" x2="117.37" y2="321.93" class="gr"/>
<line x1="190.41" y1="254.78" x2="190.41" y2="321.93" class="gr"/>
<line x1="254.33" y1="254.78" x2="254.33" y2="321.93" class="gr"/>
<line x1="331.94" y1="254.78" x2="331.94" y2="321.93" class="gr"/>
<line x1="395.86" y1="254.78" x2="395.86" y2="321.93" class="gr"/>
<line x1="473.47" y1="254.78" x2="473.47" y2="321.93" class="gr"/>
<line x1="34.46" y1="266.07" x2="494.48" y2="266.07" class="gr"/>
<line x1="34.46" y1="297.03" x2="494.48" y2="297.03" class="gr"/>
<line x1="34.46" y1="312.5" x2="494.48" y2="312.5" class="gr"/>
<clipPath id="c3"><rect x="34.46" y="254.78" width="460.02" height="67.15"/></clipPath>
<line x1="34.46" y1="281.55" x2="494.48" y2="281.55" stroke="#333" stroke-width="1.1"/>
<path clip-path="url(#c3)" d="M54.4 288.7h0M54.6 285.1h0M54.9 288.6h0M55.1 288.3h0M55.3 289.6h0M55.5 291.3h0M55.7 297.6h0M55.8 296.4h0M56.0 300.7h0M56.2 302.4h0M56.3 301.1h0M56.6 297.6h0M56.7 291.2h0M57.0 289.5h0M57.1 287.2h0M57.3 288.5h0M57.5 288.1h0M57.7 287.1h0M57.9 286.0h0M58.1 289.0h0M58.3 283.7h0M58.5 287.4h0M58.7 287.5h0M58.8 287.7h0M59.1 285.9h0M59.3 283.3h0M59.5 282.9h0M59.6 281.9h0M59.9 282.1h0M59.9 281.9h0M60.3 281.5h0M60.4 281.8h0M60.6 284.4h0M60.8 285.3h0M60.9 284.8h0M61.1 282.9h0M61.4 283.4h0M61.5 285.7h0M61.8 287.5h0M61.9 291.0h0M62.1 291.9h0M62.3 293.0h0M62.4 289.2h0M62.7 280.8h0M62.8 282.9h0M63.0 283.8h0M63.2 287.5h0M63.5 287.4h0M63.7 282.4h0M63.9 292.3h0M64.0 289.9h0M64.2 289.0h0M64.4 288.3h0M64.6 294.0h0M64.7 283.5h0M64.9 289.6h0M65.1 285.2h0M65.3 287.6h0M65.5 289.6h0M65.7 284.8h0M65.9 286.8h0M66.0 287.1h0M66.3 280.8h0M66.5 280.7h0M66.7 280.5h0M66.8 279.6h0M67.1 289.6h0M67.2 275.8h0M67.5 282.2h0M67.6 285.9h0M67.9 287.6h0M68.0 288.7h0M68.2 294.2h0M68.4 290.4h0M68.5 292.7h0M68.8 293.8h0M69.0 296.7h0M69.1 296.5h0M69.4 295.7h0M69.5 298.2h0M69.8 293.0h0M69.9 297.7h0M70.2 296.4h0M70.2 294.5h0M70.5 296.7h0M70.7 295.4h0M70.9 294.1h0M71.1 294.0h0M71.2 291.3h0M71.4 294.0h0M71.6 287.3h0M71.8 295.5h0M72.0 297.4h0M72.2 294.7h0M72.4 300.3h0M72.6 298.8h0M72.8 295.6h0M73.0 302.2h0M73.2 293.4h0M73.3 292.7h0M73.5 293.7h0M73.8 292.3h0M73.9 292.4h0M74.1 290.9h0M74.3 292.9h0M74.4 293.5h0M74.7 290.6h0M74.8 294.0h0M75.1 285.3h0M75.2 284.9h0M75.4 292.8h0M75.6 291.9h0M75.8 290.7h0M76.1 289.4h0M76.1 290.0h0M76.4 298.4h0M76.5 293.4h0M76.7 292.5h0M77.0 289.9h0M77.2 291.4h0M77.4 292.0h0M77.4 292.8h0M77.7 289.7h0M78.0 282.6h0M78.1 279.6h0M78.2 273.4h0M78.4 273.7h0M78.7 281.8h0M78.8 287.5h0M79.0 289.5h0M79.3 289.5h0M79.5 289.1h0M79.6 290.8h0M79.9 288.3h0M80.0 291.1h0M80.1 290.6h0M80.3 298.0h0M80.5 293.9h0M80.8 296.9h0M80.9 286.8h0M81.2 291.0h0M81.3 286.7h0M81.6 289.5h0M81.7 286.6h0M81.9 288.0h0M82.1 284.8h0M82.2 279.8h0M82.5 280.2h0M82.7 284.0h0M82.8 281.2h0M83.1 288.2h0M83.3 289.5h0M83.5 287.5h0M83.6 290.5h0M83.8 290.3h0M84.0 290.6h0M84.1 290.9h0M84.3 289.6h0M84.5 287.3h0M84.8 288.5h0M85.0 292.5h0M85.2 290.4h0M85.2 293.7h0M85.6 298.1h0M85.7 298.2h0M85.9 294.4h0M86.1 289.8h0M86.3 291.4h0M86.4 291.6h0M86.7 287.5h0M86.9 289.3h0M87.0 292.8h0M87.2 291.7h0M87.4 288.7h0M87.6 292.8h0M87.8 289.1h0M88.0 285.4h0M88.2 290.3h0M88.4 290.1h0M88.6 290.8h0M88.7 289.6h0M88.9 292.1h0M89.1 292.5h0M89.4 289.9h0M89.5 294.4h0M89.7 290.5h0M89.9 297.3h0M90.1 291.1h0M90.3 290.2h0M90.4 289.5h0M90.7 287.6h0M90.8 291.8h0M91.0 291.5h0M91.3 292.3h0M91.3 291.8h0M91.6 291.7h0M91.8 293.2h0M91.9 292.0h0M92.2 293.5h0M92.3 292.3h0M92.5 301.9h0M92.8 302.7h0M93.0 304.1h0M93.1 297.0h0M93.4 296.0h0M93.5 290.2h0M93.8 291.3h0M93.8 292.8h0M94.1 288.4h0M94.2 290.3h0M94.4 289.4h0M94.6 293.5h0M94.8 295.3h0M95.1 295.4h0M95.2 294.3h0M95.3 293.5h0M95.6 297.7h0M95.8 296.0h0M95.9 299.1h0M96.1 300.4h0M96.4 297.5h0M96.5 294.1h0M96.7 292.4h0M96.9 292.8h0M97.1 292.2h0M97.3 288.1h0M97.5 290.0h0M97.7 288.1h0M97.9 287.0h0M98.0 281.9h0M98.3 282.3h0M98.5 280.8h0M98.7 282.4h0M98.8 286.9h0M99.0 287.5h0M99.2 292.3h0M99.4 289.3h0M99.6 292.6h0M99.8 290.7h0M99.9 292.8h0M100.1 299.9h0M100.4 296.7h0M100.5 298.6h0M100.7 294.3h0M100.9 290.6h0M101.0 291.3h0M101.3 290.2h0M101.4 291.7h0M101.6 287.7h0M101.8 288.2h0M102.0 287.3h0M102.3 285.9h0M102.4 277.7h0M102.7 283.6h0M102.8 286.6h0M103.0 285.1h0M103.2 289.0h0M103.4 286.6h0M103.6 286.5h0M103.8 291.6h0M104.0 295.1h0M104.1 291.1h0M104.3 292.5h0M104.6 289.2h0M104.7 287.1h0M105.0 287.4h0M105.1 286.1h0M105.3 286.9h0M105.4 284.7h0M105.6 281.9h0M105.9 281.9h0M106.0 280.8h0M106.3 282.6h0M106.4 278.2h0M106.7 287.2h0M106.8 279.8h0M107.0 283.4h0M107.2 283.1h0M107.4 284.4h0M107.6 285.4h0M107.8 286.8h0M107.9 283.1h0M108.1 286.5h0M108.3 281.0h0M108.6 281.9h0M108.6 281.8h0M108.9 281.0h0M109.1 283.4h0M109.3 283.5h0M109.4 282.5h0M109.6 287.9h0M109.8 290.0h0M110.0 298.6h0M110.2 298.3h0M110.4 292.8h0M110.5 289.1h0M110.8 289.6h0M110.9 281.5h0M111.2 282.3h0M111.4 283.1h0M111.6 283.3h0M111.7 282.4h0M111.9 282.3h0M112.2 280.7h0M112.4 277.8h0M112.6 277.2h0M112.7 277.0h0M112.9 285.7h0M113.1 287.9h0M113.3 283.9h0M113.5 285.8h0M113.6 283.7h0M113.9 283.2h0M114.0 282.8h0M114.3 277.8h0M114.4 279.3h0M114.6 274.0h0M114.7 274.7h0M115.0 279.3h0M115.2 280.4h0M115.4 284.2h0M115.6 286.2h0M115.7 286.3h0M115.9 285.4h0M116.1 285.9h0M116.3 287.1h0M116.6 288.8h0M116.6 287.0h0M117.0 290.0h0M117.0 293.9h0M117.3 286.5h0M117.4 277.1h0M117.6 276.7h0M117.8 278.5h0M118.1 282.0h0M118.2 282.5h0M118.5 283.4h0M118.6 284.2h0M118.8 283.7h0M118.9 282.5h0M119.1 283.9h0M119.4 287.6h0M119.5 289.6h0M119.7 294.7h0M120.0 290.5h0M120.1 288.6h0M120.4 286.8h0M120.5 282.3h0M120.7 283.7h0M120.9 284.1h0M121.1 282.3h0M121.3 281.0h0M121.5 280.2h0M121.6 281.3h0M121.8 279.3h0M122.0 283.8h0M122.2 281.3h0M122.4 282.2h0M122.6 282.8h0M122.8 281.8h0M123.0 283.6h0M123.1 285.6h0M123.3 285.3h0M123.6 286.1h0M123.8 284.2h0M124.0 287.0h0M124.1 287.1h0M124.2 281.8h0M124.6 283.8h0M124.7 282.0h0M124.9 281.7h0M125.0 281.1h0M125.2 283.1h0M125.4 279.3h0M125.7 278.7h0M125.8 277.8h0M126.0 275.0h0M126.3 279.3h0M126.5 281.1h0M126.6 285.7h0M126.8 288.9h0M127.0 290.4h0M127.1 285.3h0M127.4 285.0h0M127.5 285.7h0M127.8 282.6h0M127.9 283.4h0M128.2 283.4h0M128.3 281.9h0M128.5 282.7h0M128.7 282.5h0M128.9 281.8h0M129.0 278.0h0M129.2 279.7h0M129.4 281.8h0M129.6 283.8h0M129.8 281.9h0M130.1 282.8h0M130.2 282.6h0M130.3 282.9h0M130.6 282.4h0M130.7 283.2h0M131.0 285.1h0M131.2 282.4h0M131.4 284.3h0M131.5 288.2h0M131.7 290.8h0M131.9 292.5h0M132.0 289.8h0M132.4 285.1h0M132.5 284.5h0M132.7 282.6h0M132.9 282.3h0M133.0 283.5h0M133.3 281.1h0M133.4 282.2h0M133.6 281.8h0M133.8 280.9h0M134.0 281.0h0M134.2 281.6h0M134.3 281.2h0M134.5 282.1h0M134.7 282.5h0M135.0 285.7h0M135.2 283.1h0M135.4 283.9h0M135.6 284.8h0M135.7 284.9h0M135.9 285.5h0M136.1 286.9h0M136.3 284.5h0M136.5 282.4h0M136.7 275.3h0M136.9 279.1h0M137.1 277.2h0M137.2 282.4h0M137.5 285.5h0M137.7 285.6h0M137.8 285.4h0M138.0 284.6h0M138.2 285.3h0M138.3 286.1h0M138.6 284.7h0M138.8 287.2h0M139.0 285.5h0M139.1 288.1h0M139.4 287.5h0M139.5 285.4h0M139.7 286.2h0M139.9 285.9h0M140.1 285.2h0M140.2 280.3h0M140.5 282.7h0M140.6 277.6h0M140.9 280.5h0M141.1 281.6h0M141.2 279.9h0M141.5 284.9h0M141.6 282.3h0M141.8 282.8h0M142.0 283.6h0M142.3 284.6h0M142.5 286.5h0M142.5 289.0h0M142.8 295.9h0M143.0 297.4h0M143.1 295.4h0M143.3 289.5h0M143.5 286.3h0M143.7 284.6h0M143.9 280.7h0M144.0 282.9h0M144.3 284.1h0M144.5 281.1h0M144.7 280.6h0M144.9 285.3h0M145.1 285.3h0M145.2 283.3h0M145.5 280.8h0M145.6 278.9h0M145.9 276.9h0M146.0 281.1h0M146.1 278.9h0M146.3 283.4h0M146.6 280.2h0M146.7 281.7h0M146.9 283.1h0M147.1 282.7h0M147.3 283.5h0M147.5 284.1h0M147.8 284.1h0M148.0 285.5h0M148.1 288.3h0M148.2 286.5h0M148.5 286.8h0M148.6 286.5h0M148.9 284.0h0M149.0 285.0h0M149.2 283.1h0M149.4 283.6h0M149.7 283.3h0M149.8 282.4h0M150.0 283.7h0M150.1 280.9h0M150.3 282.2h0M150.6 283.8h0M150.8 283.7h0M151.0 282.8h0M151.1 286.8h0M151.4 288.5h0M151.6 283.7h0M151.7 284.2h0M152.0 282.4h0M152.1 283.0h0M152.3 282.7h0M152.5 280.4h0M152.6 283.0h0M152.9 284.3h0M153.0 281.2h0M153.2 281.2h0M153.3 281.4h0M153.6 281.9h0M153.8 280.0h0M154.1 281.8h0M154.1 281.7h0M154.3 282.9h0M154.5 282.4h0M154.8 283.6h0M154.9 282.3h0M155.1 283.0h0M155.3 281.8h0M155.5 282.7h0M155.7 283.0h0M155.8 283.3h0M156.1 286.9h0M156.2 286.2h0M156.4 282.5h0M156.6 284.8h0M156.8 282.2h0M157.0 280.5h0M157.2 281.6h0M157.4 280.2h0M157.6 283.6h0M157.8 281.3h0M157.9 281.3h0M158.2 279.2h0M158.4 279.3h0M158.5 282.5h0M158.7 281.9h0M159.0 281.6h0M159.1 283.4h0M159.3 281.9h0M159.6 281.5h0M159.6 277.7h0M159.9 280.0h0M160.0 281.2h0M160.2 280.1h0M160.5 280.7h0M160.7 283.7h0M160.8 280.3h0M161.0 281.5h0M161.2 282.6h0M161.4 282.9h0M161.6 281.6h0M161.8 285.5h0M161.9 286.9h0M162.2 287.3h0M162.4 286.5h0M162.6 283.9h0M162.8 281.0h0M162.9 282.2h0M163.1 284.4h0M163.3 284.4h0M163.5 283.1h0M163.7 283.4h0M163.9 284.9h0M164.0 283.9h0M164.3 283.6h0M164.4 282.7h0M164.7 282.3h0M164.8 281.5h0M165.0 280.6h0M165.1 278.4h0M165.4 275.8h0M165.6 280.2h0M165.7 280.2h0M165.9 281.0h0M166.1 283.1h0M166.3 283.6h0M166.5 282.4h0M166.7 283.8h0M167.0 282.9h0M167.1 284.0h0M167.4 283.5h0M167.5 285.8h0M167.7 284.6h0M167.9 288.6h0M168.1 285.6h0M168.3 285.0h0M168.5 281.8h0M168.6 281.4h0M168.8 282.6h0M168.9 282.4h0M169.2 281.0h0M169.4 283.5h0M169.6 282.0h0M169.7 283.6h0M170.0 280.7h0M170.1 277.3h0M170.3 282.7h0M170.6 281.9h0M170.8 283.2h0M170.9 286.2h0M171.1 284.2h0M171.3 284.4h0M171.5 284.0h0M171.7 283.8h0M171.9 286.0h0M172.1 286.4h0M172.2 282.8h0M172.4 282.4h0M172.6 283.9h0M172.7 281.2h0M173.1 282.6h0M173.1 284.0h0M173.3 282.9h0M173.5 283.4h0M173.8 285.3h0M174.0 285.9h0M174.1 290.4h0M174.4 293.5h0M174.5 295.2h0M174.8 289.4h0M174.8 289.4h0M175.0 283.4h0M175.4 282.9h0M175.5 282.2h0M175.6 283.2h0M175.9 281.7h0M176.1 281.6h0M176.3 281.5h0M176.4 279.1h0M176.7 278.0h0M176.8 281.3h0M177.0 284.8h0M177.2 283.8h0M177.4 284.7h0M177.6 282.1h0M177.8 288.1h0M177.9 287.6h0M178.2 287.3h0M178.3 287.3h0M178.6 285.8h0M178.7 282.6h0M178.9 281.3h0M179.1 281.2h0M179.2 280.9h0M179.5 283.4h0M179.7 281.3h0M179.9 277.9h0M180.0 276.6h0M180.3 281.0h0M180.5 277.6h0M180.5 277.7h0M180.8 281.6h0M180.9 281.8h0M181.2 278.4h0M181.3 288.6h0M181.5 286.9h0M181.7 283.4h0M182.0 281.6h0M182.2 280.3h0M182.4 280.0h0M182.5 279.4h0M182.7 281.4h0M183.0 282.3h0M183.0 281.4h0M183.2 276.9h0M183.4 278.7h0M183.7 273.2h0M183.9 278.3h0M184.1 280.5h0M184.3 279.2h0M184.4 279.6h0M184.6 279.5h0M184.7 279.8h0M184.9 279.9h0M185.2 279.8h0M185.3 282.0h0M185.5 283.2h0M185.7 286.6h0M185.9 281.3h0M186.1 279.2h0M186.4 282.2h0M186.6 282.0h0M186.7 284.5h0M186.9 285.9h0M187.2 283.5h0M187.3 281.7h0M187.4 279.8h0M187.7 281.4h0M187.9 280.4h0M188.0 281.4h0M188.2 281.5h0M188.4 280.3h0M188.6 280.8h0M188.7 282.0h0M189.0 277.2h0M189.2 282.2h0M189.4 282.0h0M189.6 281.1h0M189.8 282.7h0M189.9 282.3h0M190.1 282.8h0M190.4 283.9h0M190.5 274.6h0M190.6 278.8h0M190.9 279.3h0M191.1 280.8h0M191.3 284.6h0M191.5 284.8h0M191.6 285.8h0M191.8 286.1h0M192.1 283.7h0M192.2 284.0h0M192.5 288.2h0M192.7 288.9h0M192.7 286.9h0M193.0 289.9h0M193.2 285.9h0M193.3 285.1h0M193.6 288.6h0M193.7 284.4h0M193.9 284.4h0M194.2 284.6h0M194.4 284.5h0M194.5 282.3h0M194.6 281.8h0M194.8 276.0h0M195.1 285.4h0M195.2 281.1h0M195.4 282.7h0M195.7 281.6h0M195.9 286.1h0M196.0 284.1h0M196.2 282.8h0M196.3 284.3h0M196.6 283.5h0M196.8 285.1h0M197.0 285.2h0M197.2 286.1h0M197.4 286.7h0M197.6 290.8h0M197.7 286.0h0M198.0 284.0h0M198.2 286.7h0M198.3 286.4h0M198.4 285.8h0M198.7 283.8h0M198.9 284.1h0M199.1 285.4h0M199.3 283.5h0M199.4 282.5h0M199.6 283.8h0M199.8 284.6h0M200.0 282.4h0M200.2 281.6h0M200.3 283.4h0M200.5 282.0h0M200.8 280.6h0M200.9 281.6h0M201.1 282.9h0M201.3 281.3h0M201.5 280.7h0M201.8 283.0h0M202.0 283.1h0M202.2 281.4h0M202.3 281.5h0M202.4 282.8h0M202.7 282.1h0M202.9 283.3h0M203.0 282.8h0M203.3 284.0h0M203.5 287.8h0M203.7 283.1h0M203.9 282.8h0M204.1 282.4h0M204.3 280.3h0M204.4 276.7h0M204.6 275.6h0M204.7 275.8h0M204.9 280.9h0M205.2 277.4h0M205.4 280.8h0M205.5 281.5h0M205.7 281.0h0M205.9 283.4h0M206.1 283.2h0M206.3 281.2h0M206.5 284.7h0M206.7 282.5h0M206.9 285.3h0M207.1 288.6h0M207.3 282.1h0M207.5 283.3h0M207.7 281.1h0M207.8 284.1h0M208.0 285.2h0M208.2 281.6h0M208.4 281.5h0M208.5 280.9h0M208.8 283.6h0M209.0 287.0h0M209.1 283.9h0M209.4 286.5h0M209.5 287.1h0M209.7 283.7h0M209.9 284.9h0M210.1 283.3h0M210.3 285.6h0M210.5 283.3h0M210.7 286.1h0M210.8 280.3h0M211.1 276.6h0M211.2 277.8h0M211.4 273.8h0M211.7 279.3h0M211.8 282.8h0M212.1 283.0h0M212.2 286.3h0M212.3 285.8h0M212.6 284.5h0M212.8 285.4h0M213.0 284.0h0M213.2 285.6h0M213.4 284.6h0M213.6 284.2h0M213.8 283.3h0M214.0 284.4h0M214.1 284.5h0M214.3 282.4h0M214.5 279.5h0M214.6 281.7h0M214.9 285.9h0M215.0 281.8h0M215.2 284.5h0M215.4 285.1h0M215.7 282.5h0M215.9 283.4h0M216.0 285.2h0M216.2 284.7h0M216.4 287.1h0M216.6 291.4h0M216.7 289.2h0M217.0 289.2h0M217.1 287.6h0M217.3 286.2h0M217.5 284.6h0M217.6 284.5h0M217.9 286.1h0M218.1 286.4h0M218.2 288.9h0M218.5 290.7h0M218.7 289.0h0M218.8 287.9h0M219.1 287.0h0M219.2 282.9h0M219.4 284.4h0M219.7 283.8h0M219.9 282.5h0M220.0 281.1h0M220.2 280.1h0M220.4 280.4h0M220.5 275.6h0M220.7 274.3h0M220.9 276.9h0M221.1 276.2h0M221.4 279.9h0M221.5 281.3h0M221.7 278.3h0M221.9 282.6h0M222.1 282.2h0M222.2 281.7h0M222.4 281.1h0M222.6 280.6h0M222.9 281.9h0M223.0 284.2h0M223.3 284.4h0M223.4 284.4h0M223.6 284.8h0M223.8 283.2h0M224.1 282.2h0M224.1 282.6h0M224.3 283.7h0M224.6 280.8h0M224.7 281.1h0M225.0 279.7h0M225.2 280.8h0M225.4 278.1h0M225.6 281.8h0M225.6 276.6h0M225.9 281.8h0M226.1 278.7h0M226.3 281.5h0M226.4 282.0h0M226.6 283.4h0M226.9 280.7h0M227.0 289.3h0M227.2 293.0h0M227.4 294.9h0M227.6 294.1h0M227.8 287.3h0M227.9 283.8h0M228.2 282.1h0M228.3 283.3h0M228.5 281.2h0M228.7 280.0h0M229.0 281.1h0M229.2 279.9h0M229.3 275.9h0M229.5 279.3h0M229.7 277.7h0M229.8 279.9h0M230.1 280.5h0M230.3 279.0h0M230.4 280.9h0M230.6 281.4h0M230.8 284.6h0M231.0 282.3h0M231.2 285.4h0M231.5 287.4h0M231.6 278.4h0M231.8 279.5h0M232.0 284.6h0M232.1 283.1h0M232.3 284.5h0M232.5 282.8h0M232.8 284.7h0M232.9 285.9h0M233.1 284.0h0M233.4 283.4h0M233.5 285.7h0M233.6 287.9h0M233.9 284.6h0M234.1 286.0h0M234.2 281.8h0M234.5 282.2h0M234.6 281.9h0M234.8 283.0h0M235.1 283.3h0M235.2 281.8h0M235.4 279.3h0M235.6 279.7h0M235.8 277.8h0M236.0 278.9h0M236.2 283.9h0M236.3 284.4h0M236.5 280.4h0M236.7 280.6h0M237.0 276.0h0M237.2 274.5h0M237.4 276.3h0M237.5 278.8h0M237.8 280.3h0M237.9 280.3h0M238.0 284.5h0M238.2 281.1h0M238.5 282.6h0M238.6 281.5h0M238.8 282.2h0M238.9 281.6h0M239.2 285.1h0M239.4 285.7h0M239.5 284.0h0M239.7 284.2h0M239.9 283.3h0M240.2 281.9h0M240.4 283.3h0M240.5 281.6h0M240.8 280.5h0M240.8 278.2h0M241.0 282.4h0M241.3 282.1h0M241.6 283.5h0M241.7 281.1h0M241.9 284.7h0M242.1 282.1h0M242.2 284.6h0M242.5 281.3h0M242.6 282.2h0M242.8 283.2h0M243.0 283.5h0M243.2 282.4h0M243.4 281.6h0M243.6 281.5h0M243.8 279.8h0M244.0 280.7h0M244.1 280.6h0M244.4 276.5h0M244.6 276.6h0M244.7 277.6h0M244.8 274.5h0M245.2 273.6h0M245.3 279.6h0M245.5 279.2h0M245.7 280.6h0M245.9 277.5h0M246.0 275.5h0M246.2 276.2h0M246.4 275.9h0M246.6 277.9h0M246.7 276.3h0M247.0 278.5h0M247.2 279.0h0M247.3 275.9h0M247.5 280.3h0M247.8 280.2h0M247.9 281.7h0M248.1 282.6h0M248.3 282.4h0M248.5 288.5h0M248.8 289.7h0M248.8 286.6h0M249.1 284.5h0M249.3 280.8h0M249.5 278.9h0M249.7 281.5h0M249.9 287.7h0M250.0 282.9h0M250.2 281.2h0M250.4 280.3h0M250.7 278.2h0M250.8 281.0h0M251.0 280.8h0M251.2 280.1h0M251.3 280.2h0M251.6 279.7h0M251.8 276.1h0M252.0 277.8h0M252.1 277.8h0M252.4 283.3h0M252.5 280.3h0M252.7 281.3h0M252.9 280.3h0M253.1 281.6h0M253.3 279.5h0M253.5 281.0h0M253.7 282.2h0M253.9 284.0h0M254.0 286.7h0M254.2 287.3h0M254.5 281.1h0M254.6 282.5h0M254.8 279.6h0M254.9 273.7h0M255.1 273.9h0M255.3 274.6h0M255.6 276.3h0M255.8 280.9h0M255.9 280.7h0M256.1 279.9h0M256.3 279.8h0M256.5 282.6h0M256.8 280.9h0M256.9 280.0h0M257.1 281.0h0M257.3 283.1h0M257.5 284.3h0M257.7 283.8h0M257.9 281.4h0M258.0 282.3h0M258.3 280.9h0M258.4 280.3h0M258.6 278.9h0M258.9 280.5h0M259.0 281.7h0M259.1 285.7h0M259.3 283.4h0M259.6 278.3h0M259.8 283.1h0M260.0 282.0h0M260.1 279.5h0M260.3 280.4h0M260.6 279.7h0M260.7 279.9h0M260.9 278.6h0M261.0 275.8h0M261.3 273.6h0M261.5 269.7h0M261.7 268.1h0M261.9 272.6h0M262.1 271.2h0M262.3 274.5h0M262.5 278.0h0M262.7 278.9h0M262.7 278.7h0M263.0 278.5h0M263.1 278.8h0M263.4 280.1h0M263.6 278.4h0M263.8 279.6h0M263.9 279.1h0M264.1 277.4h0M264.4 280.6h0M264.5 284.2h0M264.7 279.7h0M264.8 280.5h0M265.1 280.4h0M265.2 279.1h0M265.5 280.0h0M265.6 278.7h0M265.9 277.4h0M266.0 279.6h0M266.3 275.4h0M266.5 275.3h0M266.6 274.0h0M266.8 273.8h0M267.0 276.8h0M267.2 279.3h0M267.3 277.9h0M267.6 279.5h0M267.8 279.5h0M268.0 279.2h0M268.1 284.0h0M268.3 280.9h0M268.6 279.8h0M268.7 281.1h0M268.8 278.7h0M269.1 278.5h0M269.3 280.1h0M269.4 281.4h0M269.6 280.6h0M269.9 277.2h0M270.0 275.4h0M270.2 272.8h0M270.4 276.4h0M270.7 277.9h0M270.7 277.4h0M271.0 279.1h0M271.2 280.3h0M271.4 277.8h0M271.6 281.4h0M271.7 279.9h0M271.9 279.8h0M272.2 277.8h0M272.3 282.4h0M272.6 281.0h0M272.7 280.8h0M272.8 278.8h0M273.0 277.3h0M273.3 277.4h0M273.4 280.1h0M273.6 276.2h0M273.9 272.7h0M273.9 270.3h0M274.2 278.0h0M274.3 278.5h0M274.5 278.9h0M274.9 279.3h0M275.0 278.4h0M275.2 276.6h0M275.4 276.7h0M275.5 277.2h0M275.7 279.7h0M275.9 281.0h0M276.1 280.5h0M276.3 275.3h0M276.4 279.5h0M276.7 277.9h0M276.8 277.0h0M277.1 276.4h0M277.2 275.1h0M277.4 275.8h0M277.6 274.8h0M277.9 274.4h0M278.0 271.3h0M278.3 275.5h0M278.4 277.0h0M278.6 272.8h0M278.8 275.7h0M278.9 275.9h0M279.2 277.0h0M279.3 273.6h0M279.5 276.2h0M279.7 274.7h0M279.9 277.9h0M280.1 280.5h0M280.2 279.7h0M280.5 281.7h0M280.6 279.6h0M280.9 276.8h0M281.1 276.1h0M281.2 277.6h0M281.4 277.6h0M281.6 277.7h0M281.8 277.5h0M282.1 275.3h0M282.2 273.6h0M282.4 269.5h0M282.6 275.6h0M282.8 277.6h0M283.0 277.8h0M283.2 276.8h0M283.3 278.6h0M283.6 279.1h0M283.8 279.0h0M284.0 278.2h0M284.2 278.9h0M284.2 281.2h0M284.5 286.2h0M284.7 288.6h0M284.8 281.9h0M285.0 281.6h0M285.3 280.5h0M285.5 278.4h0M285.6 277.6h0M285.7 279.6h0M286.0 279.6h0M286.3 278.0h0M286.3 275.1h0M286.5 278.0h0M286.7 271.2h0M286.9 271.4h0M287.1 269.9h0M287.4 273.8h0M287.5 275.7h0M287.7 275.0h0M287.9 275.8h0M288.1 277.9h0M288.3 280.2h0M288.5 277.4h0M288.6 278.2h0M288.8 280.1h0M289.0 279.1h0M289.2 280.0h0M289.4 280.4h0M289.7 278.9h0M289.8 279.1h0M289.9 277.9h0M290.2 278.1h0M290.3 278.4h0M290.5 279.3h0M290.8 277.4h0M290.9 275.6h0M291.1 276.8h0M291.3 277.2h0M291.5 276.8h0M291.6 280.7h0M291.9 281.3h0M292.1 283.6h0M292.3 283.3h0M292.4 280.8h0M292.6 283.6h0M292.9 277.5h0M293.0 278.4h0M293.2 277.4h0M293.4 277.5h0M293.6 277.0h0M293.9 276.4h0M294.1 275.4h0M294.1 272.7h0M294.3 277.3h0M294.5 275.2h0M294.8 275.9h0M294.9 270.8h0M295.1 274.5h0M295.3 274.5h0M295.4 275.9h0M295.8 277.2h0M295.9 277.3h0M296.0 274.6h0M296.3 274.6h0M296.4 274.5h0M296.7 273.8h0M296.8 271.0h0M297.0 272.5h0M297.3 269.3h0M297.4 271.2h0M297.7 271.7h0M297.8 279.2h0M297.9 278.2h0M298.1 276.1h0M298.3 278.8h0M298.5 277.6h0M298.8 276.0h0M299.0 277.7h0M299.1 278.2h0M299.4 281.2h0M299.5 282.3h0M299.7 281.1h0M299.8 279.8h0M300.1 274.3h0M300.3 272.5h0M300.5 269.3h0M300.7 270.1h0M300.9 270.0h0M301.0 273.3h0M301.3 273.9h0M301.4 275.8h0M301.6 275.3h0M301.7 276.7h0M302.0 276.3h0M302.2 278.9h0M302.4 279.1h0M302.6 278.6h0M302.7 278.8h0M303.0 279.5h0M303.1 275.4h0M303.3 279.0h0M303.5 278.2h0M303.6 278.6h0M303.9 275.4h0M304.1 277.3h0M304.2 276.2h0M304.4 274.9h0M304.6 274.5h0M304.9 276.4h0M305.1 274.4h0M305.3 276.7h0M305.3 277.8h0M305.6 278.9h0M305.8 280.8h0M305.9 284.5h0M306.2 286.5h0M306.4 284.8h0M306.5 283.0h0M306.7 280.3h0M307.0 277.7h0M307.1 276.4h0M307.3 278.1h0M307.6 277.8h0M307.8 277.3h0M307.8 274.5h0M308.0 275.4h0M308.2 272.3h0M308.5 273.0h0M308.6 271.4h0M308.8 276.0h0M309.0 274.8h0M309.2 280.5h0M309.5 280.4h0M309.6 276.1h0M309.8 274.6h0M310.0 276.0h0M310.2 275.3h0M310.4 274.7h0M310.5 275.0h0M310.7 277.8h0M311.0 277.1h0M311.1 279.9h0M311.4 280.6h0M311.5 281.0h0M311.7 283.1h0M311.9 284.5h0M312.1 283.4h0M312.3 287.2h0M312.4 292.2h0M312.6 287.8h0M312.8 285.6h0M313.0 286.6h0M313.2 281.1h0M313.3 281.7h0M313.7 280.4h0M313.7 281.1h0M313.9 281.5h0M314.2 281.1h0M314.4 277.8h0M314.6 279.0h0M314.8 274.4h0M315.0 269.5h0M315.2 276.6h0M315.3 273.4h0M315.4 277.9h0M315.6 277.9h0M315.9 282.0h0M316.0 279.2h0M316.3 280.1h0M316.4 278.9h0M316.7 280.2h0M316.8 282.4h0M317.0 285.9h0M317.2 284.9h0M317.5 284.9h0M317.6 282.6h0M317.7 279.0h0M318.0 279.2h0M318.2 275.9h0M318.3 280.2h0M318.5 277.0h0M318.6 275.0h0M319.0 268.7h0M319.1 271.7h0M319.3 272.2h0M319.5 277.6h0M319.7 274.7h0M319.8 276.4h0M320.1 278.9h0M320.2 278.0h0M320.4 276.4h0M320.7 276.9h0M320.7 277.6h0M321.0 277.8h0M321.2 278.0h0M321.4 274.5h0M321.5 278.5h0M321.8 278.3h0M322.0 277.5h0M322.2 278.4h0M322.4 276.7h0M322.5 276.0h0M322.7 277.8h0M322.9 273.6h0M323.1 275.6h0M323.4 273.8h0M323.5 275.2h0M323.7 276.5h0M323.9 277.2h0M324.0 275.1h0M324.2 276.6h0M324.5 276.7h0M324.6 280.0h0M324.9 280.7h0M325.1 276.0h0M325.1 278.9h0M325.4 277.2h0M325.6 275.2h0M325.7 276.4h0M325.9 274.3h0M326.1 275.0h0M326.3 276.0h0M326.5 275.3h0M326.6 275.7h0M326.8 271.9h0M327.1 274.2h0M327.3 274.9h0M327.5 271.5h0M327.6 273.0h0M327.9 272.1h0M328.1 272.6h0M328.3 274.3h0M328.4 274.2h0M328.7 275.1h0M328.9 276.1h0M329.0 274.8h0M329.2 274.7h0M329.4 277.4h0M329.6 275.7h0M329.7 279.5h0M329.9 282.5h0M330.1 282.4h0M330.3 277.8h0M330.6 278.5h0M330.7 275.8h0M330.9 276.5h0M331.0 277.4h0M331.3 276.8h0M331.5 276.2h0M331.6 276.4h0M331.8 277.2h0M332.1 277.7h0M332.2 277.4h0M332.5 279.9h0M332.7 272.4h0M332.8 275.7h0M333.0 274.7h0M333.1 276.7h0M333.4 277.8h0M333.5 277.0h0M333.7 279.4h0M333.9 280.7h0M334.1 279.2h0M334.3 279.7h0M334.6 281.5h0M334.7 280.8h0M334.9 284.1h0M335.0 282.7h0M335.3 281.3h0M335.5 280.9h0M335.6 280.7h0M335.8 282.3h0M336.0 281.4h0M336.2 278.8h0M336.5 282.2h0M336.7 283.6h0M336.8 283.0h0M337.0 285.3h0M337.1 283.5h0M337.3 281.3h0M337.6 281.2h0M337.7 282.2h0M337.9 280.1h0M338.1 280.9h0M338.2 280.9h0M338.5 277.6h0M338.7 276.4h0M338.8 273.8h0M339.1 276.0h0M339.3 276.2h0M339.4 276.9h0M339.7 279.3h0M339.8 279.7h0M339.9 278.4h0M340.2 278.1h0M340.4 280.4h0M340.7 280.0h0M340.8 280.8h0M340.9 281.7h0M341.2 279.9h0M341.3 277.2h0M341.6 274.4h0M341.7 270.2h0M341.9 271.6h0M342.2 274.8h0M342.4 278.4h0M342.5 278.0h0M342.7 279.2h0M342.9 279.7h0M343.0 277.9h0M343.2 279.7h0M343.4 281.1h0M343.7 282.2h0M343.9 283.3h0M344.0 282.3h0M344.2 285.8h0M344.4 280.7h0M344.5 281.4h0M344.8 282.0h0M345.0 278.5h0M345.2 277.4h0M345.3 279.5h0M345.5 280.3h0M345.7 284.3h0M345.9 284.3h0M346.1 281.3h0M346.3 281.3h0M346.5 281.7h0M346.6 279.1h0M346.9 279.3h0M347.1 279.6h0M347.2 280.0h0M347.5 279.5h0M347.6 279.2h0M347.8 280.9h0M347.9 276.7h0M348.2 276.2h0M348.3 277.1h0M348.6 279.7h0M348.8 279.2h0M348.9 279.9h0M349.1 280.6h0M349.3 280.2h0M349.6 278.9h0M349.7 279.1h0M349.9 280.7h0M350.1 281.0h0M350.3 279.7h0M350.5 280.5h0M350.6 280.0h0M350.9 279.7h0M351.1 277.5h0M351.3 270.7h0M351.5 271.7h0M351.7 272.9h0M351.8 276.3h0M352.0 277.0h0M352.2 277.7h0M352.3 279.6h0M352.5 278.2h0M352.8 280.2h0M353.0 276.8h0M353.2 278.6h0M353.3 281.0h0M353.6 281.1h0M353.7 281.2h0M354.0 280.1h0M354.1 278.4h0M354.3 280.7h0M354.6 280.8h0M354.7 276.4h0M354.9 278.2h0M355.1 280.5h0M355.2 278.8h0M355.4 285.7h0M355.6 284.9h0M355.7 283.4h0M356.0 279.2h0M356.1 282.0h0M356.4 280.2h0M356.5 278.5h0M356.8 278.0h0M356.9 277.8h0M357.1 279.0h0M357.4 274.3h0M357.5 269.4h0M357.8 265.2h0M357.9 265.9h0M358.2 266.2h0M358.2 271.2h0M358.5 275.8h0M358.6 277.6h0M358.8 277.5h0M359.1 278.0h0M359.3 277.4h0M359.4 276.6h0M359.6 276.2h0M359.8 277.9h0M360.0 275.8h0M360.3 277.9h0M360.4 277.8h0M360.6 276.5h0M360.8 273.6h0M361.0 274.0h0M361.1 270.0h0M361.4 269.8h0M361.6 276.1h0M361.8 276.1h0M362.0 278.4h0M362.2 278.5h0M362.3 278.1h0M362.5 279.6h0M362.7 278.7h0M362.9 278.6h0M363.1 281.4h0M363.3 283.0h0M363.5 283.5h0M363.6 281.4h0M363.8 282.2h0M364.0 281.8h0M364.2 282.4h0M364.3 282.6h0M364.6 282.0h0M364.8 283.0h0M364.9 281.8h0M365.2 279.1h0M365.3 272.6h0M365.5 267.9h0M365.7 263.0h0M365.9 268.7h0M366.2 276.7h0M366.3 279.5h0M366.5 282.6h0M366.7 280.6h0M366.8 282.4h0M367.1 281.0h0M367.3 281.4h0M367.5 284.7h0M367.6 282.8h0M367.9 282.5h0M368.0 288.0h0M368.2 283.5h0M368.3 285.1h0M368.5 284.8h0M368.7 285.5h0M369.0 279.1h0M369.1 282.7h0M369.4 281.3h0M369.5 278.7h0M369.7 277.1h0M369.9 279.9h0M370.1 280.2h0M370.4 275.9h0M370.4 279.4h0M370.6 276.5h0M370.8 277.5h0M371.1 274.8h0M371.3 278.2h0M371.4 276.9h0M371.6 279.2h0M371.7 280.1h0M372.0 279.5h0M372.1 279.6h0M372.4 280.2h0M372.5 281.6h0M372.7 281.1h0M373.0 284.7h0M373.2 281.1h0M373.3 280.4h0M373.5 280.6h0M373.7 282.3h0M373.8 280.3h0M374.0 282.4h0M374.2 283.0h0M374.4 281.2h0M374.7 286.5h0M374.9 284.7h0M375.0 281.5h0M375.2 280.4h0M375.5 280.9h0M375.6 280.1h0M375.8 280.7h0M376.0 280.7h0M376.2 279.9h0M376.3 277.5h0M376.5 277.5h0M376.8 274.1h0M377.0 271.1h0M377.1 271.9h0M377.3 274.8h0M377.5 278.0h0M377.7 279.2h0M377.8 279.5h0M378.1 280.5h0M378.2 276.1h0M378.5 277.4h0M378.6 275.8h0M378.8 278.2h0M379.1 277.0h0M379.2 276.0h0M379.4 278.2h0M379.6 279.0h0M379.8 279.6h0M380.0 278.8h0M380.2 277.5h0M380.4 280.0h0M380.5 278.9h0M380.7 280.8h0M380.9 285.4h0M381.1 282.9h0M381.3 284.2h0M381.5 282.9h0M381.7 280.9h0M381.8 280.8h0M382.1 278.6h0M382.3 275.9h0M382.5 278.4h0M382.7 278.2h0M382.9 279.3h0M383.1 279.2h0M383.2 279.5h0M383.4 280.8h0M383.6 281.4h0M383.9 281.9h0M384.0 285.5h0M384.1 284.3h0M384.4 281.6h0M384.5 282.2h0M384.8 280.2h0M384.9 278.2h0M385.1 281.5h0M385.3 280.2h0M385.5 280.8h0M385.7 280.1h0M385.9 277.1h0M386.1 277.0h0M386.3 274.9h0M386.5 274.7h0M386.7 278.3h0M386.8 280.4h0M386.9 280.0h0M387.3 281.1h0M387.4 280.2h0M387.6 280.4h0M387.7 280.9h0M387.9 282.3h0M388.2 285.6h0M388.3 288.3h0M388.5 292.0h0M388.7 285.2h0M388.9 282.0h0M389.1 280.9h0M389.3 280.0h0M389.5 279.8h0M389.6 281.0h0M389.9 279.5h0M390.0 277.2h0M390.2 278.7h0M390.4 279.9h0M390.7 275.3h0M390.8 276.0h0M391.0 277.4h0M391.3 277.5h0M391.5 273.9h0M391.5 271.2h0M391.8 268.0h0M391.9 272.9h0M392.1 275.4h0M392.4 276.6h0M392.6 279.3h0M392.7 278.5h0M392.9 282.0h0M393.1 280.8h0M393.3 281.3h0M393.5 283.3h0M393.6 283.8h0M393.9 285.1h0M394.1 287.2h0M394.2 285.7h0M394.5 284.0h0M394.6 281.4h0M394.8 283.3h0M394.9 281.9h0M395.3 281.7h0M395.5 280.3h0M395.5 279.9h0M395.8 279.4h0M395.9 281.2h0M396.1 281.6h0M396.3 279.9h0M396.5 281.2h0M396.8 280.2h0M396.9 280.9h0M397.1 276.8h0M397.3 271.6h0M397.5 273.3h0M397.6 275.8h0M397.9 278.1h0M398.1 280.3h0M398.3 279.8h0M398.4 281.5h0M398.6 279.5h0M398.8 280.7h0M399.0 281.0h0M399.2 280.7h0M399.4 280.0h0M399.6 283.9h0M399.7 281.1h0M400.0 279.7h0M400.1 282.2h0M400.3 280.1h0M400.5 281.3h0M400.7 281.6h0M400.9 283.2h0M401.1 281.1h0M401.2 282.6h0M401.5 281.0h0M401.7 279.5h0M401.9 280.8h0M402.1 278.8h0M402.2 279.0h0M402.4 279.7h0M402.7 280.7h0M402.8 279.1h0M403.0 276.8h0M403.2 273.7h0M403.4 274.0h0M403.6 271.5h0M403.7 274.8h0M403.9 274.7h0M404.1 278.0h0M404.3 279.4h0M404.6 280.3h0M404.7 280.0h0M404.9 279.0h0M405.1 275.9h0M405.3 275.6h0M405.5 279.0h0M405.7 278.3h0M405.8 278.8h0M406.0 278.1h0M406.1 277.2h0M406.3 279.2h0M406.6 280.9h0M406.7 276.9h0M407.1 278.8h0M407.2 278.3h0M407.4 280.0h0M407.6 279.9h0M407.7 278.5h0M407.9 277.9h0M408.1 280.4h0M408.3 276.6h0M408.5 276.6h0M408.8 277.2h0M408.8 275.8h0M409.2 272.5h0M409.2 274.2h0M409.5 276.1h0M409.6 277.0h0M409.8 279.1h0M410.0 280.3h0M410.3 277.3h0M410.4 279.2h0M410.6 281.4h0M410.8 279.7h0M411.0 279.9h0M411.2 282.9h0M411.4 279.8h0M411.5 280.5h0M411.8 281.3h0M411.9 280.6h0M412.1 279.6h0M412.4 280.1h0M412.6 279.6h0M412.6 279.7h0M412.9 277.2h0M413.1 277.2h0M413.3 274.2h0M413.4 273.2h0M413.6 271.7h0M413.8 276.1h0M414.0 278.7h0M414.2 282.0h0M414.5 283.3h0M414.6 287.4h0M414.8 288.6h0M415.0 286.0h0M415.2 283.7h0M415.3 278.5h0M415.6 276.9h0M415.8 275.6h0M415.9 276.2h0M416.1 274.9h0M416.4 274.4h0M416.4 272.1h0M416.7 272.9h0M416.9 272.5h0M417.0 270.0h0M417.3 269.7h0M417.5 270.7h0M417.6 272.0h0M417.9 274.0h0M418.0 272.9h0M418.3 272.7h0M418.5 275.2h0M418.6 275.1h0M418.8 275.5h0M418.9 276.5h0M419.2 275.4h0M419.3 274.6h0M419.6 276.9h0M419.7 274.6h0M419.9 274.4h0M420.1 275.5h0M420.3 273.9h0M420.6 274.9h0M420.6 276.8h0M420.9 274.8h0M421.1 271.8h0M421.2 266.9h0M421.4 270.2h0M421.6 271.9h0M421.8 275.0h0M421.9 275.7h0M422.2 276.3h0M422.4 277.2h0M422.6 277.8h0M422.8 276.3h0M423.0 275.7h0M423.1 278.9h0M423.4 277.3h0M423.5 277.6h0M423.7 276.1h0M423.9 275.8h0M424.1 275.6h0M424.4 272.8h0M424.5 268.4h0M424.8 267.6h0M424.9 269.4h0M425.1 270.7h0M425.3 274.1h0M425.4 274.3h0M425.7 274.8h0M425.9 275.8h0M426.1 276.0h0M426.2 275.4h0M426.5 276.6h0M426.7 275.3h0M426.7 277.2h0M427.0 278.6h0M427.1 279.8h0M427.3 279.0h0M427.6 275.6h0M427.7 276.2h0M427.9 274.3h0M428.1 274.4h0M428.2 273.4h0M428.4 273.3h0M428.7 273.6h0M428.9 273.2h0M429.0 275.0h0M429.2 273.0h0M429.5 273.5h0M429.7 274.1h0M429.8 274.1h0M430.0 275.6h0M430.2 275.1h0M430.4 274.1h0M430.6 277.0h0M430.8 277.0h0M430.9 275.7h0M431.2 277.2h0M431.3 280.3h0M431.5 276.9h0M431.7 275.9h0M431.9 276.3h0M432.1 276.0h0M432.3 276.0h0M432.4 273.7h0M432.7 273.7h0M432.9 275.6h0M433.1 273.1h0M433.3 272.2h0M433.5 276.3h0M433.6 276.1h0M433.7 275.6h0M433.9 276.8h0M434.2 277.4h0M434.3 276.6h0M434.6 278.0h0M434.8 277.9h0M435.0 281.9h0M435.1 277.6h0M435.4 279.9h0M435.6 278.0h0M435.8 277.4h0M436.0 278.3h0M436.1 274.6h0M436.3 276.7h0M436.5 277.6h0M436.6 274.5h0M436.8 276.8h0M437.0 277.7h0M437.3 276.2h0M437.4 275.6h0M437.6 276.1h0M437.8 276.4h0M438.0 275.7h0M438.1 271.8h0M438.3 273.9h0M438.6 275.8h0M438.7 275.8h0M439.0 277.3h0M439.2 277.8h0M439.3 277.1h0M439.5 277.0h0M439.7 277.8h0M439.8 279.4h0M440.1 279.2h0M440.3 276.2h0M440.5 279.7h0M440.7 275.6h0M440.9 282.3h0M441.1 277.9h0M441.1 274.5h0M441.5 278.1h0M441.7 277.0h0M441.9 278.4h0M442.0 278.4h0M442.1 277.9h0M442.4 279.6h0M442.6 280.4h0M442.8 280.5h0M442.9 282.1h0M443.2 280.0h0M443.2 281.1h0M443.5 283.6h0M443.7 278.1h0M443.9 278.1h0M444.0 279.4h0M444.3 279.0h0M444.4 279.5h0M444.6 278.8h0M444.9 275.4h0M445.0 273.1h0M445.3 274.3h0M445.4 269.3h0M445.5 271.4h0M445.8 273.1h0M445.9 275.0h0M446.1 291.4h0M446.4 288.4h0M446.5 281.5h0M446.7 277.7h0M446.9 275.3h0M447.2 274.7h0M447.2 274.9h0M447.5 276.4h0M447.7 275.9h0M448.0 274.9h0M448.0 271.7h0M448.3 268.8h0M448.5 268.0h0M448.7 271.7h0M448.9 275.0h0M449.0 275.0h0M449.2 276.4h0M449.5 272.8h0M449.6 275.7h0M449.8 276.5h0M449.9 275.7h0M450.2 278.3h0M450.3 282.9h0M450.5 293.6h0M450.8 276.5h0M451.0 275.1h0M451.1 274.8h0M451.3 274.0h0M451.5 276.3h0M451.7 276.8h0M451.9 279.7h0M452.1 281.6h0M452.3 281.0h0M452.4 275.7h0M452.7 275.4h0M452.8 271.9h0M453.0 275.2h0M453.2 274.9h0M453.4 273.6h0M453.6 275.3h0M453.7 272.2h0M454.0 273.4h0M454.2 273.0h0M454.3 267.4h0M454.6 273.4h0M454.7 271.6h0M455.0 273.1h0M455.1 274.0h0M455.3 265.9h0M455.5 267.9h0M455.7 267.0h0M455.9 271.5h0M456.1 272.8h0M456.2 275.6h0M456.5 275.9h0M456.6 275.6h0M456.8 275.0h0M457.0 276.0h0M457.1 276.8h0M457.4 276.8h0M457.5 277.5h0M457.8 279.5h0M457.9 279.5h0M458.2 276.9h0M458.3 276.1h0M458.6 276.5h0M458.8 277.0h0M458.9 277.0h0M459.1 275.0h0M459.3 275.8h0M459.5 273.0h0M459.7 271.1h0M459.8 278.0h0M460.1 275.8h0M460.3 277.5h0M460.4 274.3h0M460.7 275.1h0M460.8 276.2h0M461.0 272.9h0M461.2 274.0h0M461.3 271.5h0M461.7 271.9h0M461.8 271.9h0M462.0 273.8h0M462.1 274.4h0M462.3 275.5h0M462.5 276.3h0M462.7 275.8h0M462.9 276.3h0M463.2 275.5h0M463.2 279.2h0M463.5 279.1h0M463.7 281.5h0M463.8 282.0h0M464.0 281.7h0M464.2 281.9h0M464.5 278.9h0M464.6 280.0h0M464.8 283.7h0M465.0 283.7h0M465.2 282.3h0M465.5 281.8h0M465.6 277.6h0M465.7 277.1h0M466.0 277.7h0M466.2 277.3h0M466.4 277.1h0M466.4 278.1h0M466.7 276.0h0M466.9 276.6h0M467.0 275.1h0M467.3 274.2h0M467.5 275.3h0M467.7 276.4h0M467.8 276.3h0M468.0 278.0h0M468.3 278.2h0M468.5 277.0h0M468.7 277.1h0M468.8 276.7h0M469.1 278.3h0M469.1 278.5h0M469.4 278.8h0M469.6 275.5h0M469.8 277.5h0M469.9 270.8h0M470.1 272.7h0M470.3 273.2h0M470.5 273.0h0M470.8 275.4h0M471.0 279.1h0M471.1 280.7h0M471.2 280.5h0M471.5 279.2h0M471.6 279.4h0M471.8 281.2h0M472.0 278.8h0M472.3 282.6h0M472.4 280.3h0M63.1 271.3h0M63.1 274.6h0M81.1 274.6h0M77.0 281.2h0M117.9 266.4h0M117.9 270.5h0M122.8 273.8h0M126.1 277.1h0M59.0 298.3h0M59.0 301.6h0M59.0 304.9h0M68.8 298.3h0M72.9 303.7h0M72.9 307.6h0M73.7 314.2h0M76.2 298.3h0M81.9 299.1h0M86.8 305.7h0M86.8 310.6h0M91.7 307.0h0M91.7 318.7h0M95.0 298.3h0M100.7 307.0h0M100.7 298.8h0M104.8 295.9h0M114.6 307.6h0M118.7 294.2h0M118.7 299.1h0M118.7 315.5h0M128.5 309.8h0M87.6 300.0h0M126.6 277.9h0M131.5 277.9h0M141.4 276.2h0M145.9 275.4h0M159.4 272.2h0M159.4 275.4h0M164.3 277.9h0M168.4 275.4h0M172.4 277.1h0M181.4 277.1h0M186.3 275.9h0M200.3 273.8h0M127.9 309.8h0M132.9 294.6h0M137.3 297.8h0M142.2 291.3h0M172.4 293.4h0M174.1 294.2h0M188.0 295.0h0M188.0 288.5h0M197.0 290.1h0M201.6 292.6h0M182.3 287.7h0M204.9 273.0h0M204.9 275.4h0M213.4 271.7h0M213.4 274.6h0M218.8 275.4h0M227.0 275.4h0M223.7 277.1h0M237.6 276.2h0M245.8 269.4h0M245.8 271.3h0M255.6 272.7h0M264.6 266.8h0M264.6 270.0h0M258.9 274.3h0M277.7 262.4h0M277.7 267.3h0M201.6 292.6h0M206.2 292.6h0M210.6 294.2h0M210.6 290.1h0M219.6 297.8h0M233.5 290.1h0M214.7 290.1h0M252.4 286.1h0M264.6 284.7h0M277.5 262.8h0M277.5 265.6h0M277.5 268.1h0M287.8 264.5h0M287.3 270.5h0M296.3 262.4h0M296.3 268.1h0M301.5 257.9h0M301.5 261.5h0M301.5 265.1h0M300.8 270.5h0M306.1 261.5h0M306.1 265.6h0M305.3 271.3h0M318.8 266.8h0M318.8 269.7h0M323.3 262.8h0M323.3 266.4h0M328.7 266.1h0M329.0 269.7h0M338.0 268.9h0M342.1 268.1h0M342.1 271.3h0M345.3 271.0h0M345.7 273.3h0M333.1 270.5h0M282.4 286.9h0M279.1 285.2h0M288.1 286.1h0M315.1 286.1h0M335.5 286.1h0M347.0 288.5h0M347.0 292.3h0M336.3 286.9h0M360.1 261.5h0M360.1 266.4h0M359.8 271.3h0M368.8 272.2h0M382.7 272.2h0M379.4 274.6h0M388.4 275.4h0M396.6 270.0h0M400.7 271.3h0M406.4 264.8h0M406.4 268.4h0M406.4 271.3h0M419.5 261.5h0M419.5 267.3h0M418.7 271.3h0M422.0 269.7h0M387.6 286.9h0M387.6 290.1h0M392.9 286.9h0M392.9 290.1h0M397.4 294.2h0M406.4 291.8h0M406.0 299.5h0M411.3 293.9h0M420.3 285.7h0M424.9 286.9h0M411.3 284.4h0M364.7 284.4h0M371.3 285.2h0M419.6 260.2h0M419.6 262.4h0M419.1 267.3h0M429.7 264.8h0M428.9 268.1h0M424.0 272.2h0M437.9 270.5h0M442.8 271.3h0M447.7 270.5h0M455.1 269.7h0M461.6 272.2h0M473.1 272.7h0M473.9 275.4h0M420.7 285.2h0M424.8 286.9h0M447.7 283.1h0M469.0 284.1h0M415.8 282.0h0" stroke="#777" stroke-width="1.7" stroke-linecap="square" fill="none"/>
<path d="M54.9 288.4 56.0 288.6 57.1 288.4 58.2 287.9 59.3 286.5 60.4 285.5 61.5 283.6 62.6 283.0 63.7 283.2 64.8 285.6 65.9 287.3 67.0 289.2 68.1 290.6 69.2 292.8 70.3 293.3 71.4 294.1 72.5 293.9 73.6 293.5 74.7 292.6 75.8 291.4 76.9 289.6 78.0 289.3 79.1 288.4 80.2 288.7 81.3 288.4 82.4 288.6 83.5 288.3 84.6 288.8 85.7 289.5 86.8 290.7 87.9 291.4 89.0 292.7 90.1 292.8 91.2 293.4 92.3 292.9 93.4 292.9 94.5 292.2 95.6 292.2 96.7 291.6 97.8 291.4 98.9 290.5 100.0 290.3 101.1 289.6 102.2 289.5 103.3 288.5 104.4 287.9 105.5 285.8 106.6 284.4 107.7 284.0 108.8 284.4 109.9 284.3 111.0 284.9 112.1 284.4 113.2 284.7 114.3 284.2 115.4 284.9 116.5 284.5 117.6 284.5 118.7 284.0 119.8 284.0 120.9 283.6 122.0 282.5 123.1 281.2 124.2 282.0 125.3 282.5 126.4 284.0 127.5 283.7 128.6 283.4 129.7 282.6 130.8 283.1 131.9 282.9 133.0 283.7 134.1 284.1 135.2 284.7 136.3 284.2 137.4 284.2 138.5 284.1 139.6 284.6 140.7 284.7 141.8 285.2 142.9 284.7 144.0 284.8 145.1 284.0 146.2 283.8 147.3 282.9 148.4 283.1 149.5 282.5 150.6 283.2 151.7 282.9 152.8 283.2 153.9 282.6 155.0 283.0 156.1 282.5 157.2 282.7 158.3 282.2 159.4 282.6 160.5 282.2 161.6 282.7 162.7 282.3 163.8 283.0 164.9 282.5 166.0 282.7 167.1 282.3 168.2 283.0 169.3 283.0 170.4 284.0 171.5 284.4 172.6 284.8 173.7 284.2 174.8 284.2 175.9 283.0 177.0 282.9 178.1 282.0 179.2 282.2 180.3 281.5 181.4 281.7 182.5 280.8 183.6 280.5 184.7 280.3 185.8 281.0 186.9 281.0 188.0 282.4 189.1 282.9 190.2 283.7 191.3 284.0 192.4 284.5 193.5 284.4 194.6 285.1 195.7 285.0 196.8 285.3 197.9 284.6 199.0 284.7 200.1 283.8 201.2 283.7 202.3 282.7 203.4 282.4 204.5 281.2 205.6 281.6 206.7 281.5 207.8 282.5 208.9 282.8 210.0 283.9 211.1 284.0 212.2 284.6 213.3 284.2 214.4 284.7 215.5 284.3 216.6 284.3 217.7 283.5 218.8 283.3 219.9 282.3 221.0 282.2 222.1 281.3 223.2 281.6 224.3 281.0 225.4 281.6 226.5 281.6 227.6 282.3 228.7 282.3 229.8 283.3 230.9 283.3 232.0 284.3 233.1 283.3 234.2 283.2 235.3 281.9 236.4 281.3 237.5 280.6 238.6 280.9 239.7 280.9 240.8 281.7 241.9 281.6 243.0 281.6 244.1 280.6 245.2 280.4 246.3 279.5 247.4 279.7 248.5 279.6 249.6 280.2 250.7 280.4 251.8 281.0 252.9 280.7 254.0 281.3 255.1 280.6 256.2 280.6 257.3 279.8 258.4 279.9 259.5 278.9 260.6 278.2 261.7 277.5 262.8 278.1 263.9 277.7 265.0 278.5 266.1 278.4 267.2 279.0 268.3 279.0 269.4 279.4 270.5 279.1 271.6 279.7 272.7 279.2 273.8 279.0 274.9 277.4 276.0 276.5 277.1 276.1 278.2 276.4 279.3 275.8 280.4 276.5 281.5 277.0 282.6 278.3 283.7 278.7 284.8 279.6 285.9 278.4 287.0 278.0 288.1 277.2 289.2 277.5 290.3 277.1 291.4 277.8 292.5 277.6 293.6 277.4 294.7 276.5 295.8 276.4 296.9 275.8 298.0 276.4 299.1 276.8 300.2 277.0 301.3 276.4 302.4 276.4 303.5 275.9 304.6 276.1 305.7 276.3 306.8 277.2 307.9 277.8 309.0 279.3 310.1 279.7 311.2 280.7 312.3 280.6 313.4 280.8 314.5 279.9 315.6 279.7 316.7 278.4 317.8 278.1 318.9 277.0 320.0 276.8 321.1 275.9 322.2 276.0 323.3 275.4 324.4 275.6 325.5 275.6 326.6 276.1 327.7 275.4 328.8 275.7 329.9 275.9 331.0 277.0 332.1 277.6 333.2 278.7 334.3 279.1 335.4 280.1 336.5 280.0 337.6 280.1 338.7 279.6 339.8 279.8 340.9 279.3 342.0 279.5 343.1 279.1 344.2 279.6 345.3 279.5 346.4 280.0 347.5 280.5 348.6 280.5 349.7 279.6 350.8 279.4 351.9 278.4 353.0 278.4 354.1 277.6 355.2 277.8 356.3 277.2 357.4 277.3 358.5 276.6 359.6 276.5 360.7 276.5 361.8 277.6 362.9 278.2 364.0 279.3 365.1 279.1 366.2 279.7 367.3 279.1 368.4 279.3 369.5 279.4 370.6 280.3 371.7 280.1 372.8 280.4 373.9 280.0 375.0 280.3 376.1 279.6 377.2 279.9 378.3 279.4 379.4 279.3 380.5 278.7 381.6 278.9 382.7 278.2 383.8 278.6 384.9 279.2 386.0 280.5 387.1 280.7 388.2 281.7 389.3 281.2 390.4 281.5 391.5 280.8 392.6 280.7 393.7 280.0 394.8 280.0 395.9 279.4 397.0 279.4 398.1 278.5 399.2 279.2 400.3 279.3 401.4 279.5 402.5 279.0 403.6 279.0 404.7 278.2 405.8 278.1 406.9 277.3 408.0 277.3 409.1 277.8 410.2 279.1 411.3 278.9 412.4 279.1 413.5 278.4 414.6 278.1 415.7 277.0 416.8 275.8 417.9 274.3 419.0 274.5 420.1 274.2 421.2 275.4 422.3 276.0 423.4 276.3 424.5 275.7 425.6 275.6 426.7 274.6 427.8 274.6 428.9 274.3 430.0 275.0 431.1 275.4 432.2 276.4 433.3 276.6 434.4 277.3 435.5 276.6 436.6 276.5 437.7 276.1 438.8 276.7 439.9 276.5 441.0 277.3 442.1 277.3 443.2 277.9 444.3 277.7 445.4 277.9 446.5 277.4 447.6 277.9 448.7 277.7 449.8 277.6 450.9 276.5 452.0 276.1 453.1 274.8 454.2 274.5 455.3 274.5 456.4 275.5 457.5 275.4 458.6 276.1 459.7 275.9 460.8 276.3 461.9 276.0 463.0 276.7 464.1 276.9 465.2 277.7 466.3 277.9 467.4 278.3 468.5 277.8 469.6 278.3 470.7 278.3" stroke="#ff1c1c" stroke-width="1.05" fill="none" stroke-linejoin="round"/>
<rect x="34.46" y="254.78" width="460.02" height="67.15" fill="none" class="sp"/>
<line x1="32.56" y1="266.07" x2="34.46" y2="266.07" class="tk"/>
<text x="31.3" y="268.47" class="tl" text-anchor="end" letter-spacing="0.3">25</text>
<line x1="32.56" y1="281.55" x2="34.46" y2="281.55" class="tk"/>
<text x="31.3" y="283.95" class="tl" text-anchor="end" letter-spacing="0.3">0</text>
<line x1="32.56" y1="297.03" x2="34.46" y2="297.03" class="tk"/>
<text x="31.3" y="299.43" class="tl" text-anchor="end" letter-spacing="0.3">25</text>
<line x1="18.18" y1="297.03" x2="22.38" y2="297.03" stroke="#262626" stroke-width="0.62"/>
<line x1="32.56" y1="312.5" x2="34.46" y2="312.5" class="tk"/>
<text x="31.3" y="314.9" class="tl" text-anchor="end" letter-spacing="0.3">50</text>
<line x1="18.18" y1="312.5" x2="22.38" y2="312.5" stroke="#262626" stroke-width="0.62"/>
<line x1="53.45" y1="321.93" x2="53.45" y2="323.83" class="tk"/>
<line x1="117.37" y1="321.93" x2="117.37" y2="323.83" class="tk"/>
<line x1="190.41" y1="321.93" x2="190.41" y2="323.83" class="tk"/>
<line x1="254.33" y1="321.93" x2="254.33" y2="323.83" class="tk"/>
<line x1="331.94" y1="321.93" x2="331.94" y2="323.83" class="tk"/>
<line x1="395.86" y1="321.93" x2="395.86" y2="323.83" class="tk"/>
<line x1="473.47" y1="321.93" x2="473.47" y2="323.83" class="tk"/>
<text x="264.47" y="251.88" class="tt" text-anchor="middle" textLength="42.2" lengthAdjust="spacingAndGlyphs">OPE 50.0 m</text>
<text x="356.6" y="261.68" class="tt" textLength="57.3" lengthAdjust="spacingAndGlyphs">0.46±9.57 ppm</text>
<text x="43.7" y="264.78" class="pl">(d)</text>
<text transform="translate(13.8,288.36) rotate(-90)" class="yl" text-anchor="middle">CO<tspan font-size="5" dy="1.3">2</tspan><tspan dy="-1.3"> [ppm]</tspan></text>
<line x1="53.45" y1="335.42" x2="53.45" y2="402.42" class="gr"/>
<line x1="117.37" y1="335.42" x2="117.37" y2="402.42" class="gr"/>
<line x1="190.41" y1="335.42" x2="190.41" y2="402.42" class="gr"/>
<line x1="254.33" y1="335.42" x2="254.33" y2="402.42" class="gr"/>
<line x1="331.94" y1="335.42" x2="331.94" y2="402.42" class="gr"/>
<line x1="395.86" y1="335.42" x2="395.86" y2="402.42" class="gr"/>
<line x1="473.47" y1="335.42" x2="473.47" y2="402.42" class="gr"/>
<line x1="34.46" y1="343.94" x2="494.48" y2="343.94" class="gr"/>
<line x1="34.46" y1="379.26" x2="494.48" y2="379.26" class="gr"/>
<line x1="34.46" y1="396.92" x2="494.48" y2="396.92" class="gr"/>
<clipPath id="c4"><rect x="34.46" y="335.42" width="460.02" height="67"/></clipPath>
<line x1="34.46" y1="361.6" x2="494.48" y2="361.6" stroke="#333" stroke-width="1.1"/>
<path clip-path="url(#c4)" d="M54.4 367.6h0M54.7 366.9h0M54.8 366.0h0M55.0 368.5h0M55.2 367.0h0M55.5 368.0h0M55.6 370.1h0M55.9 366.3h0M56.0 372.5h0M56.2 373.2h0M56.3 366.9h0M56.5 368.0h0M56.8 368.9h0M57.0 367.1h0M57.1 368.5h0M57.4 367.7h0M57.6 368.3h0M57.7 370.1h0M57.9 369.2h0M58.2 369.6h0M58.3 368.4h0M58.4 367.4h0M58.7 363.7h0M58.8 361.4h0M59.1 360.4h0M59.2 360.0h0M59.5 364.1h0M59.6 367.0h0M59.8 367.1h0M60.0 368.5h0M60.3 370.0h0M60.4 369.5h0M60.5 369.2h0M60.8 368.1h0M61.0 372.4h0M61.2 369.3h0M61.3 372.3h0M61.5 371.0h0M61.7 371.9h0M62.0 369.3h0M62.1 368.2h0M62.2 367.8h0M62.5 370.8h0M62.7 365.9h0M62.8 370.3h0M63.0 369.2h0M63.3 368.9h0M63.5 369.5h0M63.6 369.0h0M63.8 369.2h0M64.0 368.6h0M64.3 374.7h0M64.4 373.6h0M64.6 372.2h0M64.7 378.0h0M65.0 370.8h0M65.1 371.4h0M65.4 368.9h0M65.6 367.0h0M65.7 366.7h0M65.9 369.5h0M66.1 366.2h0M66.3 367.1h0M66.5 364.8h0M66.6 357.2h0M66.9 365.2h0M67.0 363.9h0M67.2 366.8h0M67.4 364.0h0M67.7 365.0h0M67.8 365.7h0M68.0 363.8h0M68.2 363.4h0M68.4 358.3h0M68.7 359.9h0M68.7 362.2h0M69.0 360.1h0M69.1 363.4h0M69.3 363.6h0M69.5 361.7h0M69.7 364.0h0M69.9 364.0h0M70.2 362.3h0M70.3 364.3h0M70.4 364.7h0M70.6 365.6h0M70.9 368.9h0M71.0 369.6h0M71.3 366.1h0M71.4 367.8h0M71.6 363.3h0M71.8 368.2h0M72.0 369.2h0M72.2 370.5h0M72.3 365.5h0M72.6 364.1h0M72.7 359.9h0M73.0 362.6h0M73.1 360.9h0M73.3 360.5h0M73.5 360.8h0M73.6 358.1h0M73.9 355.9h0M74.1 356.6h0M74.3 356.0h0M74.5 357.8h0M74.6 360.1h0M74.9 359.7h0M75.1 360.0h0M75.2 360.9h0M75.4 362.4h0M75.5 363.5h0M75.8 366.3h0M76.0 371.1h0M76.2 374.3h0M76.4 364.1h0M76.6 362.6h0M76.8 365.6h0M76.9 365.9h0M77.1 365.9h0M77.3 366.9h0M77.5 366.0h0M77.7 370.0h0M78.0 371.2h0M78.1 372.0h0M78.3 368.3h0M78.4 368.4h0M78.6 367.9h0M78.9 366.1h0M79.0 369.5h0M79.2 366.8h0M79.4 368.0h0M79.6 366.1h0M79.8 367.2h0M80.0 364.9h0M80.2 368.5h0M80.4 361.6h0M80.6 365.3h0M80.7 369.0h0M81.0 366.7h0M81.2 369.8h0M81.3 369.7h0M81.5 369.2h0M81.6 371.1h0M81.9 375.7h0M82.0 375.1h0M82.3 372.1h0M82.5 368.6h0M82.7 369.8h0M82.9 370.6h0M83.1 370.2h0M83.2 371.6h0M83.3 370.7h0M83.6 371.1h0M83.9 370.1h0M83.9 370.2h0M84.2 366.0h0M84.4 369.9h0M84.5 369.9h0M84.7 370.4h0M84.9 371.6h0M85.2 373.4h0M85.3 371.2h0M85.5 373.7h0M85.7 375.6h0M85.9 378.2h0M86.2 379.3h0M86.2 378.0h0M86.5 374.6h0M86.6 373.2h0M86.9 374.4h0M87.0 373.5h0M87.3 373.7h0M87.4 373.0h0M87.7 373.0h0M87.7 372.0h0M87.9 369.1h0M88.2 367.3h0M88.4 369.3h0M88.5 369.0h0M88.8 369.3h0M88.9 370.8h0M89.2 370.5h0M89.3 373.1h0M89.6 371.7h0M89.7 374.6h0M89.8 372.2h0M90.0 379.9h0M90.2 382.5h0M90.4 378.9h0M90.6 372.1h0M90.8 368.3h0M91.1 366.1h0M91.2 366.1h0M91.4 364.8h0M91.6 365.9h0M91.8 366.0h0M92.0 363.5h0M92.1 366.3h0M92.3 361.8h0M92.5 367.3h0M92.8 361.5h0M93.0 364.8h0M93.1 364.1h0M93.3 365.0h0M93.5 364.8h0M93.6 364.5h0M93.8 365.3h0M94.0 364.8h0M94.2 365.5h0M94.4 370.7h0M94.6 367.0h0M94.8 372.5h0M95.0 371.7h0M95.2 378.3h0M95.4 373.8h0M95.6 376.7h0M95.8 373.6h0M96.0 369.3h0M96.1 364.4h0M96.4 365.5h0M96.6 364.6h0M96.8 367.3h0M97.0 363.7h0M97.1 365.5h0M97.3 366.8h0M97.5 362.6h0M97.7 364.6h0M97.8 359.9h0M98.0 365.3h0M98.3 362.1h0M98.4 363.6h0M98.7 362.0h0M98.8 366.1h0M99.0 367.6h0M99.2 371.3h0M99.4 367.0h0M99.6 364.4h0M99.8 365.6h0M100.0 365.6h0M100.1 363.5h0M100.3 366.5h0M100.5 364.5h0M100.6 363.6h0M101.0 362.7h0M101.2 360.6h0M101.3 357.6h0M101.5 359.5h0M101.7 361.2h0M101.9 361.1h0M102.0 362.1h0M102.3 362.7h0M102.5 363.7h0M102.5 364.7h0M102.8 363.3h0M103.0 362.7h0M103.3 364.7h0M103.4 363.4h0M103.6 364.6h0M103.8 367.0h0M104.0 373.8h0M104.1 373.9h0M104.3 371.2h0M104.6 365.3h0M104.8 363.5h0M104.8 361.9h0M105.1 362.9h0M105.2 362.7h0M105.5 363.7h0M105.6 360.7h0M105.9 360.4h0M106.1 362.4h0M106.2 361.9h0M106.4 356.3h0M106.6 357.0h0M106.8 359.7h0M107.0 362.6h0M107.3 360.2h0M107.3 362.0h0M107.6 363.2h0M107.7 360.9h0M108.0 361.9h0M108.2 369.3h0M108.3 362.7h0M108.5 365.4h0M108.8 365.2h0M108.9 366.8h0M109.0 368.0h0M109.3 365.9h0M109.4 364.2h0M109.7 361.2h0M109.9 363.0h0M110.1 363.1h0M110.3 363.4h0M110.5 363.7h0M110.7 363.5h0M110.9 361.4h0M111.0 364.6h0M111.1 360.1h0M111.3 355.5h0M111.5 359.4h0M111.7 362.9h0M112.0 363.8h0M112.1 360.7h0M112.3 364.4h0M112.6 365.6h0M112.7 365.1h0M113.0 370.6h0M113.1 369.4h0M113.3 370.8h0M113.5 369.5h0M113.6 368.3h0M113.8 369.0h0M114.0 367.5h0M114.3 367.0h0M114.5 366.8h0M114.6 363.6h0M114.8 357.4h0M114.9 356.3h0M115.2 355.4h0M115.4 357.7h0M115.5 360.5h0M115.7 366.0h0M115.9 365.1h0M116.1 366.7h0M116.3 365.0h0M116.5 367.1h0M116.7 365.1h0M116.9 367.4h0M117.1 366.5h0M117.2 367.4h0M117.4 364.7h0M117.6 365.8h0M117.9 363.9h0M118.0 363.4h0M118.2 363.2h0M118.4 362.4h0M118.6 365.7h0M118.8 363.4h0M119.1 365.2h0M119.1 361.2h0M119.4 361.0h0M119.5 363.3h0M119.7 362.3h0M119.9 363.9h0M120.1 363.8h0M120.3 365.9h0M120.6 366.5h0M120.7 370.0h0M120.8 372.0h0M121.0 375.8h0M121.2 376.1h0M121.5 370.3h0M121.6 370.2h0M121.9 368.1h0M122.0 366.9h0M122.2 365.0h0M122.4 366.0h0M122.6 369.8h0M122.8 368.3h0M123.1 371.4h0M123.2 370.5h0M123.4 371.1h0M123.6 369.8h0M123.8 368.9h0M123.9 368.0h0M124.1 366.1h0M124.3 368.3h0M124.5 366.5h0M124.7 365.5h0M124.9 364.0h0M125.0 364.0h0M125.3 357.5h0M125.5 357.8h0M125.7 359.6h0M125.9 364.8h0M126.0 365.2h0M126.2 366.3h0M126.4 363.4h0M126.6 359.1h0M126.8 365.1h0M127.0 363.1h0M127.2 363.0h0M127.4 363.7h0M127.6 363.8h0M127.8 364.9h0M128.0 366.3h0M128.2 362.9h0M128.4 364.6h0M128.5 365.4h0M128.7 367.8h0M128.9 363.6h0M129.1 364.4h0M129.3 361.3h0M129.5 363.7h0M147.5 362.0h0M147.7 360.3h0M147.8 363.1h0M148.1 364.1h0M148.2 366.7h0M148.5 362.6h0M148.7 362.2h0M148.8 361.1h0M149.1 361.3h0M149.3 360.3h0M149.5 362.3h0M149.7 363.2h0M149.8 359.6h0M149.9 363.6h0M150.1 364.6h0M150.4 361.4h0M150.5 358.9h0M150.8 359.4h0M150.9 361.0h0M151.1 361.5h0M151.3 362.0h0M151.5 361.6h0M151.7 360.2h0M151.9 358.2h0M152.1 356.8h0M152.3 359.5h0M152.4 356.9h0M152.6 359.0h0M152.9 362.6h0M153.0 360.0h0M153.3 361.1h0M153.4 360.4h0M153.7 360.3h0M153.8 359.9h0M154.0 358.8h0M154.2 359.7h0M154.4 359.5h0M154.5 361.7h0M154.7 362.3h0M154.9 361.5h0M155.1 362.6h0M155.3 361.7h0M155.6 363.7h0M155.6 365.5h0M155.8 367.6h0M156.0 366.2h0M156.3 366.9h0M156.4 365.6h0M156.6 364.2h0M156.8 365.8h0M157.1 362.4h0M157.2 364.9h0M157.4 364.5h0M157.6 362.1h0M157.8 364.0h0M158.1 363.3h0M158.3 362.0h0M158.4 359.6h0M158.5 364.5h0M158.7 365.3h0M159.0 363.3h0M159.1 364.4h0M159.4 363.2h0M159.4 361.8h0M159.7 362.7h0M159.9 359.9h0M160.1 358.1h0M160.2 358.8h0M160.5 360.8h0M160.6 362.0h0M160.9 361.7h0M161.1 362.2h0M161.2 363.3h0M161.5 362.2h0M161.6 361.6h0M161.8 361.5h0M161.9 364.2h0M162.1 366.5h0M162.3 365.8h0M162.6 368.3h0M162.8 365.6h0M162.9 363.0h0M163.1 365.2h0M163.4 370.8h0M163.4 363.8h0M163.6 364.3h0M163.9 364.2h0M164.0 362.6h0M164.2 364.2h0M164.5 361.6h0M164.6 363.5h0M164.8 362.4h0M165.0 362.4h0M165.2 355.8h0M165.4 351.3h0M165.5 354.6h0M165.8 351.7h0M166.0 359.3h0M166.1 362.5h0M166.4 360.7h0M166.6 365.3h0M166.8 363.1h0M166.8 363.0h0M167.0 362.0h0M167.3 363.8h0M167.5 365.9h0M167.7 363.1h0M167.8 362.9h0M168.1 362.7h0M168.2 363.1h0M168.5 362.3h0M168.7 362.6h0M168.7 359.8h0M169.1 361.6h0M169.3 360.8h0M169.4 362.7h0M169.6 362.2h0M169.8 361.5h0M169.9 362.3h0M170.2 361.2h0M170.3 363.8h0M170.5 360.0h0M170.6 361.8h0M170.8 361.1h0M171.1 357.8h0M171.3 360.8h0M171.5 358.9h0M171.6 360.0h0M171.8 360.5h0M172.1 362.6h0M172.2 362.9h0M172.4 364.4h0M172.7 366.7h0M172.8 367.4h0M173.0 369.6h0M173.2 365.6h0M173.5 364.4h0M173.5 363.4h0M173.7 362.3h0M174.0 362.3h0M174.1 364.4h0M174.4 363.7h0M174.5 363.9h0M174.8 364.0h0M175.0 361.0h0M175.1 357.6h0M175.2 354.1h0M175.5 362.0h0M175.7 360.7h0M175.9 362.8h0M176.1 362.3h0M176.2 361.8h0M176.5 363.7h0M176.6 363.2h0M176.8 361.6h0M177.0 364.4h0M177.2 364.4h0M177.5 366.7h0M177.7 367.7h0M177.7 367.2h0M178.0 363.5h0M178.1 365.1h0M178.3 362.5h0M178.6 363.1h0M178.6 364.2h0M178.9 362.1h0M179.2 362.0h0M179.2 360.6h0M179.5 362.5h0M179.6 365.4h0M179.9 358.2h0M180.1 358.3h0M180.2 361.1h0M180.4 360.0h0M180.6 362.7h0M180.9 363.9h0M181.0 362.0h0M181.1 364.2h0M181.3 363.0h0M181.6 363.4h0M181.7 363.1h0M182.0 368.3h0M182.2 366.3h0M182.3 364.4h0M182.5 361.8h0M182.8 361.5h0M182.9 361.1h0M183.1 361.9h0M183.2 361.7h0M183.6 361.9h0M183.6 359.6h0M183.8 360.0h0M184.1 357.9h0M184.2 359.1h0M184.4 355.5h0M184.6 358.1h0M184.7 358.1h0M185.0 361.5h0M185.2 360.6h0M185.4 361.4h0M185.6 362.6h0M185.8 362.1h0M186.0 359.7h0M186.1 356.3h0M186.3 356.1h0M186.5 360.3h0M186.6 361.8h0M186.9 363.0h0M187.1 364.4h0M187.3 362.1h0M187.5 363.5h0M187.6 364.8h0M187.9 363.8h0M188.0 366.7h0M188.2 367.1h0M188.4 365.5h0M188.6 368.4h0M188.9 365.5h0M188.9 367.9h0M189.2 365.2h0M189.4 363.1h0M189.5 365.0h0M189.7 365.6h0M189.9 363.4h0M190.2 363.8h0M190.3 364.3h0M190.5 367.5h0M190.7 369.0h0M190.8 368.4h0M191.1 363.0h0M191.2 363.3h0M191.4 362.0h0M191.7 363.7h0M191.9 364.1h0M192.1 361.7h0M192.2 363.8h0M192.5 361.2h0M192.5 356.6h0M192.8 359.1h0M193.0 359.1h0M193.2 359.5h0M193.4 364.0h0M193.6 363.7h0M193.8 364.0h0M193.9 363.4h0M194.1 363.0h0M194.3 364.4h0M194.5 365.3h0M194.7 366.6h0M194.9 366.9h0M195.1 360.1h0M195.2 359.6h0M195.4 360.1h0M195.6 356.7h0M195.8 363.1h0M196.1 359.5h0M196.2 360.7h0M196.4 362.5h0M196.7 363.4h0M196.8 363.1h0M196.9 362.9h0M197.2 364.7h0M197.3 366.1h0M197.6 367.1h0M197.8 371.9h0M197.9 373.8h0M198.1 372.8h0M198.3 366.1h0M198.5 364.6h0M198.7 364.9h0M198.8 364.0h0M199.0 363.3h0M199.2 363.1h0M199.5 363.8h0M199.6 366.8h0M199.8 367.3h0M200.1 364.8h0M200.2 367.9h0M200.4 367.6h0M200.6 363.9h0M200.8 369.7h0M201.0 367.6h0M201.2 367.0h0M201.3 368.3h0M201.5 367.1h0M201.7 367.2h0M201.9 367.5h0M202.2 367.0h0M202.3 364.6h0M202.5 364.4h0M202.6 361.1h0M202.9 356.0h0M203.1 356.0h0M203.2 360.1h0M203.4 359.9h0M203.6 365.7h0M203.8 366.1h0M204.0 365.8h0M204.3 366.0h0M204.4 369.2h0M204.6 367.6h0M204.8 372.7h0M205.0 376.8h0M205.1 375.5h0M205.3 375.7h0M205.6 373.0h0M205.7 368.2h0M205.9 367.6h0M206.1 364.8h0M206.2 365.1h0M206.5 365.1h0M206.7 363.3h0M206.8 363.0h0M207.0 360.7h0M207.2 364.2h0M207.4 364.8h0M207.7 361.4h0M207.8 362.2h0M208.0 363.8h0M208.2 364.9h0M208.4 364.5h0M208.6 364.4h0M208.7 364.7h0M209.0 363.7h0M209.2 363.0h0M209.3 365.8h0M209.5 363.9h0M209.7 363.5h0M209.9 360.2h0M210.2 358.7h0M210.3 361.4h0M210.6 361.3h0M210.6 360.4h0M210.9 364.2h0M211.1 361.4h0M211.2 363.7h0M211.5 365.2h0M211.7 365.7h0M211.8 367.3h0M211.9 363.6h0M212.1 370.6h0M212.4 366.7h0M212.6 362.5h0M212.8 361.6h0M213.0 363.9h0M213.2 363.6h0M213.3 360.6h0M213.5 361.6h0M213.7 360.5h0M213.8 362.1h0M214.1 361.5h0M214.3 362.9h0M214.5 362.0h0M214.7 364.3h0M214.9 363.2h0M215.1 368.6h0M215.2 365.6h0M215.5 366.0h0M215.7 364.2h0M215.8 363.8h0M216.1 361.7h0M216.2 363.7h0M216.4 361.3h0M216.6 360.0h0M216.7 360.5h0M217.0 358.9h0M217.2 355.3h0M217.3 350.7h0M217.5 351.9h0M217.7 355.0h0M217.9 361.4h0M218.2 359.9h0M218.3 360.9h0M218.4 359.7h0M218.7 359.9h0M218.8 357.0h0M219.1 356.1h0M219.3 358.4h0M219.5 358.4h0M219.7 360.4h0M219.8 360.9h0M220.0 361.8h0M220.2 362.4h0M220.4 362.9h0M220.6 362.4h0M220.8 363.1h0M221.0 362.9h0M221.1 369.4h0M221.4 369.0h0M221.5 366.6h0M221.7 365.4h0M221.9 364.7h0M222.1 363.4h0M222.2 362.1h0M222.5 368.6h0M222.7 366.4h0M222.9 363.2h0M223.0 363.4h0M223.2 361.3h0M223.5 362.1h0M223.6 360.1h0M223.8 362.1h0M224.1 360.4h0M224.2 360.8h0M224.4 361.7h0M224.5 355.1h0M224.8 355.4h0M225.0 360.5h0M225.1 357.8h0M225.4 359.8h0M225.4 361.8h0M225.6 361.9h0M225.8 362.9h0M226.1 363.7h0M226.2 362.0h0M226.4 366.7h0M226.7 365.4h0M226.9 370.2h0M227.0 365.8h0M227.2 362.9h0M227.5 365.1h0M227.6 364.2h0M227.8 364.3h0M227.9 363.7h0M228.2 360.9h0M228.4 359.1h0M228.6 360.0h0M228.8 360.4h0M228.9 362.6h0M229.2 362.6h0M229.3 362.4h0M229.6 363.6h0M229.7 365.5h0M230.0 361.8h0M230.1 363.0h0M230.3 363.3h0M230.5 366.2h0M230.6 366.6h0M230.8 367.9h0M231.1 369.9h0M231.2 368.5h0M231.3 367.9h0M231.6 369.6h0M231.7 370.1h0M231.9 369.7h0M232.1 366.5h0M232.3 363.6h0M232.5 363.4h0M232.8 363.8h0M232.9 363.1h0M233.0 362.1h0M233.3 361.8h0M233.5 362.1h0M233.6 359.6h0M233.8 359.9h0M234.1 355.1h0M234.2 356.3h0M234.4 361.2h0M234.7 362.7h0M234.8 362.4h0M235.0 360.5h0M235.2 360.4h0M235.3 360.9h0M235.7 363.5h0M235.8 361.5h0M236.0 361.2h0M236.1 362.7h0M236.4 363.7h0M236.5 364.8h0M236.8 364.7h0M236.9 365.5h0M237.2 365.9h0M237.3 370.9h0M237.5 369.8h0M237.6 368.7h0M237.8 364.6h0M238.1 364.5h0M238.3 363.9h0M238.4 360.3h0M238.7 362.6h0M238.9 363.0h0M239.0 361.9h0M239.2 360.5h0M239.3 356.5h0M239.5 358.3h0M239.8 357.1h0M240.0 355.9h0M240.2 361.5h0M240.3 361.8h0M240.5 362.7h0M240.8 360.1h0M240.9 361.3h0M241.1 356.6h0M241.2 360.0h0M241.5 361.7h0M241.6 361.7h0M241.9 362.8h0M242.0 363.0h0M242.2 362.2h0M242.5 360.9h0M242.6 362.1h0M242.8 366.1h0M243.0 361.4h0M243.2 363.6h0M243.4 367.7h0M243.6 362.7h0M243.8 363.4h0M244.0 359.9h0M244.2 362.2h0M244.4 360.1h0M244.6 360.5h0M244.8 361.9h0M244.9 360.1h0M245.2 358.9h0M245.3 356.4h0M245.5 354.4h0M245.6 360.8h0M245.9 358.2h0M246.1 359.0h0M246.2 359.1h0M246.4 358.9h0M246.6 359.5h0M246.9 357.9h0M246.9 359.3h0M247.2 358.9h0M247.5 359.3h0M247.5 361.5h0M247.7 359.8h0M248.0 358.8h0M248.1 359.0h0M248.4 357.8h0M248.5 356.2h0M248.7 357.1h0M248.9 357.9h0M249.0 357.3h0M249.3 358.9h0M249.5 358.8h0M249.7 357.5h0M249.9 351.4h0M250.0 355.8h0M250.2 354.9h0M250.4 359.0h0M250.6 360.2h0M250.8 361.6h0M251.1 361.3h0M251.2 358.3h0M251.4 361.1h0M251.5 362.6h0M251.7 361.8h0M252.0 360.0h0M252.1 360.8h0M252.3 367.8h0M252.5 360.7h0M252.7 363.2h0M252.9 360.7h0M253.0 362.5h0M253.3 362.1h0M253.5 363.0h0M253.6 362.4h0M253.9 362.8h0M254.0 360.6h0M254.2 361.0h0M254.4 367.5h0M254.6 364.5h0M254.8 364.5h0M254.9 363.8h0M255.1 361.3h0M255.4 363.1h0M255.6 363.0h0M255.7 365.0h0M255.9 364.5h0M256.2 363.6h0M256.4 363.6h0M256.5 358.8h0M256.8 360.3h0M256.9 359.2h0M257.2 360.5h0M257.3 363.3h0M257.5 362.4h0M257.7 363.9h0M257.8 365.4h0M258.1 363.5h0M258.2 363.8h0M258.4 364.9h0M258.6 365.0h0M258.7 362.0h0M259.0 364.5h0M259.1 366.7h0M259.3 360.1h0M259.5 363.8h0M259.8 365.4h0M259.9 364.7h0M260.2 364.5h0M260.3 362.7h0M260.6 363.4h0M260.8 364.3h0M260.9 363.3h0M261.1 363.6h0M261.2 361.2h0M261.5 361.5h0M261.7 362.0h0M261.8 360.6h0M262.0 361.5h0M262.2 361.2h0M262.4 363.4h0M262.6 362.8h0M262.7 363.2h0M262.9 363.2h0M263.2 365.6h0M263.3 364.1h0M263.6 360.2h0M263.8 363.8h0M264.0 360.3h0M264.2 362.5h0M264.4 363.8h0M264.5 362.2h0M264.7 363.8h0M264.9 364.2h0M265.1 364.4h0M265.2 364.2h0M265.5 364.2h0M265.7 367.7h0M265.8 366.7h0M266.0 367.4h0M266.2 367.8h0M266.4 365.1h0M266.5 361.9h0M266.7 364.8h0M267.0 363.7h0M267.2 363.2h0M267.4 359.8h0M267.5 362.6h0M267.7 363.2h0M268.0 360.8h0M268.1 364.1h0M268.4 364.7h0M268.5 361.6h0M268.7 358.9h0M268.9 352.9h0M269.1 350.1h0M269.2 353.4h0M269.5 356.8h0M269.6 360.1h0M269.9 360.6h0M270.0 363.4h0M270.2 364.1h0M270.4 363.4h0M270.5 362.8h0M270.8 366.1h0M270.9 361.8h0M271.2 366.1h0M271.3 367.9h0M271.6 366.7h0M271.8 361.7h0M272.0 363.7h0M272.1 365.8h0M272.4 362.7h0M272.5 361.1h0M272.6 361.8h0M272.9 362.6h0M273.1 359.6h0M273.3 360.2h0M273.5 360.1h0M273.7 359.8h0M273.9 357.4h0M274.0 360.4h0M274.2 353.3h0M274.4 360.3h0M274.5 359.3h0M274.8 361.6h0M275.0 361.2h0M275.2 361.8h0M275.3 361.1h0M275.5 363.9h0M275.7 359.7h0M275.9 361.3h0M276.1 364.4h0M276.3 363.3h0M276.6 363.5h0M276.7 361.3h0M276.9 364.2h0M277.0 360.6h0M277.2 359.8h0M277.4 362.5h0M277.7 366.5h0M277.8 370.5h0M278.0 367.7h0M278.2 368.6h0M278.4 364.3h0M278.5 362.0h0M278.8 360.1h0M278.9 362.5h0M279.1 359.3h0M279.3 361.6h0M279.5 362.5h0M279.7 361.0h0M279.9 361.0h0M280.1 361.8h0M280.2 363.7h0M280.5 360.0h0M280.6 361.3h0M280.9 361.0h0M281.0 363.1h0M281.2 362.1h0M281.4 362.2h0M281.7 362.6h0M281.9 362.6h0M282.0 363.3h0M282.2 363.0h0M282.3 361.8h0M282.6 362.6h0M282.8 362.2h0M283.0 356.8h0M283.2 358.1h0M283.4 356.7h0M283.6 358.2h0M283.7 361.0h0M284.0 360.9h0M284.1 364.2h0M284.4 364.6h0M284.5 363.0h0M284.7 364.7h0M284.8 364.2h0M285.1 363.4h0M285.3 366.0h0M285.5 365.1h0M285.7 369.4h0M285.9 365.8h0M286.0 365.8h0M286.2 365.6h0M286.4 368.9h0M286.7 366.5h0M286.7 364.8h0M286.9 363.4h0M287.2 364.3h0M287.3 362.0h0M287.5 359.7h0M287.7 360.1h0M287.9 360.8h0M288.1 361.8h0M288.3 359.7h0M288.6 357.6h0M288.6 353.6h0M288.8 359.0h0M289.0 357.1h0M289.3 361.1h0M289.4 362.6h0M289.7 364.8h0M289.8 363.0h0M290.0 362.3h0M290.2 363.1h0M290.4 367.5h0M290.6 364.1h0M290.8 368.3h0M290.9 360.5h0M291.2 365.0h0M291.3 360.0h0M291.5 360.5h0M291.8 353.7h0M291.9 360.5h0M292.1 358.2h0M292.3 357.3h0M292.4 357.5h0M292.7 359.3h0M292.8 359.6h0M293.0 362.2h0M293.2 363.1h0M293.5 362.2h0M293.6 363.6h0M293.7 368.4h0M294.0 369.7h0M294.2 369.3h0M294.3 367.0h0M294.6 361.1h0M294.7 363.9h0M294.9 364.4h0M295.2 360.1h0M295.4 361.7h0M295.5 364.5h0M295.7 360.4h0M295.9 359.0h0M296.0 358.6h0M296.3 359.0h0M296.5 354.3h0M296.7 350.8h0M296.9 350.9h0M297.1 353.1h0M297.2 355.0h0M297.3 359.0h0M297.7 359.8h0M297.8 359.9h0M298.0 361.2h0M298.2 360.2h0M298.3 362.0h0M298.5 360.7h0M298.7 364.8h0M299.0 364.5h0M299.1 365.8h0M299.3 363.9h0M299.5 364.0h0M299.7 364.2h0M299.8 360.5h0M300.0 365.9h0M300.2 363.6h0M300.5 363.9h0M300.6 360.2h0M300.8 360.4h0M301.1 360.5h0M301.3 361.8h0M301.4 360.8h0M301.6 358.5h0M301.8 358.8h0M302.0 350.4h0M302.2 353.5h0M302.4 349.3h0M302.5 354.0h0M302.8 356.6h0M302.9 359.8h0M303.2 360.3h0M303.4 362.9h0M303.5 361.2h0M303.6 360.3h0M303.8 362.9h0M304.1 361.6h0M304.2 366.4h0M304.4 365.9h0M304.7 374.3h0M304.9 364.2h0M305.0 365.4h0M305.3 365.2h0M305.4 361.0h0M305.6 359.8h0M305.8 358.7h0M305.9 358.8h0M306.1 360.4h0M306.3 359.4h0M306.5 357.9h0M306.7 358.5h0M306.9 354.8h0M307.1 355.2h0M307.3 358.3h0M307.5 360.5h0M307.7 360.1h0M307.9 360.4h0M308.1 361.7h0M308.3 360.3h0M308.5 361.2h0M308.6 362.7h0M308.8 365.8h0M309.0 372.1h0M309.2 359.0h0M309.3 361.6h0M309.6 363.2h0M309.7 360.5h0M310.0 361.2h0M310.2 360.8h0M310.3 362.3h0M310.5 362.6h0M310.7 365.4h0M311.0 366.1h0M311.1 362.8h0M311.3 365.7h0M311.5 360.2h0M311.7 359.9h0M311.8 357.7h0M312.0 362.6h0M312.3 359.3h0M312.4 357.2h0M312.7 358.5h0M312.8 357.2h0M312.9 356.7h0M313.2 354.0h0M313.4 352.7h0M313.7 352.0h0M313.8 358.9h0M313.9 358.8h0M314.2 359.2h0M314.4 359.6h0M314.5 359.0h0M314.7 359.8h0M314.9 358.2h0M315.1 359.6h0M315.3 357.0h0M315.4 358.5h0M315.7 358.8h0M315.9 358.1h0M316.1 359.7h0M316.2 359.5h0M316.5 358.4h0M316.6 359.9h0M316.8 360.6h0M317.0 358.5h0M317.2 361.6h0M317.4 363.8h0M317.5 363.5h0M317.8 364.1h0M318.0 360.1h0M318.2 358.7h0M318.4 356.5h0M318.6 352.4h0M318.7 356.8h0M318.8 358.7h0M319.2 359.0h0M319.3 357.2h0M319.4 360.7h0M319.6 361.6h0M319.8 359.6h0M320.0 361.4h0M320.2 361.2h0M320.4 360.6h0M320.7 364.9h0M320.8 366.4h0M321.1 360.2h0M321.2 365.4h0M321.4 359.2h0M321.6 361.0h0M321.7 361.0h0M322.0 359.3h0M322.1 360.1h0M322.4 359.7h0M322.5 357.2h0M322.8 357.7h0M322.9 359.7h0M323.1 358.9h0M323.3 360.0h0M323.5 358.5h0M323.7 361.5h0M323.8 358.8h0M324.0 355.7h0M324.2 357.2h0M324.5 355.9h0M324.6 356.5h0M324.8 357.8h0M325.0 358.3h0M325.3 358.2h0M325.4 360.5h0M325.6 361.4h0M325.8 360.4h0M325.9 362.0h0M326.2 363.8h0M326.3 364.5h0M326.5 367.0h0M326.7 363.8h0M327.0 360.4h0M327.1 358.5h0M327.4 358.1h0M327.5 358.7h0M327.7 358.7h0M327.8 358.1h0M328.0 365.4h0M328.2 365.4h0M328.5 359.4h0M328.5 361.9h0M328.9 362.3h0M329.0 361.9h0M329.2 359.4h0M329.4 359.9h0M329.5 358.5h0M329.7 361.9h0M329.9 356.9h0M330.2 356.9h0M330.3 360.6h0M330.4 360.4h0M330.7 359.0h0M330.8 361.5h0M331.1 363.4h0M331.3 362.1h0M331.4 362.2h0M331.6 362.4h0M331.9 362.5h0M332.1 361.5h0M332.3 365.2h0M332.5 361.8h0M332.6 363.5h0M332.8 363.5h0M332.9 363.9h0M333.2 362.6h0M333.3 365.1h0M333.5 364.4h0M333.8 365.8h0M333.9 365.2h0M334.2 371.9h0M334.3 369.3h0M334.5 369.3h0M334.7 371.1h0M334.8 365.8h0M335.1 363.5h0M335.3 365.0h0M335.5 364.0h0M335.7 363.8h0M335.8 362.6h0M336.0 363.5h0M336.2 363.1h0M336.5 361.0h0M336.6 363.7h0M336.8 361.5h0M337.0 363.2h0M337.2 361.8h0M337.4 358.9h0M337.5 357.7h0M337.8 356.3h0M338.0 359.3h0M338.2 360.2h0M338.3 361.6h0M338.5 357.7h0M338.6 361.2h0M339.0 359.1h0M339.1 360.3h0M339.2 360.5h0M339.5 364.0h0M339.6 364.3h0M339.8 363.5h0M340.1 361.6h0M340.3 362.7h0M340.5 361.1h0M340.6 359.6h0M340.8 358.8h0M341.1 360.1h0M341.1 358.4h0M341.4 358.6h0M341.6 358.4h0M341.8 360.2h0M341.9 360.2h0M342.1 364.0h0M342.4 367.0h0M342.4 365.2h0M342.6 360.7h0M342.9 362.5h0M343.1 359.7h0M343.2 358.8h0M343.4 360.8h0M343.7 359.1h0M343.9 358.8h0M344.0 360.2h0M344.3 358.4h0M344.5 357.5h0M344.6 356.8h0M344.7 357.2h0M345.0 359.2h0M345.2 359.9h0M345.3 361.9h0M345.6 361.4h0M345.7 363.6h0M345.9 360.8h0M346.2 361.2h0M346.3 361.2h0M346.5 361.2h0M346.7 364.4h0M346.9 361.7h0M347.1 361.1h0M347.3 360.9h0M347.5 358.7h0M347.6 359.8h0M347.8 356.9h0M348.0 359.2h0M348.3 361.8h0M348.4 362.0h0M348.7 363.8h0M348.8 359.1h0M349.0 363.4h0M349.1 363.2h0M349.4 363.3h0M349.6 362.0h0M349.7 364.2h0M349.9 361.6h0M350.0 362.8h0M350.4 363.6h0M350.5 365.3h0M350.7 360.4h0M350.9 359.6h0M351.1 360.1h0M351.3 362.1h0M351.4 364.8h0M351.6 364.4h0M351.9 363.0h0M352.0 361.2h0M352.2 364.1h0M352.5 363.2h0M352.5 364.0h0M352.8 363.5h0M353.0 363.2h0M353.2 362.1h0M353.3 362.5h0M353.6 360.8h0M353.7 357.2h0M353.9 349.6h0M354.0 356.2h0M354.3 355.6h0M354.4 357.4h0M354.6 364.1h0M354.8 362.2h0M355.0 361.6h0M355.3 362.6h0M355.5 365.6h0M355.7 365.6h0M355.9 367.3h0M356.0 365.7h0M356.1 364.6h0M356.4 367.9h0M356.6 367.1h0M356.8 368.8h0M356.9 363.8h0M357.2 363.9h0M357.3 363.2h0M357.5 365.1h0M357.8 365.0h0M357.9 364.5h0M358.1 359.2h0M358.3 363.7h0M358.4 357.2h0M358.6 359.1h0M358.9 359.7h0M359.1 357.6h0M359.2 359.6h0M359.5 363.2h0M359.7 363.1h0M359.9 364.0h0M360.0 367.8h0M360.1 362.0h0M360.4 364.2h0M360.6 360.8h0M360.7 359.2h0M361.0 361.4h0M361.1 358.3h0M361.3 356.9h0M361.4 359.5h0M361.7 357.0h0M362.0 358.7h0M362.1 355.5h0M362.3 354.8h0M362.5 356.6h0M362.7 357.7h0M362.9 357.1h0M363.1 358.9h0M363.2 356.1h0M363.4 357.9h0M363.6 355.3h0M363.8 356.0h0M364.0 359.1h0M364.2 361.2h0M364.4 362.8h0M364.6 362.3h0M364.8 356.6h0M364.9 357.9h0M365.2 354.8h0M365.3 356.7h0M365.5 356.0h0M365.6 357.1h0M366.0 356.6h0M366.0 355.2h0M366.4 354.8h0M366.5 350.8h0M366.7 355.1h0M366.8 352.7h0M367.0 355.1h0M367.3 355.3h0M367.4 357.0h0M367.6 356.4h0M367.8 358.3h0M368.0 358.7h0M368.2 359.9h0M368.4 359.8h0M368.5 353.1h0M368.7 352.7h0M368.9 354.1h0M369.2 358.6h0M369.3 356.8h0M369.5 359.5h0M369.8 360.3h0M369.9 361.6h0M370.1 361.0h0M370.3 360.3h0M370.4 360.2h0M370.6 361.3h0M370.9 364.3h0M371.1 364.6h0M371.2 362.0h0M371.4 362.2h0M371.6 360.1h0M371.8 363.2h0M372.0 361.7h0M372.2 361.1h0M372.3 361.7h0M372.6 361.6h0M372.8 358.3h0M373.0 360.4h0M373.1 364.4h0M373.4 364.7h0M373.5 365.7h0M373.8 363.7h0M373.8 363.3h0M374.1 364.5h0M374.3 362.7h0M374.4 366.2h0M374.6 364.9h0M374.8 363.5h0M375.0 363.8h0M375.2 361.7h0M375.5 361.9h0M375.6 358.9h0M375.8 358.6h0M376.0 355.6h0M376.2 353.2h0M376.4 346.2h0M376.5 352.7h0M376.7 355.8h0M376.9 359.1h0M377.1 360.9h0M377.4 362.3h0M377.5 361.7h0M377.7 360.3h0M377.9 358.6h0M378.1 359.5h0M378.2 358.1h0M378.4 357.3h0M378.7 359.6h0M378.8 354.8h0M379.1 358.2h0M379.2 356.1h0M379.4 359.5h0M379.6 361.8h0M379.8 359.6h0M380.0 359.6h0M380.2 358.8h0M380.3 361.9h0M380.5 360.6h0M380.7 361.2h0M380.9 362.5h0M381.2 364.6h0M381.4 363.1h0M381.5 364.3h0M381.6 361.5h0M381.9 363.3h0M382.1 360.4h0M382.2 357.1h0M382.5 358.0h0M382.7 357.1h0M382.8 354.6h0M383.0 352.1h0M383.2 361.4h0M383.4 354.9h0M383.6 354.2h0M383.7 357.1h0M384.0 356.1h0M384.1 357.1h0M384.4 358.6h0M384.5 355.8h0M384.8 359.6h0M384.9 361.4h0M385.0 362.0h0M385.3 365.2h0M385.4 364.0h0M385.7 361.9h0M385.9 363.4h0M386.0 364.5h0M386.3 361.9h0M386.4 361.2h0M386.6 363.6h0M386.8 369.9h0M387.0 368.0h0M387.2 363.2h0M387.4 365.1h0M387.6 365.6h0M387.8 363.9h0M387.9 363.5h0M388.1 364.9h0M388.3 363.8h0M388.5 362.7h0M388.7 361.0h0M388.9 363.1h0M389.2 367.8h0M389.4 363.5h0M389.5 362.3h0M389.6 364.7h0M389.9 366.6h0M390.0 364.3h0M390.3 365.3h0M390.5 364.3h0M390.6 364.1h0M390.8 368.5h0M390.9 368.4h0M391.2 368.1h0M391.4 365.9h0M391.5 365.0h0M391.8 364.3h0M392.0 365.0h0M392.2 369.2h0M392.3 365.4h0M392.6 364.9h0M392.8 363.1h0M392.9 363.6h0M393.1 363.8h0M393.4 361.5h0M393.4 363.5h0M393.6 361.0h0M393.8 358.2h0M394.1 358.3h0M394.2 352.8h0M394.5 353.7h0M394.7 351.1h0M394.8 358.5h0M395.0 359.8h0M395.2 362.1h0M395.4 362.2h0M395.6 363.2h0M395.7 364.0h0M395.9 360.7h0M396.1 362.3h0M396.4 362.5h0M396.5 361.4h0M396.8 362.2h0M397.0 363.7h0M397.1 363.4h0M397.3 367.7h0M397.4 364.9h0M397.7 366.2h0M397.9 363.9h0M398.0 366.1h0M398.3 364.4h0M398.5 364.2h0M398.6 362.3h0M398.8 362.8h0M399.0 364.3h0M399.2 361.2h0M399.3 360.5h0M399.6 360.6h0M399.8 361.3h0M399.9 357.1h0M400.1 361.4h0M400.4 359.6h0M400.5 363.3h0M400.7 364.3h0M400.9 364.7h0M401.1 363.5h0M401.3 364.1h0M401.5 365.2h0M401.7 363.0h0M401.9 363.4h0M402.0 361.2h0M402.2 361.2h0M402.4 362.5h0M402.6 363.3h0M402.8 363.7h0M403.0 362.7h0M403.2 361.8h0M403.3 364.1h0M403.6 363.4h0M403.8 361.9h0M403.9 363.4h0M404.2 363.7h0M404.3 363.6h0M404.4 365.7h0M404.7 363.9h0M404.9 361.8h0M405.1 361.2h0M405.3 362.1h0M405.5 362.9h0M405.6 362.9h0M405.9 362.7h0M406.0 361.9h0M406.2 362.3h0M406.4 364.6h0M406.7 365.8h0M406.8 364.4h0M407.0 364.5h0M407.2 362.9h0M407.4 360.7h0M407.5 361.3h0M407.8 362.5h0M407.9 359.5h0M408.2 362.1h0M408.3 358.5h0M408.5 355.4h0M408.7 351.4h0M408.9 348.3h0M409.1 352.9h0M409.2 354.0h0M409.4 359.1h0M409.7 360.5h0M409.8 359.6h0M410.1 362.4h0M410.2 360.6h0M410.4 362.3h0M410.6 361.0h0M410.8 362.1h0M411.0 364.5h0M411.2 368.3h0M411.3 368.8h0M411.6 362.4h0M411.7 361.9h0M411.9 364.5h0M412.2 360.5h0M412.3 362.8h0M412.5 361.8h0M412.7 362.6h0M412.8 362.3h0M413.1 359.3h0M413.3 360.2h0M413.5 358.5h0M413.6 360.5h0M413.8 359.6h0M414.0 361.8h0M414.2 363.6h0M414.4 362.4h0M414.5 363.8h0M414.8 362.2h0M414.9 362.1h0M415.1 361.7h0M415.4 360.6h0M415.5 361.3h0M415.8 357.1h0M415.9 359.5h0M416.1 360.0h0M416.4 358.2h0M416.5 361.3h0M416.7 361.4h0M416.9 362.5h0M417.0 364.0h0M417.2 361.5h0M417.4 363.0h0M417.6 362.1h0M417.8 363.7h0M418.1 364.2h0M418.2 364.2h0M418.4 360.5h0M418.7 360.3h0M418.7 358.4h0M418.9 359.7h0M419.2 358.7h0M419.4 357.9h0M419.6 356.5h0M419.7 354.8h0M420.0 355.8h0M420.1 356.4h0M420.3 358.0h0M420.5 356.9h0M420.7 357.3h0M420.9 355.1h0M421.0 356.6h0M421.2 357.1h0M421.5 356.8h0M421.7 358.8h0M421.9 362.7h0M422.1 360.0h0M422.1 359.5h0M422.3 356.8h0M422.6 357.0h0M422.8 356.1h0M422.9 355.4h0M423.2 355.3h0M423.4 357.3h0M423.6 356.9h0M423.7 359.2h0M423.9 357.6h0M424.1 360.6h0M424.3 359.2h0M424.5 362.0h0M424.7 362.9h0M424.9 360.9h0M425.1 362.2h0M425.2 362.7h0M425.4 360.5h0M425.6 362.0h0M425.8 361.2h0M426.0 358.5h0M426.2 359.8h0M426.4 357.0h0M426.6 355.2h0M426.8 354.1h0M426.9 350.2h0M427.1 350.6h0M427.3 353.7h0M427.5 355.4h0M427.8 357.4h0M427.9 363.1h0M428.0 360.8h0M428.3 362.2h0M428.5 358.9h0M428.6 360.8h0M428.9 357.8h0M429.1 356.5h0M429.2 355.0h0M429.5 354.5h0M429.6 351.2h0M429.8 355.5h0M430.0 353.2h0M430.2 358.2h0M430.5 360.7h0M430.6 361.0h0M430.7 362.2h0M431.0 361.6h0M431.1 363.2h0M431.3 365.2h0M431.5 366.1h0M431.6 362.5h0M431.9 364.2h0M432.2 360.5h0M432.3 365.6h0M432.5 366.6h0M432.7 366.9h0M432.9 360.3h0M433.1 361.8h0M433.2 362.4h0M433.4 359.2h0M433.6 360.7h0M433.8 359.3h0M434.0 359.1h0M434.1 358.4h0M434.4 357.6h0M434.6 358.6h0M434.7 357.0h0M434.9 355.3h0M435.1 356.0h0M435.4 356.3h0M435.5 358.1h0M435.7 357.5h0M435.9 356.9h0M436.1 357.5h0M436.3 358.7h0M436.5 356.4h0M436.6 358.7h0M436.8 359.0h0M437.0 356.0h0M437.2 352.4h0M437.4 353.6h0M437.6 357.0h0M437.8 355.8h0M438.1 357.6h0M438.2 358.1h0M438.4 357.9h0M438.5 359.2h0M438.8 359.2h0M438.9 360.3h0M439.2 361.0h0M439.3 361.8h0M439.5 363.5h0M439.8 362.7h0M440.0 360.0h0M440.0 359.1h0M440.3 358.8h0M440.4 357.8h0M440.6 357.9h0M440.8 358.4h0M441.0 359.9h0M441.2 357.0h0M441.5 359.0h0M441.6 357.2h0M441.9 353.8h0M442.0 355.4h0M442.2 354.8h0M442.4 356.5h0M442.6 357.6h0M442.7 357.8h0M443.0 359.9h0M443.1 359.9h0M443.4 360.3h0M443.5 360.8h0M443.7 359.4h0M443.9 362.2h0M444.0 360.0h0M444.3 357.5h0M444.5 360.3h0M444.7 361.9h0M444.8 361.2h0M445.0 361.3h0M445.2 359.8h0M445.4 363.2h0M445.6 360.3h0M445.7 360.8h0M446.0 359.6h0M446.2 360.7h0M446.3 359.9h0M446.5 361.2h0M446.8 359.4h0M446.9 361.6h0M447.1 358.7h0M447.3 360.2h0M447.5 356.8h0M447.7 355.1h0M447.9 350.6h0M448.1 356.3h0M448.3 355.3h0M448.4 356.1h0M448.7 356.6h0M448.9 357.7h0M449.0 358.4h0M449.2 359.2h0M449.5 358.5h0M449.5 360.4h0M449.8 358.8h0M450.0 358.8h0M450.1 359.9h0M450.4 361.5h0M450.5 360.5h0M450.8 359.5h0M451.0 358.9h0M451.2 358.1h0M451.4 358.1h0M451.4 358.7h0M451.7 356.6h0M451.8 354.7h0M452.0 357.0h0M452.3 354.8h0M452.4 358.9h0M452.6 357.3h0M452.8 360.7h0M453.0 360.7h0M453.2 359.2h0M453.4 359.8h0M453.6 357.5h0M453.7 362.9h0M453.9 364.4h0M454.2 365.8h0M454.4 372.3h0M454.6 366.9h0M454.8 361.5h0M454.9 362.8h0M455.1 361.8h0M455.4 359.0h0M455.5 355.3h0M455.8 356.3h0M455.9 360.8h0M456.0 359.3h0M456.3 360.9h0M456.4 361.9h0M456.7 362.2h0M456.8 361.2h0M457.0 363.2h0M457.1 361.7h0M457.4 362.9h0M457.6 364.7h0M457.8 366.7h0M458.0 368.9h0M458.2 365.2h0M458.4 366.6h0M458.5 364.5h0M458.8 362.1h0M458.9 365.4h0M459.2 364.4h0M459.3 363.0h0M459.5 363.3h0M459.7 364.9h0M459.8 365.7h0M460.0 365.9h0M460.3 364.1h0M460.4 365.2h0M460.6 367.0h0M460.8 365.9h0M461.1 364.3h0M461.2 364.6h0M461.4 358.6h0M461.5 360.9h0M461.7 359.4h0M461.9 362.1h0M462.1 362.0h0M462.3 362.9h0M462.6 361.7h0M462.7 362.9h0M463.0 359.3h0M463.1 361.0h0M463.3 361.5h0M463.5 362.9h0M463.7 367.0h0M463.9 364.9h0M464.0 361.1h0M464.2 359.4h0M464.4 358.8h0M464.6 357.1h0M464.8 357.7h0M465.1 357.6h0M465.2 356.8h0M465.4 357.1h0M465.6 355.3h0M465.8 354.7h0M465.9 353.9h0M466.2 356.0h0M466.3 352.6h0M466.5 354.8h0M466.8 356.3h0M466.9 359.7h0M467.0 358.6h0M467.3 360.1h0M467.4 358.7h0M467.7 357.7h0M467.8 357.4h0M468.0 359.3h0M468.3 361.6h0M468.4 361.6h0M468.6 357.4h0M468.8 358.9h0M469.0 359.7h0M469.2 360.1h0M469.4 359.0h0M469.6 361.1h0M469.8 356.9h0M469.9 357.1h0M470.1 352.4h0M470.4 349.8h0M470.5 351.8h0M470.7 355.8h0M471.0 360.9h0M471.1 359.6h0M471.2 360.4h0M471.5 360.7h0M471.7 358.9h0M471.9 359.1h0M472.1 361.1h0M472.2 361.3h0M472.4 362.8h0M96.3 348.4h0M91.7 354.9h0M91.7 360.3h0M113.0 357.9h0M116.3 355.9h0M119.5 357.1h0M65.5 357.9h0M71.3 357.9h0M54.9 375.9h0M57.4 373.4h0M57.9 381.1h0M63.1 377.8h0M63.4 386.0h0M68.8 372.3h0M77.0 373.9h0M83.5 381.6h0M83.5 384.0h0M86.8 388.1h0M87.6 390.6h0M87.6 379.1h0M82.7 399.1h0M90.9 376.7h0M95.0 376.7h0M113.8 384.4h0M113.8 388.9h0M114.6 375.0h0M118.7 375.9h0M123.3 373.4h0M122.8 380.8h0M176.5 352.2h0M169.2 354.3h0M160.2 354.6h0M164.3 355.4h0M177.4 355.9h0M182.3 355.9h0M158.5 371.8h0M179.0 373.4h0M173.3 370.1h0M168.8 368.5h0M188.0 369.7h0M195.7 374.2h0M203.5 371.8h0M201.1 368.5h0M215.1 348.1h0M215.1 351.7h0M215.1 355.9h0M229.1 351.7h0M220.4 355.4h0M224.2 353.8h0M230.3 356.6h0M247.4 351.0h0M272.0 355.4h0M275.3 355.4h0M205.7 375.0h0M204.9 371.8h0M213.4 371.3h0M219.6 369.7h0M226.5 373.9h0M227.0 380.4h0M227.0 382.7h0M228.6 370.6h0M237.6 369.3h0M242.2 370.1h0M255.6 372.3h0M259.7 378.8h0M265.1 378.8h0M265.1 385.7h0M264.6 371.8h0M269.5 372.9h0M279.3 370.1h0M314.8 338.3h0M314.3 344.8h0M311.3 347.7h0M311.3 351.0h0M328.7 346.1h0M328.7 347.7h0M283.5 351.3h0M294.3 353.3h0M320.5 353.8h0M343.4 351.7h0M347.8 355.4h0M351.9 354.3h0M278.6 370.6h0M282.9 371.8h0M286.8 370.1h0M287.3 377.8h0M287.8 383.2h0M293.0 369.3h0M301.2 375.5h0M309.7 371.8h0M323.3 365.7h0M333.6 375.0h0M334.7 369.7h0M336.8 369.3h0M342.1 369.3h0M350.3 371.8h0M350.6 369.7h0M364.4 347.3h0M366.0 347.7h0M383.5 346.1h0M383.5 351.0h0M388.9 347.3h0M352.0 354.3h0M360.6 353.3h0M372.9 355.9h0M397.4 353.8h0M406.4 353.8h0M413.8 352.7h0M422.0 351.3h0M427.7 350.5h0M356.2 369.3h0M356.2 373.4h0M356.2 379.1h0M356.5 376.2h0M361.1 372.3h0M372.9 367.7h0M373.7 370.1h0M387.3 371.8h0M387.6 375.9h0M387.3 378.3h0M399.1 371.8h0M402.0 369.7h0M414.6 367.7h0M415.4 375.5h0M424.4 367.7h0M429.3 373.4h0M350.0 369.3h0M463.3 341.9h0M463.3 343.5h0M463.3 348.1h0M462.4 352.2h0M437.1 347.7h0M432.2 347.7h0M428.9 348.9h0M442.0 350.5h0M427.3 351.7h0M415.8 365.2h0M415.8 372.3h0M415.8 375.5h0M425.1 368.5h0M429.4 373.9h0M432.7 374.2h0M434.3 370.6h0M429.4 383.2h0M456.7 369.7h0M461.6 370.6h0M461.6 375.9h0M462.4 377.5h0M462.4 390.2h0M471.4 369.7h0M471.9 366.9h0" stroke="#777" stroke-width="1.7" stroke-linecap="square" fill="none"/>
<path d="M56.5 366.8 57.6 367.5 58.7 367.5 59.8 368.2 60.9 368.2 62.0 369.1 63.1 369.6 64.2 369.4 65.3 368.4 66.4 367.7 67.5 366.3 68.6 365.8 69.7 364.1 70.8 363.5 71.9 362.2 73.0 361.8 74.1 362.0 75.2 363.1 76.3 364.0 77.4 365.5 78.5 366.1 79.6 367.2 80.7 367.9 81.8 369.3 82.9 370.1 84.0 371.5 85.1 372.1 86.2 373.1 87.3 373.6 88.4 373.6 89.5 372.1 90.6 369.4 91.7 367.5 92.8 366.4 93.9 366.6 95.0 367.9 96.1 366.7 97.2 366.5 98.3 365.3 99.4 364.6 100.5 363.6 101.6 363.3 102.7 362.3 103.8 363.1 104.9 363.1 106.0 363.6 107.1 363.4 108.2 363.4 109.3 362.6 110.4 363.0 111.5 363.1 112.6 364.6 113.7 366.5 114.8 366.5 115.9 365.2 117.0 365.1 118.1 364.4 119.2 364.9 120.3 365.4 121.4 366.3 122.5 366.3 123.6 367.2 124.7 365.4 125.8 364.6 126.9 363.1 128.0 362.3 129.1 361.1 130.2 361.4 131.3 360.9 132.4 361.3 133.5 361.1 134.6 361.5 135.7 361.0 136.8 361.4 137.9 361.0 139.0 361.3 140.1 361.1 141.2 361.5 142.3 361.0 143.4 361.5 144.5 360.9 145.6 361.3 146.7 361.0 147.8 361.3 148.9 360.7 150.0 360.4 151.1 359.6 152.2 360.1 153.3 360.1 154.4 361.4 155.5 362.1 156.6 363.8 157.7 365.0 158.8 364.2 159.9 362.8 161.0 361.7 162.1 361.5 163.2 362.6 164.3 361.7 165.4 361.9 166.5 361.6 167.6 362.2 168.7 361.4 169.8 361.5 170.9 361.8 172.0 362.9 173.1 363.1 174.2 363.8 175.3 362.7 176.4 362.3 177.5 362.6 178.6 363.6 179.7 363.0 180.8 362.9 181.9 361.8 183.0 361.2 184.1 360.4 185.2 361.9 186.3 362.5 187.4 363.5 188.5 363.7 189.6 364.2 190.7 363.5 191.8 363.6 192.9 363.0 194.0 363.2 195.1 363.3 196.2 363.8 197.3 363.7 198.4 364.1 199.5 364.1 200.6 364.5 201.7 364.7 202.8 365.8 203.9 366.0 205.0 366.2 206.1 365.5 207.2 365.4 208.3 364.4 209.4 364.2 210.5 363.1 211.6 362.9 212.7 362.2 213.8 362.0 214.9 361.4 216.0 361.3 217.1 360.6 218.2 361.6 219.3 361.7 220.4 362.3 221.5 362.1 222.6 362.4 223.7 361.6 224.8 362.0 225.9 362.4 227.0 363.9 228.1 363.9 229.2 364.7 230.3 363.9 231.4 363.7 232.5 362.6 233.6 362.5 234.7 361.9 235.8 362.4 236.9 362.3 238.0 362.9 239.1 362.9 240.2 362.8 241.3 361.9 242.4 362.1 243.5 361.5 244.6 361.3 245.7 359.7 246.8 359.3 247.9 358.4 249.0 359.1 250.1 359.6 251.2 360.6 252.3 361.0 253.4 361.9 254.5 362.0 255.6 362.9 256.7 362.9 257.8 363.8 258.9 363.4 260.0 363.5 261.1 363.2 262.2 364.0 263.3 364.0 264.4 364.3 265.5 364.2 266.6 363.9 267.7 363.0 268.8 362.9 269.9 362.1 271.0 361.7 272.1 360.7 273.2 360.6 274.3 360.8 275.4 361.5 276.5 361.5 277.6 362.1 278.7 362.1 279.8 362.9 280.9 362.8 282.0 363.8 283.1 363.3 284.2 363.3 285.3 362.7 286.4 362.8 287.5 362.4 288.6 362.4 289.7 361.8 290.8 362.0 291.9 361.4 293.0 361.4 294.1 360.8 295.2 360.7 296.3 359.9 297.4 360.1 298.5 359.8 299.6 360.6 300.7 360.4 301.8 361.0 302.9 360.8 304.0 361.2 305.1 360.8 306.2 361.0 307.3 360.7 308.4 361.0 309.5 360.6 310.6 360.3 311.7 359.4 312.8 358.9 313.9 358.5 315.0 359.5 316.1 359.6 317.2 360.4 318.3 359.9 319.4 359.8 320.5 359.3 321.6 359.7 322.7 359.4 323.8 359.5 324.9 359.0 326.0 359.0 327.1 358.3 328.2 359.2 329.3 359.7 330.4 361.6 331.5 362.9 332.6 363.9 333.7 364.0 334.8 364.4 335.9 363.6 337.0 363.1 338.1 361.3 339.2 360.8 340.3 359.9 341.4 359.7 342.5 359.6 343.6 360.4 344.7 360.6 345.8 361.5 346.9 361.4 348.0 362.1 349.1 361.7 350.2 361.4 351.3 360.8 352.4 361.7 353.5 361.6 354.6 362.5 355.7 363.3 356.8 364.5 357.9 363.1 359.0 362.0 360.1 360.0 361.2 359.4 362.3 358.1 363.4 357.8 364.5 356.8 365.6 356.5 366.7 356.8 367.8 357.9 368.9 358.4 370.0 359.5 371.1 359.9 372.2 361.0 373.3 361.3 374.4 361.6 375.5 361.0 376.6 361.0 377.7 360.2 378.8 360.4 379.9 360.0 381.0 360.1 382.1 359.3 383.2 359.1 384.3 357.7 385.4 360.3 386.5 362.3 387.6 364.7 388.7 364.7 389.8 364.7 390.9 363.3 392.0 362.1 393.1 361.3 394.2 361.9 395.3 362.0 396.4 362.4 397.5 362.4 398.6 363.1 399.7 363.3 400.8 363.9 401.9 363.9 403.0 363.6 404.1 361.8 405.2 361.1 406.3 360.6 407.4 360.4 408.5 360.4 409.6 360.9 410.7 361.1 411.8 361.9 412.9 362.1 414.0 363.0 415.1 362.7 416.2 362.4 417.3 361.4 418.4 360.3 419.5 358.6 420.6 357.8 421.7 356.4 422.8 356.5 423.9 357.5 425.0 358.9 426.1 359.0 427.2 359.9 428.3 359.9 429.4 360.4 430.5 360.5 431.6 361.4 432.7 360.7 433.8 359.8 434.9 358.4 436.0 358.4 437.1 357.4 438.2 358.2 439.3 358.1 440.4 358.6 441.5 358.8 442.6 359.7 443.7 359.8 444.8 360.4 445.9 359.6 447.0 359.6 448.1 358.7 449.2 358.6 450.3 358.5 451.4 359.7 452.5 360.2 453.6 361.2 454.7 361.4 455.8 362.0 456.9 361.9 458.0 363.2 459.1 363.9 460.2 365.2 461.3 365.0 462.4 362.7 463.5 359.6 464.6 357.4 465.7 357.0 466.8 357.7 467.9 357.8 469.0 358.5 470.1 358.7 471.2 359.3" stroke="#ff1c1c" stroke-width="1.05" fill="none" stroke-linejoin="round"/>
<rect x="34.46" y="335.42" width="460.02" height="67" fill="none" class="sp"/>
<line x1="32.56" y1="343.94" x2="34.46" y2="343.94" class="tk"/>
<text x="31.3" y="346.34" class="tl" text-anchor="end" letter-spacing="0.3">20</text>
<line x1="32.56" y1="361.6" x2="34.46" y2="361.6" class="tk"/>
<text x="31.3" y="364" class="tl" text-anchor="end" letter-spacing="0.3">0</text>
<line x1="32.56" y1="379.26" x2="34.46" y2="379.26" class="tk"/>
<text x="31.3" y="381.66" class="tl" text-anchor="end" letter-spacing="0.3">20</text>
<line x1="18.18" y1="379.26" x2="22.38" y2="379.26" stroke="#262626" stroke-width="0.62"/>
<line x1="32.56" y1="396.92" x2="34.46" y2="396.92" class="tk"/>
<text x="31.3" y="399.32" class="tl" text-anchor="end" letter-spacing="0.3">40</text>
<line x1="18.18" y1="396.92" x2="22.38" y2="396.92" stroke="#262626" stroke-width="0.62"/>
<line x1="53.45" y1="402.42" x2="53.45" y2="404.32" class="tk"/>
<text x="53.45" y="410.7" class="tl" text-anchor="middle">06-01</text>
<line x1="117.37" y1="402.42" x2="117.37" y2="404.32" class="tk"/>
<text x="117.37" y="410.7" class="tl" text-anchor="middle">06-15</text>
<line x1="190.41" y1="402.42" x2="190.41" y2="404.32" class="tk"/>
<text x="190.41" y="410.7" class="tl" text-anchor="middle">07-01</text>
<line x1="254.33" y1="402.42" x2="254.33" y2="404.32" class="tk"/>
<text x="254.33" y="410.7" class="tl" text-anchor="middle">07-15</text>
<line x1="331.94" y1="402.42" x2="331.94" y2="404.32" class="tk"/>
<text x="331.94" y="410.7" class="tl" text-anchor="middle">08-01</text>
<line x1="395.86" y1="402.42" x2="395.86" y2="404.32" class="tk"/>
<text x="395.86" y="410.7" class="tl" text-anchor="middle">08-15</text>
<line x1="473.47" y1="402.42" x2="473.47" y2="404.32" class="tk"/>
<text x="473.47" y="410.7" class="tl" text-anchor="middle">09-01</text>
<text x="264.47" y="332.52" class="tt" text-anchor="middle" textLength="49.2" lengthAdjust="spacingAndGlyphs">CBW 207.0 m</text>
<text x="356.6" y="342.32" class="tt" textLength="59.2" lengthAdjust="spacingAndGlyphs">-0.92±5.91 ppm</text>
<text x="43.7" y="345.42" class="pl">(e)</text>
<text transform="translate(13.8,368.92) rotate(-90)" class="yl" text-anchor="middle">CO<tspan font-size="5" dy="1.3">2</tspan><tspan dy="-1.3"> [ppm]</tspan></text>
</svg></body></html>
